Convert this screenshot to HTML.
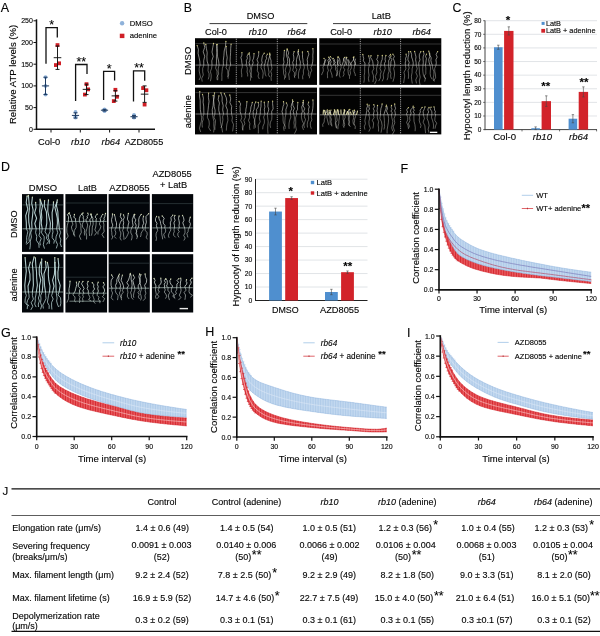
<!DOCTYPE html>
<html><head><meta charset="utf-8"><title>Figure</title>
<style>
html,body{margin:0;padding:0;background:#fff;}
body{width:600px;height:636px;overflow:hidden;}
svg{display:block;font-family:"Liberation Sans",Arial,sans-serif;}
text{stroke:#111;stroke-width:0.22px;stroke-opacity:0.55;}
</style></head><body>
<svg width="600" height="636" viewBox="0 0 600 636">
<rect width="600" height="636" fill="#fff"/>
<text x="0.80" y="11.50" font-size="12.5">A</text>
<line x1="36.50" y1="19.30" x2="36.50" y2="130.00" stroke="#111" stroke-width="1.5" />
<line x1="35.80" y1="129.30" x2="155.00" y2="129.30" stroke="#111" stroke-width="1.5" />
<line x1="33.50" y1="129.30" x2="36.50" y2="129.30" stroke="#111" stroke-width="1" />
<text x="32.90" y="131.80" font-size="7" text-anchor="end">0</text>
<line x1="33.50" y1="107.60" x2="36.50" y2="107.60" stroke="#111" stroke-width="1" />
<text x="32.90" y="110.10" font-size="7" text-anchor="end">50</text>
<line x1="33.50" y1="85.90" x2="36.50" y2="85.90" stroke="#111" stroke-width="1" />
<text x="32.90" y="88.40" font-size="7" text-anchor="end">100</text>
<line x1="33.50" y1="64.20" x2="36.50" y2="64.20" stroke="#111" stroke-width="1" />
<text x="32.90" y="66.70" font-size="7" text-anchor="end">150</text>
<line x1="33.50" y1="42.50" x2="36.50" y2="42.50" stroke="#111" stroke-width="1" />
<text x="32.90" y="45.00" font-size="7" text-anchor="end">200</text>
<line x1="33.50" y1="20.80" x2="36.50" y2="20.80" stroke="#111" stroke-width="1" />
<text x="32.90" y="23.30" font-size="7" text-anchor="end">250</text>
<line x1="51.00" y1="129.30" x2="51.00" y2="132.50" stroke="#111" stroke-width="1" />
<line x1="80.30" y1="129.30" x2="80.30" y2="132.50" stroke="#111" stroke-width="1" />
<line x1="109.60" y1="129.30" x2="109.60" y2="132.50" stroke="#111" stroke-width="1" />
<line x1="139.00" y1="129.30" x2="139.00" y2="132.50" stroke="#111" stroke-width="1" />
<text x="49.20" y="144.50" font-size="9.3" text-anchor="middle">Col-0</text>
<text x="80.40" y="144.50" font-size="9.3" text-anchor="middle" font-style="italic">rb10</text>
<text x="110.90" y="144.50" font-size="9.3" text-anchor="middle" font-style="italic">rb64</text>
<text x="144.00" y="144.50" font-size="9.15" text-anchor="middle">AZD8055</text>
<text x="16.20" y="74.40" font-size="9.6" text-anchor="middle" transform="rotate(-90 16.20 74.40)">Relative ATP levels (%)</text>
<circle cx="45.50" cy="77.22" r="1.9" fill="#8fb2da"/>
<circle cx="45.50" cy="85.90" r="1.9" fill="#8fb2da"/>
<circle cx="45.50" cy="94.58" r="1.9" fill="#8fb2da"/>
<line x1="45.50" y1="77.22" x2="45.50" y2="94.58" stroke="#1f3a5f" stroke-width="1.0" />
<line x1="43.50" y1="77.22" x2="47.50" y2="77.22" stroke="#1f3a5f" stroke-width="1.0" />
<line x1="43.50" y1="94.58" x2="47.50" y2="94.58" stroke="#1f3a5f" stroke-width="1.0" />
<line x1="41.90" y1="85.90" x2="49.10" y2="85.90" stroke="#1f3a5f" stroke-width="1.0" />
<rect x="55.60" y="43.20" width="3.80" height="3.80" fill="#d01f26" />
<rect x="57.20" y="61.43" width="3.80" height="3.80" fill="#d01f26" />
<rect x="54.00" y="63.17" width="3.80" height="3.80" fill="#d01f26" />
<line x1="57.50" y1="45.97" x2="57.50" y2="69.41" stroke="#111" stroke-width="0.95" />
<line x1="55.50" y1="45.97" x2="59.50" y2="45.97" stroke="#111" stroke-width="0.95" />
<line x1="55.50" y1="69.41" x2="59.50" y2="69.41" stroke="#111" stroke-width="0.95" />
<line x1="53.70" y1="57.69" x2="61.30" y2="57.69" stroke="#111" stroke-width="0.95" />
<circle cx="75.50" cy="111.94" r="1.9" fill="#8fb2da"/>
<circle cx="75.50" cy="116.28" r="1.9" fill="#8fb2da"/>
<circle cx="75.50" cy="117.58" r="1.9" fill="#8fb2da"/>
<line x1="75.50" y1="112.81" x2="75.50" y2="118.02" stroke="#1f3a5f" stroke-width="1.0" />
<line x1="73.50" y1="112.81" x2="77.50" y2="112.81" stroke="#1f3a5f" stroke-width="1.0" />
<line x1="73.50" y1="118.02" x2="77.50" y2="118.02" stroke="#1f3a5f" stroke-width="1.0" />
<line x1="71.90" y1="115.41" x2="79.10" y2="115.41" stroke="#1f3a5f" stroke-width="1.0" />
<rect x="84.60" y="82.26" width="3.80" height="3.80" fill="#d01f26" />
<rect x="86.20" y="87.47" width="3.80" height="3.80" fill="#d01f26" />
<rect x="83.00" y="92.68" width="3.80" height="3.80" fill="#d01f26" />
<line x1="86.50" y1="84.16" x2="86.50" y2="94.58" stroke="#111" stroke-width="0.95" />
<line x1="84.50" y1="84.16" x2="88.50" y2="84.16" stroke="#111" stroke-width="0.95" />
<line x1="84.50" y1="94.58" x2="88.50" y2="94.58" stroke="#111" stroke-width="0.95" />
<line x1="82.70" y1="89.37" x2="90.30" y2="89.37" stroke="#111" stroke-width="0.95" />
<circle cx="104.50" cy="109.34" r="1.9" fill="#8fb2da"/>
<circle cx="104.50" cy="110.64" r="1.9" fill="#8fb2da"/>
<circle cx="104.50" cy="111.07" r="1.9" fill="#8fb2da"/>
<line x1="104.50" y1="109.34" x2="104.50" y2="111.07" stroke="#1f3a5f" stroke-width="1.0" />
<line x1="102.50" y1="109.34" x2="106.50" y2="109.34" stroke="#1f3a5f" stroke-width="1.0" />
<line x1="102.50" y1="111.07" x2="106.50" y2="111.07" stroke="#1f3a5f" stroke-width="1.0" />
<line x1="100.90" y1="110.20" x2="108.10" y2="110.20" stroke="#1f3a5f" stroke-width="1.0" />
<rect x="113.50" y="87.91" width="3.80" height="3.80" fill="#d01f26" />
<rect x="115.10" y="94.85" width="3.80" height="3.80" fill="#d01f26" />
<rect x="111.90" y="99.19" width="3.80" height="3.80" fill="#d01f26" />
<line x1="115.40" y1="90.67" x2="115.40" y2="101.09" stroke="#111" stroke-width="0.95" />
<line x1="113.40" y1="90.67" x2="117.40" y2="90.67" stroke="#111" stroke-width="0.95" />
<line x1="113.40" y1="101.09" x2="117.40" y2="101.09" stroke="#111" stroke-width="0.95" />
<line x1="111.60" y1="95.88" x2="119.20" y2="95.88" stroke="#111" stroke-width="0.95" />
<circle cx="134.00" cy="114.98" r="1.9" fill="#8fb2da"/>
<circle cx="134.00" cy="117.15" r="1.9" fill="#8fb2da"/>
<circle cx="134.00" cy="117.58" r="1.9" fill="#8fb2da"/>
<line x1="134.00" y1="115.41" x2="134.00" y2="118.02" stroke="#1f3a5f" stroke-width="1.0" />
<line x1="132.00" y1="115.41" x2="136.00" y2="115.41" stroke="#1f3a5f" stroke-width="1.0" />
<line x1="132.00" y1="118.02" x2="136.00" y2="118.02" stroke="#1f3a5f" stroke-width="1.0" />
<line x1="130.40" y1="116.71" x2="137.60" y2="116.71" stroke="#1f3a5f" stroke-width="1.0" />
<rect x="141.20" y="86.17" width="3.80" height="3.80" fill="#d01f26" />
<rect x="144.50" y="88.34" width="3.80" height="3.80" fill="#d01f26" />
<rect x="142.70" y="102.66" width="3.80" height="3.80" fill="#d01f26" />
<line x1="144.60" y1="85.90" x2="144.60" y2="102.39" stroke="#111" stroke-width="0.95" />
<line x1="142.60" y1="85.90" x2="146.60" y2="85.90" stroke="#111" stroke-width="0.95" />
<line x1="142.60" y1="102.39" x2="146.60" y2="102.39" stroke="#111" stroke-width="0.95" />
<line x1="140.80" y1="94.15" x2="148.40" y2="94.15" stroke="#111" stroke-width="0.95" />
<path d="M46 63.8 V27.6 H57.3 V37.5" stroke="#111" stroke-width="1.3" fill="none" />
<text x="51.65" y="28.80" font-size="12.5" text-anchor="middle">*</text>
<path d="M75.6 101 V64.5 H87 V74" stroke="#111" stroke-width="1.3" fill="none" />
<text x="81.30" y="65.70" font-size="12.5" text-anchor="middle">**</text>
<path d="M103.6 100 V71.4 H114.6 V80.5" stroke="#111" stroke-width="1.3" fill="none" />
<text x="109.10" y="72.60" font-size="12.5" text-anchor="middle">*</text>
<path d="M133.5 101.5 V70.9 H144.7 V80.8" stroke="#111" stroke-width="1.3" fill="none" />
<text x="139.10" y="72.10" font-size="12.5" text-anchor="middle">**</text>
<circle cx="122.1" cy="23.3" r="2.2" fill="#8fb2da"/>
<text x="129.70" y="26.30" font-size="7.7">DMSO</text>
<rect x="119.80" y="33.70" width="4.60" height="4.40" fill="#d01f26" />
<text x="129.70" y="38.30" font-size="7.7">adenine</text>
<text x="452.60" y="11.60" font-size="12.3">C</text>
<line x1="483.20" y1="129.60" x2="485.00" y2="129.60" stroke="#444" stroke-width="0.8" />
<text x="481.40" y="131.90" font-size="6.5" text-anchor="end">0</text>
<line x1="485.00" y1="115.99" x2="597.00" y2="115.99" stroke="#d4d8dc" stroke-width="0.7" />
<line x1="483.20" y1="115.99" x2="485.00" y2="115.99" stroke="#444" stroke-width="0.8" />
<text x="481.40" y="118.29" font-size="6.5" text-anchor="end">10</text>
<line x1="485.00" y1="102.38" x2="597.00" y2="102.38" stroke="#d4d8dc" stroke-width="0.7" />
<line x1="483.20" y1="102.38" x2="485.00" y2="102.38" stroke="#444" stroke-width="0.8" />
<text x="481.40" y="104.67" font-size="6.5" text-anchor="end">20</text>
<line x1="485.00" y1="88.76" x2="597.00" y2="88.76" stroke="#d4d8dc" stroke-width="0.7" />
<line x1="483.20" y1="88.76" x2="485.00" y2="88.76" stroke="#444" stroke-width="0.8" />
<text x="481.40" y="91.06" font-size="6.5" text-anchor="end">30</text>
<line x1="485.00" y1="75.15" x2="597.00" y2="75.15" stroke="#d4d8dc" stroke-width="0.7" />
<line x1="483.20" y1="75.15" x2="485.00" y2="75.15" stroke="#444" stroke-width="0.8" />
<text x="481.40" y="77.45" font-size="6.5" text-anchor="end">40</text>
<line x1="485.00" y1="61.54" x2="597.00" y2="61.54" stroke="#d4d8dc" stroke-width="0.7" />
<line x1="483.20" y1="61.54" x2="485.00" y2="61.54" stroke="#444" stroke-width="0.8" />
<text x="481.40" y="63.84" font-size="6.5" text-anchor="end">50</text>
<line x1="485.00" y1="47.92" x2="597.00" y2="47.92" stroke="#d4d8dc" stroke-width="0.7" />
<line x1="483.20" y1="47.92" x2="485.00" y2="47.92" stroke="#444" stroke-width="0.8" />
<text x="481.40" y="50.22" font-size="6.5" text-anchor="end">60</text>
<line x1="485.00" y1="34.31" x2="597.00" y2="34.31" stroke="#d4d8dc" stroke-width="0.7" />
<line x1="483.20" y1="34.31" x2="485.00" y2="34.31" stroke="#444" stroke-width="0.8" />
<text x="481.40" y="36.61" font-size="6.5" text-anchor="end">70</text>
<line x1="485.00" y1="20.70" x2="597.00" y2="20.70" stroke="#d4d8dc" stroke-width="0.7" />
<line x1="483.20" y1="20.70" x2="485.00" y2="20.70" stroke="#444" stroke-width="0.8" />
<text x="481.40" y="23.00" font-size="6.5" text-anchor="end">80</text>
<line x1="485.00" y1="20.50" x2="485.00" y2="130.10" stroke="#444" stroke-width="1.0" />
<line x1="484.50" y1="129.60" x2="597.00" y2="129.60" stroke="#444" stroke-width="1.0" />
<line x1="522.00" y1="129.60" x2="522.00" y2="131.40" stroke="#444" stroke-width="0.8" />
<line x1="559.60" y1="129.60" x2="559.60" y2="131.40" stroke="#444" stroke-width="0.8" />
<line x1="596.60" y1="129.60" x2="596.60" y2="131.40" stroke="#444" stroke-width="0.8" />
<rect x="494.00" y="47.24" width="8.60" height="82.36" fill="#4f8fcf" />
<line x1="498.30" y1="45.20" x2="498.30" y2="49.29" stroke="#444" stroke-width="0.6" />
<line x1="497.10" y1="45.20" x2="499.50" y2="45.20" stroke="#444" stroke-width="0.6" />
<line x1="497.10" y1="49.29" x2="499.50" y2="49.29" stroke="#444" stroke-width="0.6" />
<rect x="504.10" y="30.91" width="9.40" height="98.69" fill="#d2232a" />
<line x1="508.80" y1="26.83" x2="508.80" y2="34.99" stroke="#444" stroke-width="0.6" />
<line x1="507.60" y1="26.83" x2="510.00" y2="26.83" stroke="#444" stroke-width="0.6" />
<line x1="507.60" y1="34.99" x2="510.00" y2="34.99" stroke="#444" stroke-width="0.6" />
<rect x="531.30" y="128.24" width="8.60" height="1.36" fill="#4f8fcf" />
<line x1="535.60" y1="126.88" x2="535.60" y2="129.60" stroke="#444" stroke-width="0.6" />
<line x1="534.40" y1="126.88" x2="536.80" y2="126.88" stroke="#444" stroke-width="0.6" />
<line x1="534.40" y1="129.60" x2="536.80" y2="129.60" stroke="#444" stroke-width="0.6" />
<rect x="541.60" y="101.15" width="9.40" height="28.45" fill="#d2232a" />
<line x1="546.30" y1="95.84" x2="546.30" y2="106.46" stroke="#444" stroke-width="0.6" />
<line x1="545.10" y1="95.84" x2="547.50" y2="95.84" stroke="#444" stroke-width="0.6" />
<line x1="545.10" y1="106.46" x2="547.50" y2="106.46" stroke="#444" stroke-width="0.6" />
<rect x="568.60" y="118.71" width="8.60" height="10.89" fill="#4f8fcf" />
<line x1="572.90" y1="114.63" x2="572.90" y2="122.79" stroke="#444" stroke-width="0.6" />
<line x1="571.70" y1="114.63" x2="574.10" y2="114.63" stroke="#444" stroke-width="0.6" />
<line x1="571.70" y1="122.79" x2="574.10" y2="122.79" stroke="#444" stroke-width="0.6" />
<rect x="578.70" y="91.89" width="9.40" height="37.71" fill="#d2232a" />
<line x1="583.40" y1="86.86" x2="583.40" y2="96.93" stroke="#444" stroke-width="0.6" />
<line x1="582.20" y1="86.86" x2="584.60" y2="86.86" stroke="#444" stroke-width="0.6" />
<line x1="582.20" y1="96.93" x2="584.60" y2="96.93" stroke="#444" stroke-width="0.6" />
<text x="508.00" y="24.20" font-size="11.5" text-anchor="middle" font-weight="bold">*</text>
<text x="545.80" y="89.50" font-size="11.5" text-anchor="middle" font-weight="bold">**</text>
<text x="584.00" y="85.70" font-size="11.5" text-anchor="middle" font-weight="bold">**</text>
<text x="504.60" y="140.30" font-size="9.6" text-anchor="middle">Col-0</text>
<text x="542.40" y="140.00" font-size="9.6" text-anchor="middle" font-style="italic">rb10</text>
<text x="578.60" y="140.00" font-size="9.6" text-anchor="middle" font-style="italic">rb64</text>
<text x="470.20" y="75.80" font-size="9.47" text-anchor="middle" transform="rotate(-90 470.20 75.80)">Hypocotyl length reduction (%)</text>
<rect x="541.60" y="21.90" width="3.00" height="3.00" fill="#4f8fcf" />
<text x="545.90" y="25.80" font-size="7.35">LatB</text>
<rect x="541.30" y="28.90" width="3.80" height="3.80" fill="#d2232a" />
<text x="545.90" y="32.90" font-size="7.35">LatB + adenine</text>
<text x="215.80" y="173.50" font-size="12.4">E</text>
<text x="252.20" y="302.90" font-size="6.8" text-anchor="end">0</text>
<line x1="255.50" y1="287.02" x2="367.50" y2="287.02" stroke="#d4d8dc" stroke-width="0.7" />
<text x="252.20" y="289.42" font-size="6.8" text-anchor="end">10</text>
<line x1="255.50" y1="273.54" x2="367.50" y2="273.54" stroke="#d4d8dc" stroke-width="0.7" />
<text x="252.20" y="275.94" font-size="6.8" text-anchor="end">20</text>
<line x1="255.50" y1="260.07" x2="367.50" y2="260.07" stroke="#d4d8dc" stroke-width="0.7" />
<text x="252.20" y="262.47" font-size="6.8" text-anchor="end">30</text>
<line x1="255.50" y1="246.59" x2="367.50" y2="246.59" stroke="#d4d8dc" stroke-width="0.7" />
<text x="252.20" y="248.99" font-size="6.8" text-anchor="end">40</text>
<line x1="255.50" y1="233.11" x2="367.50" y2="233.11" stroke="#d4d8dc" stroke-width="0.7" />
<text x="252.20" y="235.51" font-size="6.8" text-anchor="end">50</text>
<line x1="255.50" y1="219.63" x2="367.50" y2="219.63" stroke="#d4d8dc" stroke-width="0.7" />
<text x="252.20" y="222.03" font-size="6.8" text-anchor="end">60</text>
<line x1="255.50" y1="206.16" x2="367.50" y2="206.16" stroke="#d4d8dc" stroke-width="0.7" />
<text x="252.20" y="208.56" font-size="6.8" text-anchor="end">70</text>
<line x1="255.50" y1="192.68" x2="367.50" y2="192.68" stroke="#d4d8dc" stroke-width="0.7" />
<text x="252.20" y="195.08" font-size="6.8" text-anchor="end">80</text>
<line x1="255.50" y1="179.20" x2="367.50" y2="179.20" stroke="#d4d8dc" stroke-width="0.7" />
<text x="252.20" y="181.60" font-size="6.8" text-anchor="end">90</text>
<line x1="255.50" y1="179.00" x2="255.50" y2="301.00" stroke="#222" stroke-width="1.0" />
<line x1="255.00" y1="300.50" x2="367.50" y2="300.50" stroke="#222" stroke-width="1.0" />
<rect x="269.10" y="211.55" width="12.80" height="88.95" fill="#4f8fcf" />
<line x1="275.50" y1="208.18" x2="275.50" y2="214.92" stroke="#444" stroke-width="0.6" />
<line x1="274.30" y1="208.18" x2="276.70" y2="208.18" stroke="#444" stroke-width="0.6" />
<line x1="274.30" y1="214.92" x2="276.70" y2="214.92" stroke="#444" stroke-width="0.6" />
<rect x="285.20" y="198.07" width="12.80" height="102.43" fill="#d2232a" />
<line x1="291.60" y1="196.72" x2="291.60" y2="199.42" stroke="#444" stroke-width="0.6" />
<line x1="290.40" y1="196.72" x2="292.80" y2="196.72" stroke="#444" stroke-width="0.6" />
<line x1="290.40" y1="199.42" x2="292.80" y2="199.42" stroke="#444" stroke-width="0.6" />
<rect x="325.00" y="292.01" width="12.80" height="8.49" fill="#4f8fcf" />
<line x1="331.40" y1="289.31" x2="331.40" y2="294.70" stroke="#444" stroke-width="0.6" />
<line x1="330.20" y1="289.31" x2="332.60" y2="289.31" stroke="#444" stroke-width="0.6" />
<line x1="330.20" y1="294.70" x2="332.60" y2="294.70" stroke="#444" stroke-width="0.6" />
<rect x="341.10" y="272.20" width="12.80" height="28.30" fill="#d2232a" />
<line x1="347.50" y1="270.98" x2="347.50" y2="273.41" stroke="#444" stroke-width="0.6" />
<line x1="346.30" y1="270.98" x2="348.70" y2="270.98" stroke="#444" stroke-width="0.6" />
<line x1="346.30" y1="273.41" x2="348.70" y2="273.41" stroke="#444" stroke-width="0.6" />
<text x="290.80" y="195.00" font-size="11.5" text-anchor="middle" font-weight="bold">*</text>
<text x="347.70" y="270.40" font-size="11.5" text-anchor="middle" font-weight="bold">**</text>
<text x="285.30" y="312.80" font-size="8.9" text-anchor="middle">DMSO</text>
<text x="339.60" y="312.60" font-size="9.25" text-anchor="middle">AZD8055</text>
<text x="239.20" y="236.40" font-size="9.52" text-anchor="middle" transform="rotate(-90 239.20 236.40)">Hypocotyl of length reduction (%)</text>
<rect x="310.80" y="180.80" width="3.40" height="3.40" fill="#4f8fcf" />
<text x="316.60" y="185.00" font-size="7.55">LatB</text>
<rect x="310.80" y="191.30" width="3.40" height="3.40" fill="#d2232a" />
<text x="316.60" y="195.60" font-size="7.55">LatB + adenine</text>
<text x="183.80" y="11.70" font-size="12.3">B</text>
<text x="260.50" y="18.90" font-size="9.2" text-anchor="middle">DMSO</text>
<text x="381.30" y="18.90" font-size="9.35" text-anchor="middle">LatB</text>
<line x1="209.50" y1="23.60" x2="307.30" y2="23.60" stroke="#222" stroke-width="0.9" />
<line x1="333.00" y1="23.60" x2="430.70" y2="23.60" stroke="#222" stroke-width="0.9" />
<text x="216.00" y="34.50" font-size="9.2" text-anchor="middle">Col-0</text>
<text x="258.00" y="34.50" font-size="9.2" text-anchor="middle" font-style="italic">rb10</text>
<text x="296.70" y="34.50" font-size="9.2" text-anchor="middle" font-style="italic">rb64</text>
<text x="341.20" y="34.50" font-size="9.2" text-anchor="middle">Col-0</text>
<text x="382.80" y="34.50" font-size="9.2" text-anchor="middle" font-style="italic">rb10</text>
<text x="421.70" y="34.50" font-size="9.2" text-anchor="middle" font-style="italic">rb64</text>
<text x="191.50" y="60.90" font-size="9.45" text-anchor="middle" transform="rotate(-90 191.50 60.90)">DMSO</text>
<text x="191.50" y="111.70" font-size="9.3" text-anchor="middle" transform="rotate(-90 191.50 111.70)">adenine</text>
<rect x="195.00" y="38.20" width="122.00" height="46.70" fill="#030303" />
<line x1="195.50" y1="43.60" x2="235.80" y2="43.60" stroke="#909090" stroke-width="0.7" stroke-opacity="0.5"/>
<line x1="195.50" y1="65.10" x2="235.80" y2="65.10" stroke="#c0c0c0" stroke-width="0.8" stroke-opacity="0.75"/>
<path d="M200.1 65.1 L199.8 61.2 L199.0 57.3 L198.1 53.4 L198.4 49.5 L197.2 45.6" stroke="#ecece6" stroke-width="0.6" fill="none" stroke-opacity="0.9" stroke-linejoin="round"/>
<circle cx="197.2" cy="45.6" r="0.65" fill="#cfc97a"/>
<path d="M200.1 65.1 L199.2 68.1 L199.2 71.0 L199.8 74.0 L200.5 77.0 L199.1 80.0" stroke="#ecece6" stroke-width="0.54" fill="none" stroke-opacity="0.7200000000000001" stroke-linejoin="round"/>
<path d="M203.8 65.1 L203.7 60.7 L204.7 56.2 L203.2 51.8 L204.7 47.4 L203.8 42.9" stroke="#ecece6" stroke-width="0.6" fill="none" stroke-opacity="0.9" stroke-linejoin="round"/>
<circle cx="203.8" cy="42.9" r="0.65" fill="#cfc97a"/>
<path d="M203.8 65.1 L202.7 68.4 L202.7 71.7 L203.3 75.0 L201.7 78.3 L202.2 81.6" stroke="#ecece6" stroke-width="0.54" fill="none" stroke-opacity="0.7200000000000001" stroke-linejoin="round"/>
<path d="M208.3 65.1 L207.1 61.0 L206.9 56.8 L207.2 52.7 L206.4 48.5 L205.8 44.4" stroke="#ecece6" stroke-width="0.6" fill="none" stroke-opacity="0.9" stroke-linejoin="round"/>
<circle cx="205.8" cy="44.4" r="0.65" fill="#cfc97a"/>
<path d="M208.3 65.1 L208.2 68.0 L208.0 70.8 L209.1 73.7 L209.0 76.5 L208.2 79.4" stroke="#ecece6" stroke-width="0.54" fill="none" stroke-opacity="0.7200000000000001" stroke-linejoin="round"/>
<path d="M212.0 65.1 L211.8 60.8 L213.2 56.5 L212.0 52.1 L212.7 47.8 L213.5 43.5" stroke="#ecece6" stroke-width="0.6" fill="none" stroke-opacity="0.9" stroke-linejoin="round"/>
<circle cx="213.5" cy="43.5" r="0.65" fill="#cfc97a"/>
<path d="M212.0 65.1 L211.6 68.3 L210.4 71.5 L211.2 74.8 L211.1 78.0 L210.4 81.2" stroke="#ecece6" stroke-width="0.54" fill="none" stroke-opacity="0.7200000000000001" stroke-linejoin="round"/>
<path d="M216.3 65.1 L216.5 61.0 L216.4 56.9 L217.1 52.8 L217.4 48.8 L216.7 44.7" stroke="#ecece6" stroke-width="0.6" fill="none" stroke-opacity="0.9" stroke-linejoin="round"/>
<circle cx="216.7" cy="44.7" r="0.65" fill="#cfc97a"/>
<path d="M216.3 65.1 L215.6 68.1 L217.0 71.1 L217.0 74.2 L217.9 77.2 L217.7 80.2" stroke="#ecece6" stroke-width="0.54" fill="none" stroke-opacity="0.7200000000000001" stroke-linejoin="round"/>
<path d="M219.1 65.1 L218.6 60.9 L217.6 56.8 L217.0 52.6 L216.5 48.4 L217.2 44.3" stroke="#ecece6" stroke-width="0.6" fill="none" stroke-opacity="0.9" stroke-linejoin="round"/>
<circle cx="217.2" cy="44.3" r="0.65" fill="#cfc97a"/>
<path d="M219.1 65.1 L218.3 68.1 L218.2 71.1 L218.7 74.1 L216.8 77.1 L217.2 80.1" stroke="#ecece6" stroke-width="0.54" fill="none" stroke-opacity="0.7200000000000001" stroke-linejoin="round"/>
<path d="M223.4 65.1 L223.3 60.4 L223.9 55.7 L224.2 51.0 L225.5 46.3 L225.9 41.5" stroke="#ecece6" stroke-width="0.6" fill="none" stroke-opacity="0.9" stroke-linejoin="round"/>
<circle cx="225.9" cy="41.5" r="0.65" fill="#cfc97a"/>
<path d="M223.4 65.1 L222.4 68.3 L222.1 71.4 L221.8 74.6 L221.9 77.7 L221.8 80.9" stroke="#ecece6" stroke-width="0.54" fill="none" stroke-opacity="0.7200000000000001" stroke-linejoin="round"/>
<path d="M226.7 65.1 L226.7 61.4 L227.2 57.6 L226.6 53.9 L226.2 50.1 L226.2 46.4" stroke="#ecece6" stroke-width="0.6" fill="none" stroke-opacity="0.9" stroke-linejoin="round"/>
<circle cx="226.2" cy="46.4" r="0.65" fill="#cfc97a"/>
<path d="M226.7 65.1 L226.0 67.8 L227.8 70.5 L227.8 73.2 L228.1 76.0 L228.2 78.7" stroke="#ecece6" stroke-width="0.54" fill="none" stroke-opacity="0.7200000000000001" stroke-linejoin="round"/>
<path d="M230.7 65.1 L230.1 60.9 L230.3 56.7 L230.6 52.6 L230.7 48.4 L231.1 44.2" stroke="#ecece6" stroke-width="0.6" fill="none" stroke-opacity="0.9" stroke-linejoin="round"/>
<circle cx="231.1" cy="44.2" r="0.65" fill="#cfc97a"/>
<path d="M230.7 65.1 L229.3 67.5 L229.2 69.8 L228.6 72.2 L228.7 74.6 L227.6 76.9" stroke="#ecece6" stroke-width="0.54" fill="none" stroke-opacity="0.7200000000000001" stroke-linejoin="round"/>
<line x1="236.80" y1="43.60" x2="276.80" y2="43.60" stroke="#909090" stroke-width="0.7" stroke-opacity="0.5"/>
<line x1="236.80" y1="65.10" x2="276.80" y2="65.10" stroke="#c0c0c0" stroke-width="0.8" stroke-opacity="0.75"/>
<path d="M242.3 65.1 L241.8 62.6 L241.6 60.1 L240.9 57.6 L241.9 55.1 L241.9 52.6" stroke="#ecece6" stroke-width="0.6" fill="none" stroke-opacity="0.9" stroke-linejoin="round"/>
<circle cx="241.9" cy="52.6" r="0.65" fill="#cfc97a"/>
<path d="M242.3 65.1 L242.2 67.5 L241.4 69.9 L241.4 72.3 L241.8 74.8 L241.7 77.2" stroke="#ecece6" stroke-width="0.54" fill="none" stroke-opacity="0.7200000000000001" stroke-linejoin="round"/>
<path d="M246.0 65.1 L246.5 62.9 L246.3 60.6 L247.4 58.4 L247.0 56.2 L248.3 54.0" stroke="#ecece6" stroke-width="0.6" fill="none" stroke-opacity="0.9" stroke-linejoin="round"/>
<circle cx="248.3" cy="54.0" r="0.65" fill="#cfc97a"/>
<path d="M246.0 65.1 L247.2 67.4 L247.3 69.7 L247.0 71.9 L247.7 74.2 L247.7 76.5" stroke="#ecece6" stroke-width="0.54" fill="none" stroke-opacity="0.7200000000000001" stroke-linejoin="round"/>
<path d="M249.7 65.1 L249.0 62.6 L249.9 60.2 L250.0 57.7 L249.6 55.3 L249.3 52.8" stroke="#ecece6" stroke-width="0.6" fill="none" stroke-opacity="0.9" stroke-linejoin="round"/>
<circle cx="249.3" cy="52.8" r="0.65" fill="#cfc97a"/>
<path d="M249.7 65.1 L250.5 68.2 L249.8 71.3 L250.7 74.4 L250.7 77.6 L250.4 80.7" stroke="#ecece6" stroke-width="0.54" fill="none" stroke-opacity="0.7200000000000001" stroke-linejoin="round"/>
<path d="M252.3 65.1 L253.2 62.8 L252.6 60.5 L253.6 58.2 L253.9 55.9 L254.0 53.6" stroke="#ecece6" stroke-width="0.6" fill="none" stroke-opacity="0.9" stroke-linejoin="round"/>
<circle cx="254.0" cy="53.6" r="0.65" fill="#cfc97a"/>
<path d="M252.3 65.1 L251.6 67.6 L251.5 70.2 L251.3 72.7 L251.2 75.3 L251.8 77.8" stroke="#ecece6" stroke-width="0.54" fill="none" stroke-opacity="0.7200000000000001" stroke-linejoin="round"/>
<path d="M257.4 65.1 L258.1 62.4 L257.0 59.8 L258.2 57.1 L258.7 54.5 L258.7 51.8" stroke="#ecece6" stroke-width="0.6" fill="none" stroke-opacity="0.9" stroke-linejoin="round"/>
<circle cx="258.7" cy="51.8" r="0.65" fill="#cfc97a"/>
<path d="M257.4 65.1 L257.6 67.9 L257.3 70.7 L258.7 73.4 L258.1 76.2 L259.3 79.0" stroke="#ecece6" stroke-width="0.54" fill="none" stroke-opacity="0.7200000000000001" stroke-linejoin="round"/>
<path d="M261.3 65.1 L262.2 62.7 L261.7 60.4 L262.0 58.0 L262.5 55.6 L264.2 53.2" stroke="#ecece6" stroke-width="0.6" fill="none" stroke-opacity="0.9" stroke-linejoin="round"/>
<circle cx="264.2" cy="53.2" r="0.65" fill="#cfc97a"/>
<path d="M261.3 65.1 L261.0 67.8 L262.6 70.5 L263.2 73.2 L262.9 75.9 L262.6 78.6" stroke="#ecece6" stroke-width="0.54" fill="none" stroke-opacity="0.7200000000000001" stroke-linejoin="round"/>
<path d="M264.4 65.1 L265.2 62.9 L265.4 60.7 L266.6 58.5 L266.2 56.3 L267.4 54.1" stroke="#ecece6" stroke-width="0.6" fill="none" stroke-opacity="0.9" stroke-linejoin="round"/>
<circle cx="267.4" cy="54.1" r="0.65" fill="#cfc97a"/>
<path d="M264.4 65.1 L264.2 67.4 L264.6 69.6 L265.0 71.9 L265.2 74.2 L266.2 76.4" stroke="#ecece6" stroke-width="0.54" fill="none" stroke-opacity="0.7200000000000001" stroke-linejoin="round"/>
<path d="M267.7 65.1 L267.9 62.7 L268.5 60.3 L269.1 57.9 L270.1 55.6 L269.7 53.2" stroke="#ecece6" stroke-width="0.6" fill="none" stroke-opacity="0.9" stroke-linejoin="round"/>
<circle cx="269.7" cy="53.2" r="0.65" fill="#cfc97a"/>
<path d="M267.7 65.1 L268.2 67.5 L268.6 69.9 L269.0 72.3 L268.5 74.7 L269.7 77.1" stroke="#ecece6" stroke-width="0.54" fill="none" stroke-opacity="0.7200000000000001" stroke-linejoin="round"/>
<path d="M271.4 65.1 L271.0 63.0 L271.1 60.8 L270.5 58.7 L269.8 56.6 L269.8 54.5" stroke="#ecece6" stroke-width="0.6" fill="none" stroke-opacity="0.9" stroke-linejoin="round"/>
<circle cx="269.8" cy="54.5" r="0.65" fill="#cfc97a"/>
<path d="M271.4 65.1 L272.0 68.2 L270.8 71.4 L271.7 74.5 L271.1 77.6 L271.3 80.8" stroke="#ecece6" stroke-width="0.54" fill="none" stroke-opacity="0.7200000000000001" stroke-linejoin="round"/>
<line x1="277.80" y1="43.60" x2="316.50" y2="43.60" stroke="#909090" stroke-width="0.7" stroke-opacity="0.5"/>
<line x1="277.80" y1="65.10" x2="316.50" y2="65.10" stroke="#c0c0c0" stroke-width="0.8" stroke-opacity="0.75"/>
<path d="M283.1 65.1 L284.0 62.2 L283.5 59.2 L284.0 56.3 L284.1 53.4 L284.4 50.4" stroke="#ecece6" stroke-width="0.6" fill="none" stroke-opacity="0.9" stroke-linejoin="round"/>
<circle cx="284.4" cy="50.4" r="0.65" fill="#cfc97a"/>
<path d="M283.1 65.1 L283.2 68.0 L283.5 70.8 L283.6 73.7 L284.7 76.6 L284.4 79.5" stroke="#ecece6" stroke-width="0.54" fill="none" stroke-opacity="0.7200000000000001" stroke-linejoin="round"/>
<path d="M286.9 65.1 L287.7 61.8 L287.5 58.6 L286.4 55.3 L286.5 52.1 L287.1 48.8" stroke="#ecece6" stroke-width="0.6" fill="none" stroke-opacity="0.9" stroke-linejoin="round"/>
<circle cx="287.1" cy="48.8" r="0.65" fill="#cfc97a"/>
<path d="M286.9 65.1 L285.9 67.6 L285.2 70.2 L285.9 72.7 L285.7 75.3 L285.5 77.8" stroke="#ecece6" stroke-width="0.54" fill="none" stroke-opacity="0.7200000000000001" stroke-linejoin="round"/>
<path d="M289.3 65.1 L289.6 62.0 L289.4 58.9 L287.8 55.8 L288.7 52.8 L287.4 49.7" stroke="#ecece6" stroke-width="0.6" fill="none" stroke-opacity="0.9" stroke-linejoin="round"/>
<circle cx="287.4" cy="49.7" r="0.65" fill="#cfc97a"/>
<path d="M289.3 65.1 L290.3 68.1 L289.9 71.1 L288.6 74.0 L289.1 77.0 L289.3 80.0" stroke="#ecece6" stroke-width="0.54" fill="none" stroke-opacity="0.7200000000000001" stroke-linejoin="round"/>
<path d="M293.3 65.1 L292.7 62.4 L293.8 59.7 L293.8 57.0 L293.3 54.3 L294.1 51.6" stroke="#ecece6" stroke-width="0.6" fill="none" stroke-opacity="0.9" stroke-linejoin="round"/>
<circle cx="294.1" cy="51.6" r="0.65" fill="#cfc97a"/>
<path d="M293.3 65.1 L293.4 67.7 L292.7 70.3 L294.6 72.9 L294.3 75.5 L294.8 78.1" stroke="#ecece6" stroke-width="0.54" fill="none" stroke-opacity="0.7200000000000001" stroke-linejoin="round"/>
<path d="M296.5 65.1 L296.4 62.4 L296.5 59.6 L297.2 56.9 L298.3 54.1 L298.4 51.4" stroke="#ecece6" stroke-width="0.6" fill="none" stroke-opacity="0.9" stroke-linejoin="round"/>
<circle cx="298.4" cy="51.4" r="0.65" fill="#cfc97a"/>
<path d="M296.5 65.1 L295.6 67.4 L296.8 69.7 L295.9 72.0 L295.9 74.3 L294.5 76.6" stroke="#ecece6" stroke-width="0.54" fill="none" stroke-opacity="0.7200000000000001" stroke-linejoin="round"/>
<path d="M300.1 65.1 L300.4 62.0 L299.4 59.0 L299.3 55.9 L297.7 52.8 L298.5 49.8" stroke="#ecece6" stroke-width="0.6" fill="none" stroke-opacity="0.9" stroke-linejoin="round"/>
<circle cx="298.5" cy="49.8" r="0.65" fill="#cfc97a"/>
<path d="M300.1 65.1 L300.3 67.8 L299.1 70.5 L298.5 73.3 L298.4 76.0 L298.7 78.7" stroke="#ecece6" stroke-width="0.54" fill="none" stroke-opacity="0.7200000000000001" stroke-linejoin="round"/>
<path d="M304.0 65.1 L303.1 62.5 L303.0 59.8 L302.5 57.2 L302.5 54.5 L302.4 51.9" stroke="#ecece6" stroke-width="0.6" fill="none" stroke-opacity="0.9" stroke-linejoin="round"/>
<circle cx="302.4" cy="51.9" r="0.65" fill="#cfc97a"/>
<path d="M304.0 65.1 L304.3 67.9 L303.3 70.8 L303.5 73.6 L302.6 76.4 L302.8 79.3" stroke="#ecece6" stroke-width="0.54" fill="none" stroke-opacity="0.7200000000000001" stroke-linejoin="round"/>
<path d="M307.3 65.1 L307.6 62.4 L307.2 59.6 L307.9 56.9 L308.9 54.1 L307.8 51.4" stroke="#ecece6" stroke-width="0.6" fill="none" stroke-opacity="0.9" stroke-linejoin="round"/>
<circle cx="307.8" cy="51.4" r="0.65" fill="#cfc97a"/>
<path d="M307.3 65.1 L307.5 67.4 L307.9 69.6 L308.9 71.9 L308.3 74.2 L308.9 76.4" stroke="#ecece6" stroke-width="0.54" fill="none" stroke-opacity="0.7200000000000001" stroke-linejoin="round"/>
<path d="M312.0 65.1 L312.7 61.8 L312.9 58.5 L312.8 55.2 L313.1 52.0 L312.9 48.7" stroke="#ecece6" stroke-width="0.6" fill="none" stroke-opacity="0.9" stroke-linejoin="round"/>
<circle cx="312.9" cy="48.7" r="0.65" fill="#cfc97a"/>
<path d="M312.0 65.1 L310.8 67.7 L311.7 70.4 L310.4 73.0 L309.9 75.6 L309.3 78.3" stroke="#ecece6" stroke-width="0.54" fill="none" stroke-opacity="0.7200000000000001" stroke-linejoin="round"/>
<line x1="236.30" y1="38.70" x2="236.30" y2="84.40" stroke="#e8e8e8" stroke-width="0.8" stroke-dasharray="1.2 1" stroke-opacity="0.85"/>
<line x1="277.30" y1="38.70" x2="277.30" y2="84.40" stroke="#e8e8e8" stroke-width="0.8" stroke-dasharray="1.2 1" stroke-opacity="0.85"/>
<rect x="195.00" y="87.60" width="122.00" height="46.80" fill="#030303" />
<line x1="195.50" y1="92.60" x2="235.80" y2="92.60" stroke="#909090" stroke-width="0.7" stroke-opacity="0.5"/>
<line x1="195.50" y1="114.00" x2="235.80" y2="114.00" stroke="#c0c0c0" stroke-width="0.8" stroke-opacity="0.75"/>
<path d="M201.0 114.0 L200.3 109.5 L200.2 105.0 L200.2 100.5 L199.5 96.1 L199.8 91.6" stroke="#ecece6" stroke-width="0.6" fill="none" stroke-opacity="0.9" stroke-linejoin="round"/>
<circle cx="199.8" cy="91.6" r="0.65" fill="#cfc97a"/>
<path d="M201.0 114.0 L201.6 117.6 L201.4 121.2 L200.3 124.8 L199.5 128.4 L200.7 132.0" stroke="#ecece6" stroke-width="0.54" fill="none" stroke-opacity="0.7200000000000001" stroke-linejoin="round"/>
<path d="M203.9 114.0 L203.8 110.1 L203.7 106.1 L203.1 102.2 L203.4 98.2 L202.5 94.3" stroke="#ecece6" stroke-width="0.6" fill="none" stroke-opacity="0.9" stroke-linejoin="round"/>
<circle cx="202.5" cy="94.3" r="0.65" fill="#cfc97a"/>
<path d="M203.9 114.0 L202.9 116.7 L203.2 119.4 L202.3 122.1 L202.1 124.8 L202.4 127.5" stroke="#ecece6" stroke-width="0.54" fill="none" stroke-opacity="0.7200000000000001" stroke-linejoin="round"/>
<path d="M207.6 114.0 L208.1 109.8 L208.5 105.6 L209.0 101.4 L208.4 97.3 L208.6 93.1" stroke="#ecece6" stroke-width="0.6" fill="none" stroke-opacity="0.9" stroke-linejoin="round"/>
<circle cx="208.6" cy="93.1" r="0.65" fill="#cfc97a"/>
<path d="M207.6 114.0 L207.4 117.4 L209.0 120.8 L209.3 124.2 L208.7 127.6 L210.7 131.0" stroke="#ecece6" stroke-width="0.54" fill="none" stroke-opacity="0.7200000000000001" stroke-linejoin="round"/>
<path d="M212.5 114.0 L212.2 109.8 L213.1 105.5 L213.4 101.3 L214.3 97.1 L214.5 92.9" stroke="#ecece6" stroke-width="0.6" fill="none" stroke-opacity="0.9" stroke-linejoin="round"/>
<circle cx="214.5" cy="92.9" r="0.65" fill="#cfc97a"/>
<path d="M212.5 114.0 L213.0 117.7 L213.9 121.4 L213.8 125.0 L214.1 128.7 L213.6 132.4" stroke="#ecece6" stroke-width="0.54" fill="none" stroke-opacity="0.7200000000000001" stroke-linejoin="round"/>
<path d="M214.9 114.0 L215.1 110.3 L214.2 106.6 L213.9 102.9 L213.5 99.2 L213.2 95.5" stroke="#ecece6" stroke-width="0.6" fill="none" stroke-opacity="0.9" stroke-linejoin="round"/>
<circle cx="213.2" cy="95.5" r="0.65" fill="#cfc97a"/>
<path d="M214.9 114.0 L213.9 117.2 L215.5 120.4 L215.3 123.5 L214.9 126.7 L214.9 129.9" stroke="#ecece6" stroke-width="0.54" fill="none" stroke-opacity="0.7200000000000001" stroke-linejoin="round"/>
<path d="M219.7 114.0 L218.8 110.4 L218.8 106.7 L219.4 103.1 L218.2 99.4 L218.9 95.8" stroke="#ecece6" stroke-width="0.6" fill="none" stroke-opacity="0.9" stroke-linejoin="round"/>
<circle cx="218.9" cy="95.8" r="0.65" fill="#cfc97a"/>
<path d="M219.7 114.0 L220.2 117.7 L220.4 121.4 L221.1 125.0 L222.0 128.7 L222.6 132.4" stroke="#ecece6" stroke-width="0.54" fill="none" stroke-opacity="0.7200000000000001" stroke-linejoin="round"/>
<path d="M223.5 114.0 L222.7 109.8 L223.2 105.5 L222.1 101.3 L222.2 97.0 L220.9 92.8" stroke="#ecece6" stroke-width="0.6" fill="none" stroke-opacity="0.9" stroke-linejoin="round"/>
<circle cx="220.9" cy="92.8" r="0.65" fill="#cfc97a"/>
<path d="M223.5 114.0 L222.6 116.8 L222.9 119.6 L222.5 122.4 L222.0 125.2 L220.9 128.0" stroke="#ecece6" stroke-width="0.54" fill="none" stroke-opacity="0.7200000000000001" stroke-linejoin="round"/>
<path d="M227.1 114.0 L227.4 109.9 L225.8 105.9 L226.8 101.8 L226.3 97.8 L224.4 93.7" stroke="#ecece6" stroke-width="0.6" fill="none" stroke-opacity="0.9" stroke-linejoin="round"/>
<circle cx="224.4" cy="93.7" r="0.65" fill="#cfc97a"/>
<path d="M227.1 114.0 L227.7 117.3 L227.9 120.6 L226.9 124.0 L226.5 127.3 L226.3 130.6" stroke="#ecece6" stroke-width="0.54" fill="none" stroke-opacity="0.7200000000000001" stroke-linejoin="round"/>
<path d="M231.6 114.0 L231.3 110.2 L231.7 106.4 L229.9 102.6 L230.7 98.8 L229.8 95.0" stroke="#ecece6" stroke-width="0.6" fill="none" stroke-opacity="0.9" stroke-linejoin="round"/>
<circle cx="229.8" cy="95.0" r="0.65" fill="#cfc97a"/>
<path d="M231.6 114.0 L232.4 117.5 L231.9 120.9 L233.5 124.4 L233.1 127.9 L232.6 131.4" stroke="#ecece6" stroke-width="0.54" fill="none" stroke-opacity="0.7200000000000001" stroke-linejoin="round"/>
<line x1="236.80" y1="92.60" x2="276.80" y2="92.60" stroke="#909090" stroke-width="0.7" stroke-opacity="0.5"/>
<line x1="236.80" y1="114.00" x2="276.80" y2="114.00" stroke="#c0c0c0" stroke-width="0.8" stroke-opacity="0.75"/>
<path d="M240.9 114.0 L240.1 111.5 L240.2 108.9 L240.0 106.4 L240.7 103.9 L239.1 101.4" stroke="#ecece6" stroke-width="0.6" fill="none" stroke-opacity="0.9" stroke-linejoin="round"/>
<circle cx="239.1" cy="101.4" r="0.65" fill="#cfc97a"/>
<path d="M240.9 114.0 L241.8 117.3 L240.7 120.6 L242.5 123.9 L242.3 127.2 L242.9 130.5" stroke="#ecece6" stroke-width="0.54" fill="none" stroke-opacity="0.7200000000000001" stroke-linejoin="round"/>
<path d="M245.1 114.0 L245.8 111.5 L245.9 109.1 L246.5 106.6 L246.7 104.2 L246.9 101.7" stroke="#ecece6" stroke-width="0.6" fill="none" stroke-opacity="0.9" stroke-linejoin="round"/>
<circle cx="246.9" cy="101.7" r="0.65" fill="#cfc97a"/>
<path d="M245.1 114.0 L245.4 117.2 L243.9 120.4 L244.8 123.7 L243.1 126.9 L242.7 130.1" stroke="#ecece6" stroke-width="0.54" fill="none" stroke-opacity="0.7200000000000001" stroke-linejoin="round"/>
<path d="M249.3 114.0 L250.4 111.7 L250.7 109.3 L250.9 107.0 L251.8 104.7 L252.3 102.3" stroke="#ecece6" stroke-width="0.6" fill="none" stroke-opacity="0.9" stroke-linejoin="round"/>
<circle cx="252.3" cy="102.3" r="0.65" fill="#cfc97a"/>
<path d="M249.3 114.0 L249.7 117.2 L248.5 120.4 L249.9 123.6 L249.4 126.8 L250.0 130.0" stroke="#ecece6" stroke-width="0.54" fill="none" stroke-opacity="0.7200000000000001" stroke-linejoin="round"/>
<path d="M253.3 114.0 L253.1 111.6 L254.1 109.2 L254.3 106.8 L254.6 104.4 L255.8 102.0" stroke="#ecece6" stroke-width="0.6" fill="none" stroke-opacity="0.9" stroke-linejoin="round"/>
<circle cx="255.8" cy="102.0" r="0.65" fill="#cfc97a"/>
<path d="M253.3 114.0 L253.3 116.8 L254.5 119.5 L254.3 122.3 L255.3 125.1 L255.4 127.8" stroke="#ecece6" stroke-width="0.54" fill="none" stroke-opacity="0.7200000000000001" stroke-linejoin="round"/>
<path d="M256.3 114.0 L256.7 111.7 L256.6 109.4 L258.2 107.1 L258.7 104.7 L258.2 102.4" stroke="#ecece6" stroke-width="0.6" fill="none" stroke-opacity="0.9" stroke-linejoin="round"/>
<circle cx="258.2" cy="102.4" r="0.65" fill="#cfc97a"/>
<path d="M256.3 114.0 L255.3 117.0 L254.8 120.0 L254.9 122.9 L254.0 125.9 L254.0 128.9" stroke="#ecece6" stroke-width="0.54" fill="none" stroke-opacity="0.7200000000000001" stroke-linejoin="round"/>
<path d="M260.2 114.0 L260.3 111.4 L260.5 108.8 L261.0 106.3 L261.0 103.7 L261.2 101.1" stroke="#ecece6" stroke-width="0.6" fill="none" stroke-opacity="0.9" stroke-linejoin="round"/>
<circle cx="261.2" cy="101.1" r="0.65" fill="#cfc97a"/>
<path d="M260.2 114.0 L259.3 117.9 L260.2 121.8 L258.2 125.6 L258.4 129.5 L258.3 133.4" stroke="#ecece6" stroke-width="0.54" fill="none" stroke-opacity="0.7200000000000001" stroke-linejoin="round"/>
<path d="M264.9 114.0 L264.5 111.6 L264.3 109.3 L264.9 106.9 L264.5 104.6 L264.3 102.2" stroke="#ecece6" stroke-width="0.6" fill="none" stroke-opacity="0.9" stroke-linejoin="round"/>
<circle cx="264.3" cy="102.2" r="0.65" fill="#cfc97a"/>
<path d="M264.9 114.0 L263.6 117.1 L264.4 120.1 L264.3 123.2 L263.0 126.2 L262.7 129.3" stroke="#ecece6" stroke-width="0.54" fill="none" stroke-opacity="0.7200000000000001" stroke-linejoin="round"/>
<path d="M267.3 114.0 L268.3 111.5 L268.8 109.1 L267.9 106.6 L268.0 104.1 L268.4 101.7" stroke="#ecece6" stroke-width="0.6" fill="none" stroke-opacity="0.9" stroke-linejoin="round"/>
<circle cx="268.4" cy="101.7" r="0.65" fill="#cfc97a"/>
<path d="M267.3 114.0 L267.7 117.9 L268.2 121.9 L267.8 125.8 L267.7 129.7 L268.0 133.7" stroke="#ecece6" stroke-width="0.54" fill="none" stroke-opacity="0.7200000000000001" stroke-linejoin="round"/>
<path d="M271.8 114.0 L271.7 111.4 L273.1 108.9 L272.9 106.3 L272.6 103.7 L272.6 101.2" stroke="#ecece6" stroke-width="0.6" fill="none" stroke-opacity="0.9" stroke-linejoin="round"/>
<circle cx="272.6" cy="101.2" r="0.65" fill="#cfc97a"/>
<path d="M271.8 114.0 L271.9 116.8 L271.7 119.5 L270.4 122.3 L270.0 125.0 L270.6 127.8" stroke="#ecece6" stroke-width="0.54" fill="none" stroke-opacity="0.7200000000000001" stroke-linejoin="round"/>
<line x1="277.80" y1="92.60" x2="316.50" y2="92.60" stroke="#909090" stroke-width="0.7" stroke-opacity="0.5"/>
<line x1="277.80" y1="114.00" x2="316.50" y2="114.00" stroke="#c0c0c0" stroke-width="0.8" stroke-opacity="0.75"/>
<path d="M282.7 114.0 L282.0 111.5 L282.6 109.1 L283.0 106.6 L283.9 104.2 L283.5 101.7" stroke="#ecece6" stroke-width="0.6" fill="none" stroke-opacity="0.9" stroke-linejoin="round"/>
<circle cx="283.5" cy="101.7" r="0.65" fill="#cfc97a"/>
<path d="M282.7 114.0 L283.1 117.0 L283.0 120.0 L283.4 123.0 L285.2 126.0 L285.1 129.0" stroke="#ecece6" stroke-width="0.54" fill="none" stroke-opacity="0.7200000000000001" stroke-linejoin="round"/>
<path d="M285.9 114.0 L286.0 111.8 L285.9 109.6 L286.7 107.3 L287.4 105.1 L286.4 102.9" stroke="#ecece6" stroke-width="0.6" fill="none" stroke-opacity="0.9" stroke-linejoin="round"/>
<circle cx="286.4" cy="102.9" r="0.65" fill="#cfc97a"/>
<path d="M285.9 114.0 L285.2 117.4 L284.9 120.7 L284.9 124.1 L283.5 127.5 L284.2 130.8" stroke="#ecece6" stroke-width="0.54" fill="none" stroke-opacity="0.7200000000000001" stroke-linejoin="round"/>
<path d="M290.3 114.0 L290.4 111.5 L291.7 108.9 L291.2 106.4 L291.7 103.8 L293.1 101.3" stroke="#ecece6" stroke-width="0.6" fill="none" stroke-opacity="0.9" stroke-linejoin="round"/>
<circle cx="293.1" cy="101.3" r="0.65" fill="#cfc97a"/>
<path d="M290.3 114.0 L290.9 117.0 L289.8 119.9 L289.1 122.9 L288.9 125.9 L289.1 128.9" stroke="#ecece6" stroke-width="0.54" fill="none" stroke-opacity="0.7200000000000001" stroke-linejoin="round"/>
<path d="M293.8 114.0 L293.2 111.2 L294.4 108.3 L292.9 105.5 L292.6 102.7 L292.5 99.9" stroke="#ecece6" stroke-width="0.6" fill="none" stroke-opacity="0.9" stroke-linejoin="round"/>
<circle cx="292.5" cy="99.9" r="0.65" fill="#cfc97a"/>
<path d="M293.8 114.0 L294.4 116.9 L294.3 119.8 L293.9 122.7 L294.3 125.6 L294.1 128.5" stroke="#ecece6" stroke-width="0.54" fill="none" stroke-opacity="0.7200000000000001" stroke-linejoin="round"/>
<path d="M296.9 114.0 L296.3 111.7 L297.6 109.3 L297.4 107.0 L297.7 104.7 L297.8 102.3" stroke="#ecece6" stroke-width="0.6" fill="none" stroke-opacity="0.9" stroke-linejoin="round"/>
<circle cx="297.8" cy="102.3" r="0.65" fill="#cfc97a"/>
<path d="M296.9 114.0 L295.6 117.9 L295.8 121.9 L295.6 125.8 L296.4 129.8 L294.5 133.7" stroke="#ecece6" stroke-width="0.54" fill="none" stroke-opacity="0.7200000000000001" stroke-linejoin="round"/>
<path d="M301.5 114.0 L302.4 111.7 L302.1 109.3 L301.7 107.0 L302.8 104.6 L302.9 102.3" stroke="#ecece6" stroke-width="0.6" fill="none" stroke-opacity="0.9" stroke-linejoin="round"/>
<circle cx="302.9" cy="102.3" r="0.65" fill="#cfc97a"/>
<path d="M301.5 114.0 L301.4 117.2 L302.1 120.4 L303.5 123.5 L302.3 126.7 L303.5 129.9" stroke="#ecece6" stroke-width="0.54" fill="none" stroke-opacity="0.7200000000000001" stroke-linejoin="round"/>
<path d="M304.9 114.0 L303.7 111.3 L304.7 108.6 L303.1 105.9 L303.5 103.2 L303.3 100.5" stroke="#ecece6" stroke-width="0.6" fill="none" stroke-opacity="0.9" stroke-linejoin="round"/>
<circle cx="303.3" cy="100.5" r="0.65" fill="#cfc97a"/>
<path d="M304.9 114.0 L304.3 116.8 L305.5 119.5 L304.7 122.3 L303.8 125.0 L304.5 127.8" stroke="#ecece6" stroke-width="0.54" fill="none" stroke-opacity="0.7200000000000001" stroke-linejoin="round"/>
<path d="M307.8 114.0 L308.7 111.6 L308.5 109.2 L309.3 106.8 L308.0 104.4 L308.6 102.1" stroke="#ecece6" stroke-width="0.6" fill="none" stroke-opacity="0.9" stroke-linejoin="round"/>
<circle cx="308.6" cy="102.1" r="0.65" fill="#cfc97a"/>
<path d="M307.8 114.0 L308.6 116.7 L308.6 119.4 L307.5 122.1 L307.2 124.8 L307.5 127.5" stroke="#ecece6" stroke-width="0.54" fill="none" stroke-opacity="0.7200000000000001" stroke-linejoin="round"/>
<path d="M311.7 114.0 L312.4 111.2 L312.8 108.4 L313.0 105.6 L313.1 102.7 L312.9 99.9" stroke="#ecece6" stroke-width="0.6" fill="none" stroke-opacity="0.9" stroke-linejoin="round"/>
<circle cx="312.9" cy="99.9" r="0.65" fill="#cfc97a"/>
<path d="M311.7 114.0 L311.2 116.9 L311.9 119.9 L310.3 122.8 L310.4 125.8 L311.3 128.7" stroke="#ecece6" stroke-width="0.54" fill="none" stroke-opacity="0.7200000000000001" stroke-linejoin="round"/>
<line x1="236.30" y1="88.10" x2="236.30" y2="133.90" stroke="#e8e8e8" stroke-width="0.8" stroke-dasharray="1.2 1" stroke-opacity="0.85"/>
<line x1="277.30" y1="88.10" x2="277.30" y2="133.90" stroke="#e8e8e8" stroke-width="0.8" stroke-dasharray="1.2 1" stroke-opacity="0.85"/>
<rect x="319.30" y="38.20" width="122.00" height="46.70" fill="#030303" />
<line x1="319.80" y1="44.00" x2="359.80" y2="44.00" stroke="#909090" stroke-width="0.7" stroke-opacity="0.5"/>
<line x1="319.80" y1="65.20" x2="359.80" y2="65.20" stroke="#c0c0c0" stroke-width="0.8" stroke-opacity="0.75"/>
<path d="M324.1 65.2 L323.9 63.8 L325.0 62.4 L324.9 61.0 L325.1 59.7 L324.0 58.3" stroke="#ecece6" stroke-width="0.6" fill="none" stroke-opacity="0.9" stroke-linejoin="round"/>
<circle cx="324.0" cy="58.3" r="0.65" fill="#cfc97a"/>
<path d="M324.1 65.2 L322.9 67.2 L323.3 69.2 L323.3 71.1 L322.3 73.1 L321.5 75.1" stroke="#ecece6" stroke-width="0.54" fill="none" stroke-opacity="0.7200000000000001" stroke-linejoin="round"/>
<path d="M327.8 65.2 L328.6 63.6 L328.5 62.0 L327.9 60.4 L329.3 58.8 L328.7 57.2" stroke="#ecece6" stroke-width="0.6" fill="none" stroke-opacity="0.9" stroke-linejoin="round"/>
<circle cx="328.7" cy="57.2" r="0.65" fill="#cfc97a"/>
<path d="M327.8 65.2 L327.6 67.8 L328.4 70.4 L327.4 73.0 L327.5 75.6 L327.6 78.2" stroke="#ecece6" stroke-width="0.54" fill="none" stroke-opacity="0.7200000000000001" stroke-linejoin="round"/>
<path d="M330.7 65.2 L330.4 63.5 L331.2 61.8 L330.2 60.1 L329.6 58.3 L330.4 56.6" stroke="#ecece6" stroke-width="0.6" fill="none" stroke-opacity="0.9" stroke-linejoin="round"/>
<circle cx="330.4" cy="56.6" r="0.65" fill="#cfc97a"/>
<path d="M330.7 65.2 L331.8 67.7 L330.3 70.2 L331.2 72.7 L332.0 75.2 L332.2 77.7" stroke="#ecece6" stroke-width="0.54" fill="none" stroke-opacity="0.7200000000000001" stroke-linejoin="round"/>
<path d="M335.4 65.2 L334.5 63.8 L335.4 62.4 L334.4 61.1 L334.6 59.7 L333.2 58.3" stroke="#ecece6" stroke-width="0.6" fill="none" stroke-opacity="0.9" stroke-linejoin="round"/>
<circle cx="333.2" cy="58.3" r="0.65" fill="#cfc97a"/>
<path d="M335.4 65.2 L335.6 67.4 L335.6 69.7 L337.0 71.9 L337.7 74.1 L336.4 76.4" stroke="#ecece6" stroke-width="0.54" fill="none" stroke-opacity="0.7200000000000001" stroke-linejoin="round"/>
<path d="M338.3 65.2 L337.5 63.6 L337.5 62.0 L337.4 60.4 L337.9 58.8 L337.9 57.2" stroke="#ecece6" stroke-width="0.6" fill="none" stroke-opacity="0.9" stroke-linejoin="round"/>
<circle cx="337.9" cy="57.2" r="0.65" fill="#cfc97a"/>
<path d="M338.3 65.2 L337.0 67.4 L337.3 69.5 L337.7 71.7 L336.5 73.8 L336.4 76.0" stroke="#ecece6" stroke-width="0.54" fill="none" stroke-opacity="0.7200000000000001" stroke-linejoin="round"/>
<path d="M341.0 65.2 L339.9 63.5 L340.0 61.8 L339.8 60.2 L339.5 58.5 L338.2 56.8" stroke="#ecece6" stroke-width="0.6" fill="none" stroke-opacity="0.9" stroke-linejoin="round"/>
<circle cx="338.2" cy="56.8" r="0.65" fill="#cfc97a"/>
<path d="M341.0 65.2 L341.1 67.7 L340.2 70.2 L339.6 72.6 L339.3 75.1 L340.2 77.6" stroke="#ecece6" stroke-width="0.54" fill="none" stroke-opacity="0.7200000000000001" stroke-linejoin="round"/>
<path d="M344.6 65.2 L345.1 63.6 L345.3 62.0 L344.1 60.4 L343.8 58.9 L344.6 57.3" stroke="#ecece6" stroke-width="0.6" fill="none" stroke-opacity="0.9" stroke-linejoin="round"/>
<circle cx="344.6" cy="57.3" r="0.65" fill="#cfc97a"/>
<path d="M344.6 65.2 L343.4 67.5 L344.8 69.8 L343.6 72.1 L344.0 74.4 L342.9 76.7" stroke="#ecece6" stroke-width="0.54" fill="none" stroke-opacity="0.7200000000000001" stroke-linejoin="round"/>
<path d="M348.9 65.2 L348.5 63.7 L348.2 62.1 L348.1 60.6 L346.3 59.0 L346.7 57.5" stroke="#ecece6" stroke-width="0.6" fill="none" stroke-opacity="0.9" stroke-linejoin="round"/>
<circle cx="346.7" cy="57.5" r="0.65" fill="#cfc97a"/>
<path d="M348.9 65.2 L348.8 67.3 L348.0 69.4 L348.1 71.5 L348.4 73.6 L349.1 75.7" stroke="#ecece6" stroke-width="0.54" fill="none" stroke-opacity="0.7200000000000001" stroke-linejoin="round"/>
<path d="M351.1 65.2 L351.0 63.6 L351.4 62.1 L353.2 60.5 L353.7 59.0 L353.4 57.4" stroke="#ecece6" stroke-width="0.6" fill="none" stroke-opacity="0.9" stroke-linejoin="round"/>
<circle cx="353.4" cy="57.4" r="0.65" fill="#cfc97a"/>
<path d="M351.1 65.2 L351.4 67.9 L350.0 70.6 L350.5 73.4 L349.5 76.1 L349.5 78.8" stroke="#ecece6" stroke-width="0.54" fill="none" stroke-opacity="0.7200000000000001" stroke-linejoin="round"/>
<path d="M354.6 65.2 L355.0 63.5 L354.9 61.9 L353.7 60.2 L353.7 58.5 L353.9 56.8" stroke="#ecece6" stroke-width="0.6" fill="none" stroke-opacity="0.9" stroke-linejoin="round"/>
<circle cx="353.9" cy="56.8" r="0.65" fill="#cfc97a"/>
<path d="M354.6 65.2 L354.4 67.4 L353.9 69.5 L354.1 71.7 L355.1 73.9 L355.4 76.0" stroke="#ecece6" stroke-width="0.54" fill="none" stroke-opacity="0.7200000000000001" stroke-linejoin="round"/>
<line x1="360.80" y1="44.00" x2="400.10" y2="44.00" stroke="#909090" stroke-width="0.7" stroke-opacity="0.5"/>
<line x1="360.80" y1="65.20" x2="400.10" y2="65.20" stroke="#c0c0c0" stroke-width="0.8" stroke-opacity="0.75"/>
<path d="M364.9 65.2 L365.0 63.0 L363.3 60.8 L363.7 58.7 L363.2 56.5 L362.8 54.3" stroke="#ecece6" stroke-width="0.6" fill="none" stroke-opacity="0.9" stroke-linejoin="round"/>
<circle cx="362.8" cy="54.3" r="0.65" fill="#cfc97a"/>
<path d="M364.9 65.2 L364.6 68.7 L364.7 72.2 L364.2 75.7 L364.4 79.2 L363.8 82.7" stroke="#ecece6" stroke-width="0.54" fill="none" stroke-opacity="0.7200000000000001" stroke-linejoin="round"/>
<path d="M369.3 65.2 L368.8 63.3 L369.7 61.4 L369.7 59.6 L369.1 57.7 L368.7 55.8" stroke="#ecece6" stroke-width="0.6" fill="none" stroke-opacity="0.9" stroke-linejoin="round"/>
<circle cx="368.7" cy="55.8" r="0.65" fill="#cfc97a"/>
<path d="M369.3 65.2 L368.5 68.5 L368.5 71.9 L369.0 75.2 L368.4 78.5 L369.0 81.8" stroke="#ecece6" stroke-width="0.54" fill="none" stroke-opacity="0.7200000000000001" stroke-linejoin="round"/>
<path d="M373.1 65.2 L373.0 63.3 L372.7 61.4 L371.8 59.5 L370.6 57.6 L371.0 55.7" stroke="#ecece6" stroke-width="0.6" fill="none" stroke-opacity="0.9" stroke-linejoin="round"/>
<circle cx="371.0" cy="55.7" r="0.65" fill="#cfc97a"/>
<path d="M373.1 65.2 L373.8 68.6 L372.1 71.9 L373.4 75.3 L373.5 78.6 L372.9 82.0" stroke="#ecece6" stroke-width="0.54" fill="none" stroke-opacity="0.7200000000000001" stroke-linejoin="round"/>
<path d="M377.3 65.2 L378.0 63.2 L377.9 61.2 L376.7 59.3 L377.7 57.3 L377.9 55.3" stroke="#ecece6" stroke-width="0.6" fill="none" stroke-opacity="0.9" stroke-linejoin="round"/>
<circle cx="377.9" cy="55.3" r="0.65" fill="#cfc97a"/>
<path d="M377.3 65.2 L376.5 69.0 L376.9 72.8 L375.3 76.6 L376.3 80.3 L374.6 84.1" stroke="#ecece6" stroke-width="0.54" fill="none" stroke-opacity="0.7200000000000001" stroke-linejoin="round"/>
<path d="M381.0 65.2 L380.9 63.3 L381.4 61.3 L382.2 59.4 L382.3 57.4 L382.3 55.5" stroke="#ecece6" stroke-width="0.6" fill="none" stroke-opacity="0.9" stroke-linejoin="round"/>
<circle cx="382.3" cy="55.5" r="0.65" fill="#cfc97a"/>
<path d="M381.0 65.2 L380.0 68.4 L381.2 71.6 L380.3 74.7 L380.4 77.9 L378.7 81.1" stroke="#ecece6" stroke-width="0.54" fill="none" stroke-opacity="0.7200000000000001" stroke-linejoin="round"/>
<path d="M384.6 65.2 L384.5 63.3 L385.5 61.3 L385.1 59.4 L385.3 57.5 L385.9 55.5" stroke="#ecece6" stroke-width="0.6" fill="none" stroke-opacity="0.9" stroke-linejoin="round"/>
<circle cx="385.9" cy="55.5" r="0.65" fill="#cfc97a"/>
<path d="M384.6 65.2 L385.2 68.4 L384.1 71.6 L383.2 74.9 L383.6 78.1 L382.2 81.3" stroke="#ecece6" stroke-width="0.54" fill="none" stroke-opacity="0.7200000000000001" stroke-linejoin="round"/>
<path d="M388.6 65.2 L388.8 63.0 L388.6 60.8 L389.8 58.6 L388.9 56.4 L390.5 54.3" stroke="#ecece6" stroke-width="0.6" fill="none" stroke-opacity="0.9" stroke-linejoin="round"/>
<circle cx="390.5" cy="54.3" r="0.65" fill="#cfc97a"/>
<path d="M388.6 65.2 L388.7 68.2 L389.1 71.2 L388.1 74.2 L388.0 77.2 L387.0 80.2" stroke="#ecece6" stroke-width="0.54" fill="none" stroke-opacity="0.7200000000000001" stroke-linejoin="round"/>
<path d="M390.8 65.2 L390.8 63.3 L391.0 61.4 L391.8 59.5 L390.6 57.6 L390.9 55.8" stroke="#ecece6" stroke-width="0.6" fill="none" stroke-opacity="0.9" stroke-linejoin="round"/>
<circle cx="390.9" cy="55.8" r="0.65" fill="#cfc97a"/>
<path d="M390.8 65.2 L390.0 67.9 L390.1 70.7 L390.9 73.4 L390.6 76.2 L391.2 78.9" stroke="#ecece6" stroke-width="0.54" fill="none" stroke-opacity="0.7200000000000001" stroke-linejoin="round"/>
<path d="M394.8 65.2 L394.7 63.0 L394.2 60.8 L393.3 58.6 L394.4 56.4 L392.9 54.2" stroke="#ecece6" stroke-width="0.6" fill="none" stroke-opacity="0.9" stroke-linejoin="round"/>
<circle cx="392.9" cy="54.2" r="0.65" fill="#cfc97a"/>
<path d="M394.8 65.2 L393.7 68.5 L394.4 71.8 L394.5 75.1 L393.9 78.4 L392.9 81.7" stroke="#ecece6" stroke-width="0.54" fill="none" stroke-opacity="0.7200000000000001" stroke-linejoin="round"/>
<line x1="401.10" y1="44.00" x2="440.80" y2="44.00" stroke="#909090" stroke-width="0.7" stroke-opacity="0.5"/>
<line x1="401.10" y1="65.20" x2="440.80" y2="65.20" stroke="#c0c0c0" stroke-width="0.8" stroke-opacity="0.75"/>
<path d="M405.4 65.2 L405.2 63.0 L405.8 60.8 L405.5 58.5 L406.4 56.3 L406.1 54.1" stroke="#ecece6" stroke-width="0.6" fill="none" stroke-opacity="0.9" stroke-linejoin="round"/>
<circle cx="406.1" cy="54.1" r="0.65" fill="#cfc97a"/>
<path d="M405.4 65.2 L405.9 68.8 L404.0 72.3 L404.7 75.9 L404.2 79.4 L403.6 83.0" stroke="#ecece6" stroke-width="0.54" fill="none" stroke-opacity="0.7200000000000001" stroke-linejoin="round"/>
<path d="M408.4 65.2 L409.2 62.5 L407.9 59.8 L408.1 57.1 L408.8 54.3 L408.7 51.6" stroke="#ecece6" stroke-width="0.6" fill="none" stroke-opacity="0.9" stroke-linejoin="round"/>
<circle cx="408.7" cy="51.6" r="0.65" fill="#cfc97a"/>
<path d="M408.4 65.2 L409.2 67.9 L408.1 70.6 L408.5 73.3 L408.6 76.1 L408.3 78.8" stroke="#ecece6" stroke-width="0.54" fill="none" stroke-opacity="0.7200000000000001" stroke-linejoin="round"/>
<path d="M413.1 65.2 L413.2 62.5 L412.6 59.8 L411.6 57.0 L411.6 54.3 L410.6 51.6" stroke="#ecece6" stroke-width="0.6" fill="none" stroke-opacity="0.9" stroke-linejoin="round"/>
<circle cx="410.6" cy="51.6" r="0.65" fill="#cfc97a"/>
<path d="M413.1 65.2 L412.1 68.9 L412.1 72.5 L411.4 76.2 L411.7 79.8 L412.3 83.5" stroke="#ecece6" stroke-width="0.54" fill="none" stroke-opacity="0.7200000000000001" stroke-linejoin="round"/>
<path d="M416.2 65.2 L416.1 62.4 L415.6 59.7 L416.0 56.9 L415.3 54.2 L414.6 51.4" stroke="#ecece6" stroke-width="0.6" fill="none" stroke-opacity="0.9" stroke-linejoin="round"/>
<circle cx="414.6" cy="51.4" r="0.65" fill="#cfc97a"/>
<path d="M416.2 65.2 L417.2 68.8 L415.9 72.5 L417.4 76.1 L415.8 79.8 L416.5 83.4" stroke="#ecece6" stroke-width="0.54" fill="none" stroke-opacity="0.7200000000000001" stroke-linejoin="round"/>
<path d="M418.8 65.2 L418.8 62.5 L420.0 59.8 L419.3 57.1 L419.4 54.4 L420.8 51.7" stroke="#ecece6" stroke-width="0.6" fill="none" stroke-opacity="0.9" stroke-linejoin="round"/>
<circle cx="420.8" cy="51.7" r="0.65" fill="#cfc97a"/>
<path d="M418.8 65.2 L419.3 69.2 L419.4 73.1 L420.2 77.1 L419.3 81.0 L420.1 85.0" stroke="#ecece6" stroke-width="0.54" fill="none" stroke-opacity="0.7200000000000001" stroke-linejoin="round"/>
<path d="M423.0 65.2 L423.3 62.4 L423.1 59.7 L423.1 56.9 L424.1 54.1 L423.4 51.4" stroke="#ecece6" stroke-width="0.6" fill="none" stroke-opacity="0.9" stroke-linejoin="round"/>
<circle cx="423.4" cy="51.4" r="0.65" fill="#cfc97a"/>
<path d="M423.0 65.2 L422.7 68.5 L422.9 71.8 L423.4 75.0 L425.4 78.3 L424.7 81.6" stroke="#ecece6" stroke-width="0.54" fill="none" stroke-opacity="0.7200000000000001" stroke-linejoin="round"/>
<path d="M425.4 65.2 L425.8 63.0 L426.1 60.7 L426.4 58.5 L425.5 56.3 L426.5 54.1" stroke="#ecece6" stroke-width="0.6" fill="none" stroke-opacity="0.9" stroke-linejoin="round"/>
<circle cx="426.5" cy="54.1" r="0.65" fill="#cfc97a"/>
<path d="M425.4 65.2 L425.9 68.0 L425.8 70.7 L425.8 73.5 L424.1 76.2 L425.5 79.0" stroke="#ecece6" stroke-width="0.54" fill="none" stroke-opacity="0.7200000000000001" stroke-linejoin="round"/>
<path d="M430.0 65.2 L429.1 62.4 L428.7 59.6 L429.7 56.7 L429.4 53.9 L428.8 51.1" stroke="#ecece6" stroke-width="0.6" fill="none" stroke-opacity="0.9" stroke-linejoin="round"/>
<circle cx="428.8" cy="51.1" r="0.65" fill="#cfc97a"/>
<path d="M430.0 65.2 L430.6 68.0 L430.3 70.9 L430.2 73.7 L430.6 76.6 L432.2 79.4" stroke="#ecece6" stroke-width="0.54" fill="none" stroke-opacity="0.7200000000000001" stroke-linejoin="round"/>
<path d="M432.3 65.2 L431.4 62.8 L430.9 60.4 L431.2 57.9 L430.1 55.5 L429.6 53.1" stroke="#ecece6" stroke-width="0.6" fill="none" stroke-opacity="0.9" stroke-linejoin="round"/>
<circle cx="429.6" cy="53.1" r="0.65" fill="#cfc97a"/>
<path d="M432.3 65.2 L432.7 68.5 L433.9 71.7 L433.9 75.0 L433.2 78.3 L434.4 81.5" stroke="#ecece6" stroke-width="0.54" fill="none" stroke-opacity="0.7200000000000001" stroke-linejoin="round"/>
<path d="M436.0 65.2 L436.3 62.5 L435.9 59.8 L437.2 57.1 L436.1 54.4 L437.6 51.6" stroke="#ecece6" stroke-width="0.6" fill="none" stroke-opacity="0.9" stroke-linejoin="round"/>
<circle cx="437.6" cy="51.6" r="0.65" fill="#cfc97a"/>
<path d="M436.0 65.2 L434.7 68.4 L434.8 71.5 L435.5 74.7 L435.6 77.8 L433.4 81.0" stroke="#ecece6" stroke-width="0.54" fill="none" stroke-opacity="0.7200000000000001" stroke-linejoin="round"/>
<path d="M324.1 65.2 q-0.1 -3.5 1.8 -5.7" stroke="#e0e0d8" stroke-width="0.7" fill="none" stroke-opacity="0.8"/>
<path d="M328.6 65.2 q-0.0 -3.0 2.0 -6.0" stroke="#e0e0d8" stroke-width="0.7" fill="none" stroke-opacity="0.8"/>
<path d="M333.1 65.2 q2.7 -2.9 -1.7 -7.8" stroke="#e0e0d8" stroke-width="0.7" fill="none" stroke-opacity="0.8"/>
<path d="M337.6 65.2 q-0.0 -2.3 0.8 -5.3" stroke="#e0e0d8" stroke-width="0.7" fill="none" stroke-opacity="0.8"/>
<path d="M342.1 65.2 q1.7 -4.1 1.7 -7.5" stroke="#e0e0d8" stroke-width="0.7" fill="none" stroke-opacity="0.8"/>
<path d="M346.6 65.2 q-0.9 -3.2 -0.6 -8.6" stroke="#e0e0d8" stroke-width="0.7" fill="none" stroke-opacity="0.8"/>
<path d="M351.1 65.2 q-2.5 -4.7 -2.8 -5.8" stroke="#e0e0d8" stroke-width="0.7" fill="none" stroke-opacity="0.8"/>
<path d="M355.6 65.2 q-1.4 -4.7 0.0 -6.5" stroke="#e0e0d8" stroke-width="0.7" fill="none" stroke-opacity="0.8"/>
<line x1="360.30" y1="38.70" x2="360.30" y2="84.40" stroke="#e8e8e8" stroke-width="0.8" stroke-dasharray="1.2 1" stroke-opacity="0.85"/>
<line x1="400.60" y1="38.70" x2="400.60" y2="84.40" stroke="#e8e8e8" stroke-width="0.8" stroke-dasharray="1.2 1" stroke-opacity="0.85"/>
<rect x="319.30" y="87.60" width="122.00" height="46.80" fill="#030303" />
<line x1="319.80" y1="95.30" x2="359.80" y2="95.30" stroke="#909090" stroke-width="0.7" stroke-opacity="0.5"/>
<line x1="319.80" y1="114.80" x2="359.80" y2="114.80" stroke="#c0c0c0" stroke-width="0.8" stroke-opacity="0.75"/>
<path d="M324.7 114.8 L325.2 113.9 L325.2 113.0 L325.1 112.1 L324.6 111.2 L324.6 110.3" stroke="#ecece6" stroke-width="0.6" fill="none" stroke-opacity="0.9" stroke-linejoin="round"/>
<circle cx="324.6" cy="110.3" r="0.65" fill="#cfc97a"/>
<path d="M324.7 114.8 L325.0 117.2 L324.3 119.6 L324.2 122.0 L322.7 124.4 L322.9 126.8" stroke="#ecece6" stroke-width="0.54" fill="none" stroke-opacity="0.7200000000000001" stroke-linejoin="round"/>
<path d="M327.2 114.8 L327.8 113.8 L326.6 112.8 L326.5 111.8 L326.7 110.8 L327.3 109.8" stroke="#ecece6" stroke-width="0.6" fill="none" stroke-opacity="0.9" stroke-linejoin="round"/>
<circle cx="327.3" cy="109.8" r="0.65" fill="#cfc97a"/>
<path d="M327.2 114.8 L326.8 116.9 L327.2 118.9 L327.7 121.0 L328.2 123.1 L328.9 125.2" stroke="#ecece6" stroke-width="0.54" fill="none" stroke-opacity="0.7200000000000001" stroke-linejoin="round"/>
<path d="M328.8 114.8 L329.7 113.9 L329.1 112.9 L331.0 112.0 L330.0 111.1 L331.0 110.1" stroke="#ecece6" stroke-width="0.6" fill="none" stroke-opacity="0.9" stroke-linejoin="round"/>
<circle cx="331.0" cy="110.1" r="0.65" fill="#cfc97a"/>
<path d="M328.8 114.8 L329.8 116.9 L330.2 119.1 L330.1 121.2 L330.1 123.3 L331.5 125.5" stroke="#ecece6" stroke-width="0.54" fill="none" stroke-opacity="0.7200000000000001" stroke-linejoin="round"/>
<path d="M331.3 114.8 L330.7 113.9 L330.9 113.0 L330.3 112.1 L329.5 111.2 L329.2 110.3" stroke="#ecece6" stroke-width="0.6" fill="none" stroke-opacity="0.9" stroke-linejoin="round"/>
<circle cx="329.2" cy="110.3" r="0.65" fill="#cfc97a"/>
<path d="M331.3 114.8 L330.6 117.1 L331.5 119.4 L331.0 121.8 L331.6 124.1 L331.9 126.4" stroke="#ecece6" stroke-width="0.54" fill="none" stroke-opacity="0.7200000000000001" stroke-linejoin="round"/>
<path d="M334.5 114.8 L333.9 113.8 L334.7 112.8 L334.9 111.8 L334.6 110.8 L334.4 109.8" stroke="#ecece6" stroke-width="0.6" fill="none" stroke-opacity="0.9" stroke-linejoin="round"/>
<circle cx="334.4" cy="109.8" r="0.65" fill="#cfc97a"/>
<path d="M334.5 114.8 L335.2 117.5 L335.4 120.1 L335.4 122.8 L335.5 125.5 L336.5 128.2" stroke="#ecece6" stroke-width="0.54" fill="none" stroke-opacity="0.7200000000000001" stroke-linejoin="round"/>
<path d="M336.5 114.8 L337.0 113.8 L336.5 112.9 L337.1 111.9 L337.3 111.0 L337.8 110.0" stroke="#ecece6" stroke-width="0.6" fill="none" stroke-opacity="0.9" stroke-linejoin="round"/>
<circle cx="337.8" cy="110.0" r="0.65" fill="#cfc97a"/>
<path d="M336.5 114.8 L336.8 117.5 L337.2 120.2 L335.7 122.9 L336.5 125.6 L336.6 128.3" stroke="#ecece6" stroke-width="0.54" fill="none" stroke-opacity="0.7200000000000001" stroke-linejoin="round"/>
<path d="M339.6 114.8 L339.2 113.8 L338.1 112.9 L338.7 111.9 L338.5 110.9 L337.3 109.9" stroke="#ecece6" stroke-width="0.6" fill="none" stroke-opacity="0.9" stroke-linejoin="round"/>
<circle cx="337.3" cy="109.9" r="0.65" fill="#cfc97a"/>
<path d="M339.6 114.8 L339.4 117.7 L338.9 120.6 L338.8 123.5 L338.0 126.4 L337.9 129.2" stroke="#ecece6" stroke-width="0.54" fill="none" stroke-opacity="0.7200000000000001" stroke-linejoin="round"/>
<path d="M342.9 114.8 L342.9 113.8 L344.1 112.8 L344.1 111.9 L345.2 110.9 L344.5 109.9" stroke="#ecece6" stroke-width="0.6" fill="none" stroke-opacity="0.9" stroke-linejoin="round"/>
<circle cx="344.5" cy="109.9" r="0.65" fill="#cfc97a"/>
<path d="M342.9 114.8 L343.1 117.1 L343.1 119.5 L344.0 121.8 L344.7 124.2 L344.4 126.5" stroke="#ecece6" stroke-width="0.54" fill="none" stroke-opacity="0.7200000000000001" stroke-linejoin="round"/>
<path d="M344.9 114.8 L344.4 113.8 L344.1 112.9 L344.9 111.9 L345.0 111.0 L344.2 110.0" stroke="#ecece6" stroke-width="0.6" fill="none" stroke-opacity="0.9" stroke-linejoin="round"/>
<circle cx="344.2" cy="110.0" r="0.65" fill="#cfc97a"/>
<path d="M344.9 114.8 L345.2 117.4 L344.1 120.0 L343.5 122.7 L343.1 125.3 L344.0 127.9" stroke="#ecece6" stroke-width="0.54" fill="none" stroke-opacity="0.7200000000000001" stroke-linejoin="round"/>
<path d="M348.1 114.8 L347.7 113.8 L349.0 112.8 L348.1 111.8 L348.6 110.8 L349.0 109.8" stroke="#ecece6" stroke-width="0.6" fill="none" stroke-opacity="0.9" stroke-linejoin="round"/>
<circle cx="349.0" cy="109.8" r="0.65" fill="#cfc97a"/>
<path d="M348.1 114.8 L348.4 117.2 L348.4 119.6 L349.2 122.0 L348.7 124.4 L350.4 126.8" stroke="#ecece6" stroke-width="0.54" fill="none" stroke-opacity="0.7200000000000001" stroke-linejoin="round"/>
<path d="M350.0 114.8 L349.5 113.7 L349.7 112.7 L349.1 111.6 L348.7 110.5 L349.8 109.5" stroke="#ecece6" stroke-width="0.6" fill="none" stroke-opacity="0.9" stroke-linejoin="round"/>
<circle cx="349.8" cy="109.5" r="0.65" fill="#cfc97a"/>
<path d="M350.0 114.8 L349.3 117.0 L349.2 119.2 L349.3 121.4 L349.0 123.6 L349.2 125.8" stroke="#ecece6" stroke-width="0.54" fill="none" stroke-opacity="0.7200000000000001" stroke-linejoin="round"/>
<path d="M353.1 114.8 L352.7 113.9 L354.4 112.9 L354.9 112.0 L355.0 111.0 L354.3 110.1" stroke="#ecece6" stroke-width="0.6" fill="none" stroke-opacity="0.9" stroke-linejoin="round"/>
<circle cx="354.3" cy="110.1" r="0.65" fill="#cfc97a"/>
<path d="M353.1 114.8 L353.7 117.6 L352.9 120.5 L353.2 123.3 L355.3 126.2 L355.1 129.0" stroke="#ecece6" stroke-width="0.54" fill="none" stroke-opacity="0.7200000000000001" stroke-linejoin="round"/>
<path d="M355.1 114.8 L355.3 113.9 L354.3 113.0 L353.7 112.2 L354.7 111.3 L354.3 110.4" stroke="#ecece6" stroke-width="0.6" fill="none" stroke-opacity="0.9" stroke-linejoin="round"/>
<circle cx="354.3" cy="110.4" r="0.65" fill="#cfc97a"/>
<path d="M355.1 114.8 L355.5 116.9 L354.6 119.0 L354.6 121.1 L354.1 123.1 L354.2 125.2" stroke="#ecece6" stroke-width="0.54" fill="none" stroke-opacity="0.7200000000000001" stroke-linejoin="round"/>
<line x1="360.80" y1="95.30" x2="400.10" y2="95.30" stroke="#909090" stroke-width="0.7" stroke-opacity="0.5"/>
<line x1="360.80" y1="114.80" x2="400.10" y2="114.80" stroke="#c0c0c0" stroke-width="0.8" stroke-opacity="0.75"/>
<path d="M366.1 114.8 L366.4 112.7 L366.9 110.6 L366.6 108.4 L367.5 106.3 L367.2 104.2" stroke="#ecece6" stroke-width="0.6" fill="none" stroke-opacity="0.9" stroke-linejoin="round"/>
<circle cx="367.2" cy="104.2" r="0.65" fill="#cfc97a"/>
<path d="M366.1 114.8 L365.4 117.8 L364.9 120.7 L365.4 123.7 L364.3 126.7 L364.9 129.6" stroke="#ecece6" stroke-width="0.54" fill="none" stroke-opacity="0.7200000000000001" stroke-linejoin="round"/>
<path d="M368.8 114.8 L369.4 112.9 L368.0 110.9 L369.5 109.0 L368.9 107.0 L369.1 105.1" stroke="#ecece6" stroke-width="0.6" fill="none" stroke-opacity="0.9" stroke-linejoin="round"/>
<circle cx="369.1" cy="105.1" r="0.65" fill="#cfc97a"/>
<path d="M368.8 114.8 L369.6 118.2 L368.9 121.5 L369.1 124.9 L370.3 128.3 L368.8 131.6" stroke="#ecece6" stroke-width="0.54" fill="none" stroke-opacity="0.7200000000000001" stroke-linejoin="round"/>
<path d="M373.3 114.8 L373.7 112.8 L374.2 110.8 L373.3 108.7 L374.5 106.7 L373.8 104.7" stroke="#ecece6" stroke-width="0.6" fill="none" stroke-opacity="0.9" stroke-linejoin="round"/>
<circle cx="373.8" cy="104.7" r="0.65" fill="#cfc97a"/>
<path d="M373.3 114.8 L374.0 117.5 L372.3 120.3 L373.6 123.0 L373.4 125.8 L372.9 128.5" stroke="#ecece6" stroke-width="0.54" fill="none" stroke-opacity="0.7200000000000001" stroke-linejoin="round"/>
<path d="M377.3 114.8 L377.8 112.9 L376.9 111.0 L377.3 109.2 L377.3 107.3 L377.5 105.4" stroke="#ecece6" stroke-width="0.6" fill="none" stroke-opacity="0.9" stroke-linejoin="round"/>
<circle cx="377.5" cy="105.4" r="0.65" fill="#cfc97a"/>
<path d="M377.3 114.8 L377.3 118.1 L378.6 121.5 L378.1 124.8 L378.6 128.1 L378.5 131.5" stroke="#ecece6" stroke-width="0.54" fill="none" stroke-opacity="0.7200000000000001" stroke-linejoin="round"/>
<path d="M380.5 114.8 L380.5 112.6 L380.7 110.4 L381.0 108.2 L381.8 106.1 L382.1 103.9" stroke="#ecece6" stroke-width="0.6" fill="none" stroke-opacity="0.9" stroke-linejoin="round"/>
<circle cx="382.1" cy="103.9" r="0.65" fill="#cfc97a"/>
<path d="M380.5 114.8 L379.9 118.4 L381.5 121.9 L382.1 125.5 L381.7 129.1 L381.0 132.7" stroke="#ecece6" stroke-width="0.54" fill="none" stroke-opacity="0.7200000000000001" stroke-linejoin="round"/>
<path d="M383.8 114.8 L384.4 113.1 L384.9 111.4 L385.6 109.7 L386.2 108.0 L386.1 106.3" stroke="#ecece6" stroke-width="0.6" fill="none" stroke-opacity="0.9" stroke-linejoin="round"/>
<circle cx="386.1" cy="106.3" r="0.65" fill="#cfc97a"/>
<path d="M383.8 114.8 L384.2 117.8 L384.4 120.7 L384.4 123.7 L384.6 126.6 L383.9 129.6" stroke="#ecece6" stroke-width="0.54" fill="none" stroke-opacity="0.7200000000000001" stroke-linejoin="round"/>
<path d="M388.1 114.8 L387.2 112.9 L386.5 110.9 L387.4 109.0 L387.2 107.1 L386.4 105.2" stroke="#ecece6" stroke-width="0.6" fill="none" stroke-opacity="0.9" stroke-linejoin="round"/>
<circle cx="386.4" cy="105.2" r="0.65" fill="#cfc97a"/>
<path d="M388.1 114.8 L388.6 118.5 L388.4 122.2 L387.8 125.9 L387.1 129.7 L387.1 133.4" stroke="#ecece6" stroke-width="0.54" fill="none" stroke-opacity="0.7200000000000001" stroke-linejoin="round"/>
<path d="M391.4 114.8 L392.3 112.9 L391.0 111.1 L392.0 109.2 L391.2 107.4 L391.5 105.5" stroke="#ecece6" stroke-width="0.6" fill="none" stroke-opacity="0.9" stroke-linejoin="round"/>
<circle cx="391.5" cy="105.5" r="0.65" fill="#cfc97a"/>
<path d="M391.4 114.8 L391.9 118.1 L392.8 121.3 L392.3 124.6 L391.7 127.9 L392.8 131.2" stroke="#ecece6" stroke-width="0.54" fill="none" stroke-opacity="0.7200000000000001" stroke-linejoin="round"/>
<path d="M395.4 114.8 L395.2 112.6 L394.7 110.5 L395.6 108.3 L394.8 106.1 L394.7 104.0" stroke="#ecece6" stroke-width="0.6" fill="none" stroke-opacity="0.9" stroke-linejoin="round"/>
<circle cx="394.7" cy="104.0" r="0.65" fill="#cfc97a"/>
<path d="M395.4 114.8 L394.0 118.8 L394.8 122.8 L393.2 126.8 L394.4 130.8 L392.2 134.8" stroke="#ecece6" stroke-width="0.54" fill="none" stroke-opacity="0.7200000000000001" stroke-linejoin="round"/>
<line x1="401.10" y1="95.30" x2="440.80" y2="95.30" stroke="#909090" stroke-width="0.7" stroke-opacity="0.5"/>
<line x1="401.10" y1="114.80" x2="440.80" y2="114.80" stroke="#c0c0c0" stroke-width="0.8" stroke-opacity="0.75"/>
<path d="M406.8 114.8 L406.6 113.4 L407.6 112.0 L406.9 110.6 L406.9 109.2 L408.4 107.7" stroke="#ecece6" stroke-width="0.6" fill="none" stroke-opacity="0.9" stroke-linejoin="round"/>
<circle cx="408.4" cy="107.7" r="0.65" fill="#cfc97a"/>
<path d="M406.8 114.8 L407.7 117.4 L407.7 119.9 L406.6 122.5 L407.9 125.1 L408.3 127.7" stroke="#ecece6" stroke-width="0.54" fill="none" stroke-opacity="0.7200000000000001" stroke-linejoin="round"/>
<path d="M410.4 114.8 L411.2 113.1 L410.5 111.3 L410.9 109.6 L412.5 107.9 L413.2 106.1" stroke="#ecece6" stroke-width="0.6" fill="none" stroke-opacity="0.9" stroke-linejoin="round"/>
<circle cx="413.2" cy="106.1" r="0.65" fill="#cfc97a"/>
<path d="M410.4 114.8 L409.6 117.7 L410.0 120.5 L408.5 123.4 L409.4 126.3 L408.2 129.1" stroke="#ecece6" stroke-width="0.54" fill="none" stroke-opacity="0.7200000000000001" stroke-linejoin="round"/>
<path d="M413.9 114.8 L414.2 113.3 L413.2 111.8 L414.2 110.3 L413.5 108.8 L413.9 107.3" stroke="#ecece6" stroke-width="0.6" fill="none" stroke-opacity="0.9" stroke-linejoin="round"/>
<circle cx="413.9" cy="107.3" r="0.65" fill="#cfc97a"/>
<path d="M413.9 114.8 L413.9 118.1 L414.0 121.3 L414.9 124.6 L415.3 127.9 L415.1 131.2" stroke="#ecece6" stroke-width="0.54" fill="none" stroke-opacity="0.7200000000000001" stroke-linejoin="round"/>
<path d="M419.0 114.8 L419.8 113.3 L420.4 111.8 L420.1 110.4 L421.0 108.9 L422.1 107.4" stroke="#ecece6" stroke-width="0.6" fill="none" stroke-opacity="0.9" stroke-linejoin="round"/>
<circle cx="422.1" cy="107.4" r="0.65" fill="#cfc97a"/>
<path d="M419.0 114.8 L419.5 117.4 L419.2 120.1 L419.8 122.7 L421.0 125.3 L420.4 127.9" stroke="#ecece6" stroke-width="0.54" fill="none" stroke-opacity="0.7200000000000001" stroke-linejoin="round"/>
<path d="M423.4 114.8 L423.3 113.2 L423.1 111.6 L423.9 110.0 L424.5 108.4 L425.0 106.8" stroke="#ecece6" stroke-width="0.6" fill="none" stroke-opacity="0.9" stroke-linejoin="round"/>
<circle cx="425.0" cy="106.8" r="0.65" fill="#cfc97a"/>
<path d="M423.4 114.8 L424.4 118.5 L423.1 122.2 L424.9 125.8 L425.2 129.5 L425.6 133.2" stroke="#ecece6" stroke-width="0.54" fill="none" stroke-opacity="0.7200000000000001" stroke-linejoin="round"/>
<path d="M427.4 114.8 L428.0 113.3 L428.7 111.9 L428.0 110.4 L427.9 108.9 L429.0 107.5" stroke="#ecece6" stroke-width="0.6" fill="none" stroke-opacity="0.9" stroke-linejoin="round"/>
<circle cx="429.0" cy="107.5" r="0.65" fill="#cfc97a"/>
<path d="M427.4 114.8 L427.1 118.4 L428.5 122.0 L429.1 125.7 L428.1 129.3 L429.1 132.9" stroke="#ecece6" stroke-width="0.54" fill="none" stroke-opacity="0.7200000000000001" stroke-linejoin="round"/>
<path d="M431.8 114.8 L431.9 113.3 L431.8 111.7 L431.0 110.2 L430.1 108.6 L431.1 107.1" stroke="#ecece6" stroke-width="0.6" fill="none" stroke-opacity="0.9" stroke-linejoin="round"/>
<circle cx="431.1" cy="107.1" r="0.65" fill="#cfc97a"/>
<path d="M431.8 114.8 L431.5 117.6 L432.5 120.4 L433.3 123.2 L433.6 126.0 L433.2 128.8" stroke="#ecece6" stroke-width="0.54" fill="none" stroke-opacity="0.7200000000000001" stroke-linejoin="round"/>
<path d="M435.7 114.8 L434.8 113.2 L435.4 111.6 L434.5 110.0 L434.5 108.4 L434.0 106.8" stroke="#ecece6" stroke-width="0.6" fill="none" stroke-opacity="0.9" stroke-linejoin="round"/>
<circle cx="434.0" cy="106.8" r="0.65" fill="#cfc97a"/>
<path d="M435.7 114.8 L435.0 117.6 L434.8 120.4 L436.7 123.2 L435.5 126.0 L435.0 128.7" stroke="#ecece6" stroke-width="0.54" fill="none" stroke-opacity="0.7200000000000001" stroke-linejoin="round"/>
<path d="M323.1 114.8 l0.4 -5.0" stroke="#e8e4b0" stroke-width="1.1" fill="none" stroke-opacity="0.9"/>
<path d="M325.7 114.8 l-1.0 -4.5" stroke="#e8e4b0" stroke-width="1.1" fill="none" stroke-opacity="0.9"/>
<path d="M328.2 114.8 l-0.5 -4.3" stroke="#e8e4b0" stroke-width="1.1" fill="none" stroke-opacity="0.9"/>
<path d="M330.8 114.8 l-1.4 -3.1" stroke="#e8e4b0" stroke-width="1.1" fill="none" stroke-opacity="0.9"/>
<path d="M333.4 114.8 l1.5 -5.2" stroke="#e8e4b0" stroke-width="1.1" fill="none" stroke-opacity="0.9"/>
<path d="M335.9 114.8 l-0.0 -4.4" stroke="#e8e4b0" stroke-width="1.1" fill="none" stroke-opacity="0.9"/>
<path d="M338.5 114.8 l-0.7 -4.9" stroke="#e8e4b0" stroke-width="1.1" fill="none" stroke-opacity="0.9"/>
<path d="M341.1 114.8 l-0.2 -5.4" stroke="#e8e4b0" stroke-width="1.1" fill="none" stroke-opacity="0.9"/>
<path d="M343.7 114.8 l0.8 -5.0" stroke="#e8e4b0" stroke-width="1.1" fill="none" stroke-opacity="0.9"/>
<path d="M346.2 114.8 l1.4 -3.6" stroke="#e8e4b0" stroke-width="1.1" fill="none" stroke-opacity="0.9"/>
<path d="M348.8 114.8 l-1.4 -3.5" stroke="#e8e4b0" stroke-width="1.1" fill="none" stroke-opacity="0.9"/>
<path d="M351.4 114.8 l-1.0 -3.2" stroke="#e8e4b0" stroke-width="1.1" fill="none" stroke-opacity="0.9"/>
<path d="M353.9 114.8 l-1.3 -4.4" stroke="#e8e4b0" stroke-width="1.1" fill="none" stroke-opacity="0.9"/>
<path d="M356.5 114.8 l1.1 -4.1" stroke="#e8e4b0" stroke-width="1.1" fill="none" stroke-opacity="0.9"/>
<line x1="360.30" y1="88.10" x2="360.30" y2="133.90" stroke="#e8e8e8" stroke-width="0.8" stroke-dasharray="1.2 1" stroke-opacity="0.85"/>
<line x1="400.60" y1="88.10" x2="400.60" y2="133.90" stroke="#e8e8e8" stroke-width="0.8" stroke-dasharray="1.2 1" stroke-opacity="0.85"/>
<rect x="430.00" y="131.70" width="7.30" height="1.30" fill="#fff" />
<text x="1.10" y="170.70" font-size="12.4">D</text>
<text x="43.00" y="190.60" font-size="9.45" text-anchor="middle">DMSO</text>
<text x="87.50" y="190.60" font-size="9.15" text-anchor="middle">LatB</text>
<text x="129.50" y="190.60" font-size="9.55" text-anchor="middle">AZD8055</text>
<text x="172.10" y="177.40" font-size="9.3" text-anchor="middle">AZD8055</text>
<text x="173.60" y="188.30" font-size="9.3" text-anchor="middle">+ LatB</text>
<text x="16.80" y="224.20" font-size="9.2" text-anchor="middle" transform="rotate(-90 16.80 224.20)">DMSO</text>
<text x="16.80" y="284.90" font-size="9.3" text-anchor="middle" transform="rotate(-90 16.80 284.90)">adenine</text>
<rect x="22.00" y="194.10" width="41.50" height="57.80" fill="#03060a" />
<g clip-path="url(#cd00)"><clipPath id="cd00"><rect x="22" y="194.1" width="41.5" height="57.8"/></clipPath>
<line x1="22.50" y1="204.90" x2="63.00" y2="204.90" stroke="#7f9a98" stroke-width="0.7" stroke-opacity="0.6"/>
<line x1="22.50" y1="228.80" x2="63.00" y2="228.80" stroke="#b8d0c8" stroke-width="0.8" stroke-opacity="0.8"/>
<path d="M26.4 228.8 L26.3 222.2 L25.7 215.7 L27.8 209.1 L26.2 202.5 L27.1 196.0" stroke="#c4e0e0" stroke-width="1.1" fill="none" stroke-opacity="0.9" stroke-linejoin="round"/>
<circle cx="27.1" cy="196.0" r="0.65" fill="#d4dab0"/>
<path d="M26.4 228.8 L27.8 231.7 L27.2 234.7 L26.6 237.6 L26.8 240.5 L26.2 243.5" stroke="#c4e0e0" stroke-width="0.9900000000000001" fill="none" stroke-opacity="0.7200000000000001" stroke-linejoin="round"/>
<path d="M29.9 228.8 L28.8 222.1 L28.6 215.4 L29.4 208.7 L29.0 202.1 L28.4 195.4" stroke="#c4e0e0" stroke-width="1.1" fill="none" stroke-opacity="0.9" stroke-linejoin="round"/>
<circle cx="28.4" cy="195.4" r="0.65" fill="#d4dab0"/>
<path d="M29.9 228.8 L30.2 231.9 L29.5 235.1 L28.9 238.2 L29.4 241.4 L26.4 244.5" stroke="#c4e0e0" stroke-width="0.9900000000000001" fill="none" stroke-opacity="0.7200000000000001" stroke-linejoin="round"/>
<path d="M32.0 228.8 L31.7 222.5 L32.5 216.1 L33.1 209.8 L31.7 203.4 L32.4 197.1" stroke="#c4e0e0" stroke-width="1.1" fill="none" stroke-opacity="0.9" stroke-linejoin="round"/>
<circle cx="32.4" cy="197.1" r="0.65" fill="#d4dab0"/>
<path d="M32.0 228.8 L30.7 232.9 L31.4 237.0 L30.3 241.1 L30.3 245.2 L29.8 249.3" stroke="#c4e0e0" stroke-width="0.9900000000000001" fill="none" stroke-opacity="0.7200000000000001" stroke-linejoin="round"/>
<path d="M36.2 228.8 L34.8 223.5 L36.6 218.2 L34.6 212.9 L36.0 207.6 L35.6 202.4" stroke="#c4e0e0" stroke-width="1.1" fill="none" stroke-opacity="0.9" stroke-linejoin="round"/>
<circle cx="35.6" cy="202.4" r="0.65" fill="#d4dab0"/>
<path d="M36.2 228.8 L35.6 232.6 L36.8 236.4 L36.3 240.2 L38.9 244.0 L39.1 247.8" stroke="#c4e0e0" stroke-width="0.9900000000000001" fill="none" stroke-opacity="0.7200000000000001" stroke-linejoin="round"/>
<path d="M39.5 228.8 L39.8 222.9 L40.5 217.0 L39.7 211.1 L40.2 205.1 L40.1 199.2" stroke="#c4e0e0" stroke-width="1.1" fill="none" stroke-opacity="0.9" stroke-linejoin="round"/>
<circle cx="40.1" cy="199.2" r="0.65" fill="#d4dab0"/>
<path d="M39.5 228.8 L39.9 232.1 L39.0 235.4 L41.2 238.7 L39.8 242.0 L40.4 245.3" stroke="#c4e0e0" stroke-width="0.9900000000000001" fill="none" stroke-opacity="0.7200000000000001" stroke-linejoin="round"/>
<path d="M42.2 228.8 L41.2 223.1 L41.8 217.5 L41.3 211.8 L42.5 206.2 L40.5 200.5" stroke="#c4e0e0" stroke-width="1.1" fill="none" stroke-opacity="0.9" stroke-linejoin="round"/>
<circle cx="40.5" cy="200.5" r="0.65" fill="#d4dab0"/>
<path d="M42.2 228.8 L41.5 232.8 L44.2 236.7 L44.1 240.7 L43.3 244.7 L44.5 248.6" stroke="#c4e0e0" stroke-width="0.9900000000000001" fill="none" stroke-opacity="0.7200000000000001" stroke-linejoin="round"/>
<path d="M45.8 228.8 L46.8 223.2 L46.7 217.5 L46.4 211.9 L44.3 206.2 L44.6 200.6" stroke="#c4e0e0" stroke-width="1.1" fill="none" stroke-opacity="0.9" stroke-linejoin="round"/>
<circle cx="44.6" cy="200.6" r="0.65" fill="#d4dab0"/>
<path d="M45.8 228.8 L45.0 231.9 L47.2 235.0 L46.4 238.2 L48.7 241.3 L46.5 244.4" stroke="#c4e0e0" stroke-width="0.9900000000000001" fill="none" stroke-opacity="0.7200000000000001" stroke-linejoin="round"/>
<path d="M50.1 228.8 L50.4 223.0 L49.1 217.3 L47.8 211.5 L47.9 205.8 L48.5 200.0" stroke="#c4e0e0" stroke-width="1.1" fill="none" stroke-opacity="0.9" stroke-linejoin="round"/>
<circle cx="48.5" cy="200.0" r="0.65" fill="#d4dab0"/>
<path d="M50.1 228.8 L50.0 231.8 L48.5 234.9 L48.3 237.9 L49.7 240.9 L49.2 244.0" stroke="#c4e0e0" stroke-width="0.9900000000000001" fill="none" stroke-opacity="0.7200000000000001" stroke-linejoin="round"/>
<path d="M52.5 228.8 L52.6 223.4 L52.2 218.0 L52.1 212.7 L53.2 207.3 L53.5 201.9" stroke="#c4e0e0" stroke-width="1.1" fill="none" stroke-opacity="0.9" stroke-linejoin="round"/>
<circle cx="53.5" cy="201.9" r="0.65" fill="#d4dab0"/>
<path d="M52.5 228.8 L53.0 231.8 L52.3 234.7 L52.2 237.7 L54.4 240.7 L53.8 243.6" stroke="#c4e0e0" stroke-width="0.9900000000000001" fill="none" stroke-opacity="0.7200000000000001" stroke-linejoin="round"/>
<path d="M56.7 228.8 L57.4 223.5 L57.3 218.1 L56.2 212.8 L54.9 207.4 L56.9 202.1" stroke="#c4e0e0" stroke-width="1.1" fill="none" stroke-opacity="0.9" stroke-linejoin="round"/>
<circle cx="56.9" cy="202.1" r="0.65" fill="#d4dab0"/>
<path d="M56.7 228.8 L57.7 232.7 L56.1 236.7 L55.8 240.6 L57.5 244.5 L56.3 248.4" stroke="#c4e0e0" stroke-width="0.9900000000000001" fill="none" stroke-opacity="0.7200000000000001" stroke-linejoin="round"/>
<path d="M59.3 228.8 L58.8 223.0 L58.1 217.2 L57.8 211.4 L56.4 205.6 L57.3 199.8" stroke="#c4e0e0" stroke-width="1.1" fill="none" stroke-opacity="0.9" stroke-linejoin="round"/>
<circle cx="57.3" cy="199.8" r="0.65" fill="#d4dab0"/>
<path d="M59.3 228.8 L60.6 232.4 L59.4 236.1 L60.8 239.7 L60.2 243.4 L61.5 247.0" stroke="#c4e0e0" stroke-width="0.9900000000000001" fill="none" stroke-opacity="0.7200000000000001" stroke-linejoin="round"/>
</g>
<rect x="65.40" y="194.10" width="41.70" height="57.80" fill="#03060a" />
<g clip-path="url(#cd01)"><clipPath id="cd01"><rect x="65.4" y="194.1" width="41.7" height="57.8"/></clipPath>
<line x1="65.90" y1="203.00" x2="106.60" y2="203.00" stroke="#7f9a98" stroke-width="0.7" stroke-opacity="0.4"/>
<line x1="65.90" y1="221.40" x2="106.60" y2="221.40" stroke="#b8d0c8" stroke-width="0.8" stroke-opacity="0.8"/>
<path d="M68.4 221.4 L68.4 219.7 L68.5 218.0 L68.5 216.4 L67.3 214.7 L69.5 213.0" stroke="#d5e4dc" stroke-width="0.85" fill="none" stroke-opacity="0.9" stroke-linejoin="round"/>
<circle cx="69.5" cy="213.0" r="0.65" fill="#d4dab0"/>
<path d="M68.4 221.4 L67.3 225.1 L66.8 228.8 L66.9 232.5 L68.2 236.1 L65.8 239.8" stroke="#d5e4dc" stroke-width="0.765" fill="none" stroke-opacity="0.7200000000000001" stroke-linejoin="round"/>
<path d="M71.9 221.4 L71.6 219.8 L71.1 218.2 L70.5 216.5 L70.4 214.9 L68.5 213.3" stroke="#d5e4dc" stroke-width="0.85" fill="none" stroke-opacity="0.9" stroke-linejoin="round"/>
<circle cx="68.5" cy="213.3" r="0.65" fill="#d4dab0"/>
<path d="M71.9 221.4 L72.9 224.2 L71.4 227.0 L72.0 229.7 L73.4 232.5 L73.7 235.3" stroke="#d5e4dc" stroke-width="0.765" fill="none" stroke-opacity="0.7200000000000001" stroke-linejoin="round"/>
<path d="M75.6 221.4 L75.5 220.0 L75.7 218.6 L73.7 217.2 L74.3 215.8 L74.4 214.4" stroke="#d5e4dc" stroke-width="0.85" fill="none" stroke-opacity="0.9" stroke-linejoin="round"/>
<circle cx="74.4" cy="214.4" r="0.65" fill="#d4dab0"/>
<path d="M75.6 221.4 L76.2 224.4 L76.1 227.5 L74.3 230.5 L74.1 233.5 L74.9 236.6" stroke="#d5e4dc" stroke-width="0.765" fill="none" stroke-opacity="0.7200000000000001" stroke-linejoin="round"/>
<path d="M79.4 221.4 L79.3 219.9 L79.4 218.4 L79.9 216.9 L80.4 215.4 L82.0 213.9" stroke="#d5e4dc" stroke-width="0.85" fill="none" stroke-opacity="0.9" stroke-linejoin="round"/>
<circle cx="82.0" cy="213.9" r="0.65" fill="#d4dab0"/>
<path d="M79.4 221.4 L80.9 225.1 L80.9 228.7 L81.3 232.4 L79.4 236.1 L81.0 239.8" stroke="#d5e4dc" stroke-width="0.765" fill="none" stroke-opacity="0.7200000000000001" stroke-linejoin="round"/>
<path d="M83.6 221.4 L83.8 219.7 L83.1 218.0 L83.4 216.3 L82.2 214.6 L83.0 212.9" stroke="#d5e4dc" stroke-width="0.85" fill="none" stroke-opacity="0.9" stroke-linejoin="round"/>
<circle cx="83.0" cy="212.9" r="0.65" fill="#d4dab0"/>
<path d="M83.6 221.4 L82.3 224.2 L82.6 227.1 L84.8 229.9 L84.3 232.8 L84.8 235.6" stroke="#d5e4dc" stroke-width="0.765" fill="none" stroke-opacity="0.7200000000000001" stroke-linejoin="round"/>
<path d="M86.5 221.4 L85.7 219.7 L87.6 218.1 L87.1 216.4 L88.4 214.8 L87.8 213.1" stroke="#d5e4dc" stroke-width="0.85" fill="none" stroke-opacity="0.9" stroke-linejoin="round"/>
<circle cx="87.8" cy="213.1" r="0.65" fill="#d4dab0"/>
<path d="M86.5 221.4 L87.7 225.0 L86.9 228.6 L85.9 232.2 L86.7 235.8 L86.5 239.4" stroke="#d5e4dc" stroke-width="0.765" fill="none" stroke-opacity="0.7200000000000001" stroke-linejoin="round"/>
<path d="M90.4 221.4 L89.6 219.9 L90.9 218.5 L91.9 217.0 L91.0 215.5 L90.6 214.1" stroke="#d5e4dc" stroke-width="0.85" fill="none" stroke-opacity="0.9" stroke-linejoin="round"/>
<circle cx="90.6" cy="214.1" r="0.65" fill="#d4dab0"/>
<path d="M90.4 221.4 L90.5 224.3 L89.4 227.2 L89.3 230.1 L89.3 233.1 L89.7 236.0" stroke="#d5e4dc" stroke-width="0.765" fill="none" stroke-opacity="0.7200000000000001" stroke-linejoin="round"/>
<path d="M93.0 221.4 L92.7 219.9 L92.9 218.5 L92.0 217.0 L91.5 215.5 L91.3 214.1" stroke="#d5e4dc" stroke-width="0.85" fill="none" stroke-opacity="0.9" stroke-linejoin="round"/>
<circle cx="91.3" cy="214.1" r="0.65" fill="#d4dab0"/>
<path d="M93.0 221.4 L93.2 224.2 L92.3 227.1 L92.2 229.9 L92.1 232.8 L91.4 235.6" stroke="#d5e4dc" stroke-width="0.765" fill="none" stroke-opacity="0.7200000000000001" stroke-linejoin="round"/>
<path d="M96.2 221.4 L96.0 220.0 L96.5 218.5 L95.1 217.1 L95.9 215.6 L97.2 214.2" stroke="#d5e4dc" stroke-width="0.85" fill="none" stroke-opacity="0.9" stroke-linejoin="round"/>
<circle cx="97.2" cy="214.2" r="0.65" fill="#d4dab0"/>
<path d="M96.2 221.4 L96.1 224.2 L95.7 227.0 L94.9 229.8 L96.5 232.7 L94.4 235.5" stroke="#d5e4dc" stroke-width="0.765" fill="none" stroke-opacity="0.7200000000000001" stroke-linejoin="round"/>
<path d="M100.4 221.4 L100.6 220.0 L100.1 218.6 L101.2 217.1 L101.7 215.7 L102.8 214.3" stroke="#d5e4dc" stroke-width="0.85" fill="none" stroke-opacity="0.9" stroke-linejoin="round"/>
<circle cx="102.8" cy="214.3" r="0.65" fill="#d4dab0"/>
<path d="M100.4 221.4 L99.3 224.0 L100.9 226.7 L99.9 229.3 L97.9 231.9 L98.0 234.5" stroke="#d5e4dc" stroke-width="0.765" fill="none" stroke-opacity="0.7200000000000001" stroke-linejoin="round"/>
<path d="M103.2 221.4 L104.3 219.8 L103.9 218.2 L104.8 216.6 L105.1 215.0 L105.5 213.4" stroke="#d5e4dc" stroke-width="0.85" fill="none" stroke-opacity="0.9" stroke-linejoin="round"/>
<circle cx="105.5" cy="213.4" r="0.65" fill="#d4dab0"/>
<path d="M103.2 221.4 L103.9 224.7 L103.7 228.0 L104.2 231.3 L102.0 234.5 L104.0 237.8" stroke="#d5e4dc" stroke-width="0.765" fill="none" stroke-opacity="0.7200000000000001" stroke-linejoin="round"/>
</g>
<rect x="108.60" y="194.10" width="41.20" height="57.80" fill="#03060a" />
<g clip-path="url(#cd02)"><clipPath id="cd02"><rect x="108.6" y="194.1" width="41.2" height="57.8"/></clipPath>
<line x1="109.10" y1="203.00" x2="149.30" y2="203.00" stroke="#7f9a98" stroke-width="0.7" stroke-opacity="0.4"/>
<line x1="109.10" y1="227.90" x2="149.30" y2="227.90" stroke="#b8d0c8" stroke-width="0.8" stroke-opacity="0.8"/>
<path d="M111.7 227.9 L112.8 225.1 L111.8 222.4 L111.5 219.6 L112.3 216.8 L112.5 214.0" stroke="#dde6e2" stroke-width="0.8" fill="none" stroke-opacity="0.9" stroke-linejoin="round"/>
<circle cx="112.5" cy="214.0" r="0.65" fill="#d4dab0"/>
<path d="M111.7 227.9 L111.4 230.2 L111.8 232.5 L111.9 234.8 L112.7 237.1 L111.6 239.4" stroke="#dde6e2" stroke-width="0.7200000000000001" fill="none" stroke-opacity="0.7200000000000001" stroke-linejoin="round"/>
<path d="M116.0 227.9 L116.5 225.3 L116.5 222.6 L115.5 220.0 L115.2 217.3 L114.4 214.7" stroke="#dde6e2" stroke-width="0.8" fill="none" stroke-opacity="0.9" stroke-linejoin="round"/>
<circle cx="114.4" cy="214.7" r="0.65" fill="#d4dab0"/>
<path d="M116.0 227.9 L114.8 230.0 L115.8 232.1 L115.6 234.3 L114.1 236.4 L116.2 238.5" stroke="#dde6e2" stroke-width="0.7200000000000001" fill="none" stroke-opacity="0.7200000000000001" stroke-linejoin="round"/>
<path d="M119.6 227.9 L119.4 225.1 L120.4 222.3 L122.0 219.4 L120.3 216.6 L120.8 213.8" stroke="#dde6e2" stroke-width="0.8" fill="none" stroke-opacity="0.9" stroke-linejoin="round"/>
<circle cx="120.8" cy="213.8" r="0.65" fill="#d4dab0"/>
<path d="M119.6 227.9 L119.7 230.4 L120.9 232.9 L120.6 235.4 L120.0 237.9 L121.3 240.4" stroke="#dde6e2" stroke-width="0.7200000000000001" fill="none" stroke-opacity="0.7200000000000001" stroke-linejoin="round"/>
<path d="M123.6 227.9 L123.2 225.3 L123.7 222.7 L123.0 220.1 L124.3 217.4 L123.5 214.8" stroke="#dde6e2" stroke-width="0.8" fill="none" stroke-opacity="0.9" stroke-linejoin="round"/>
<circle cx="123.5" cy="214.8" r="0.65" fill="#d4dab0"/>
<path d="M123.6 227.9 L122.6 230.3 L123.4 232.7 L123.5 235.0 L123.9 237.4 L124.0 239.8" stroke="#dde6e2" stroke-width="0.7200000000000001" fill="none" stroke-opacity="0.7200000000000001" stroke-linejoin="round"/>
<path d="M127.9 227.9 L128.2 225.0 L129.0 222.1 L127.4 219.2 L127.8 216.3 L128.4 213.4" stroke="#dde6e2" stroke-width="0.8" fill="none" stroke-opacity="0.9" stroke-linejoin="round"/>
<circle cx="128.4" cy="213.4" r="0.65" fill="#d4dab0"/>
<path d="M127.9 227.9 L127.1 230.1 L128.6 232.3 L127.8 234.5 L126.7 236.7 L125.2 238.9" stroke="#dde6e2" stroke-width="0.7200000000000001" fill="none" stroke-opacity="0.7200000000000001" stroke-linejoin="round"/>
<path d="M131.7 227.9 L133.1 225.2 L132.5 222.5 L132.3 219.7 L133.2 217.0 L134.2 214.3" stroke="#dde6e2" stroke-width="0.8" fill="none" stroke-opacity="0.9" stroke-linejoin="round"/>
<circle cx="134.2" cy="214.3" r="0.65" fill="#d4dab0"/>
<path d="M131.7 227.9 L130.8 230.4 L130.8 232.9 L132.1 235.4 L132.0 237.9 L131.3 240.3" stroke="#dde6e2" stroke-width="0.7200000000000001" fill="none" stroke-opacity="0.7200000000000001" stroke-linejoin="round"/>
<path d="M135.6 227.9 L136.2 225.2 L134.9 222.5 L135.8 219.8 L134.0 217.1 L134.7 214.4" stroke="#dde6e2" stroke-width="0.8" fill="none" stroke-opacity="0.9" stroke-linejoin="round"/>
<circle cx="134.7" cy="214.4" r="0.65" fill="#d4dab0"/>
<path d="M135.6 227.9 L136.1 229.7 L136.7 231.6 L135.8 233.4 L136.9 235.2 L137.4 237.1" stroke="#dde6e2" stroke-width="0.7200000000000001" fill="none" stroke-opacity="0.7200000000000001" stroke-linejoin="round"/>
<path d="M138.1 227.9 L138.8 225.2 L138.9 222.5 L138.7 219.8 L139.3 217.1 L141.2 214.4" stroke="#dde6e2" stroke-width="0.8" fill="none" stroke-opacity="0.9" stroke-linejoin="round"/>
<circle cx="141.2" cy="214.4" r="0.65" fill="#d4dab0"/>
<path d="M138.1 227.9 L136.6 230.1 L136.4 232.4 L137.0 234.6 L137.4 236.9 L136.5 239.1" stroke="#dde6e2" stroke-width="0.7200000000000001" fill="none" stroke-opacity="0.7200000000000001" stroke-linejoin="round"/>
<path d="M142.7 227.9 L142.6 225.6 L143.8 223.2 L143.2 220.9 L143.0 218.6 L143.5 216.2" stroke="#dde6e2" stroke-width="0.8" fill="none" stroke-opacity="0.9" stroke-linejoin="round"/>
<circle cx="143.5" cy="216.2" r="0.65" fill="#d4dab0"/>
<path d="M142.7 227.9 L143.4 229.7 L142.1 231.5 L141.1 233.3 L141.0 235.1 L140.4 237.0" stroke="#dde6e2" stroke-width="0.7200000000000001" fill="none" stroke-opacity="0.7200000000000001" stroke-linejoin="round"/>
<path d="M145.2 227.9 L145.5 225.1 L146.4 222.2 L146.0 219.4 L146.0 216.5 L148.6 213.7" stroke="#dde6e2" stroke-width="0.8" fill="none" stroke-opacity="0.9" stroke-linejoin="round"/>
<circle cx="148.6" cy="213.7" r="0.65" fill="#d4dab0"/>
<path d="M145.2 227.9 L145.1 230.2 L147.0 232.5 L147.2 234.8 L146.1 237.1 L147.3 239.3" stroke="#dde6e2" stroke-width="0.7200000000000001" fill="none" stroke-opacity="0.7200000000000001" stroke-linejoin="round"/>
</g>
<rect x="151.90" y="194.10" width="41.30" height="57.80" fill="#03060a" />
<g clip-path="url(#cd03)"><clipPath id="cd03"><rect x="151.9" y="194.1" width="41.3" height="57.8"/></clipPath>
<line x1="152.40" y1="203.60" x2="192.70" y2="203.60" stroke="#7f9a98" stroke-width="0.7" stroke-opacity="0.4"/>
<line x1="152.40" y1="227.90" x2="192.70" y2="227.90" stroke="#b8d0c8" stroke-width="0.8" stroke-opacity="0.8"/>
<path d="M157.0 227.9 L156.4 225.6 L157.0 223.3 L155.5 221.0 L155.5 218.6 L156.6 216.3" stroke="#dde6e2" stroke-width="0.8" fill="none" stroke-opacity="0.9" stroke-linejoin="round"/>
<circle cx="156.6" cy="216.3" r="0.65" fill="#d4dab0"/>
<path d="M157.0 227.9 L157.7 230.5 L156.2 233.1 L156.0 235.7 L156.5 238.3 L156.0 240.9" stroke="#dde6e2" stroke-width="0.7200000000000001" fill="none" stroke-opacity="0.7200000000000001" stroke-linejoin="round"/>
<path d="M161.6 227.9 L161.3 225.7 L160.6 223.5 L160.3 221.3 L159.1 219.1 L158.8 216.9" stroke="#dde6e2" stroke-width="0.8" fill="none" stroke-opacity="0.9" stroke-linejoin="round"/>
<circle cx="158.8" cy="216.9" r="0.65" fill="#d4dab0"/>
<path d="M161.6 227.9 L161.6 230.2 L161.6 232.4 L161.8 234.7 L162.4 237.0 L162.6 239.3" stroke="#dde6e2" stroke-width="0.7200000000000001" fill="none" stroke-opacity="0.7200000000000001" stroke-linejoin="round"/>
<path d="M164.8 227.9 L165.0 225.5 L163.2 223.1 L163.2 220.7 L164.2 218.3 L162.2 215.9" stroke="#dde6e2" stroke-width="0.8" fill="none" stroke-opacity="0.9" stroke-linejoin="round"/>
<circle cx="162.2" cy="215.9" r="0.65" fill="#d4dab0"/>
<path d="M164.8 227.9 L165.7 230.0 L165.5 232.1 L163.7 234.2 L164.2 236.2 L165.1 238.3" stroke="#dde6e2" stroke-width="0.7200000000000001" fill="none" stroke-opacity="0.7200000000000001" stroke-linejoin="round"/>
<path d="M170.0 227.9 L170.5 225.3 L170.3 222.8 L171.3 220.2 L170.9 217.6 L172.8 215.1" stroke="#dde6e2" stroke-width="0.8" fill="none" stroke-opacity="0.9" stroke-linejoin="round"/>
<circle cx="172.8" cy="215.1" r="0.65" fill="#d4dab0"/>
<path d="M170.0 227.9 L170.9 229.9 L169.8 231.8 L168.9 233.8 L168.4 235.8 L169.1 237.8" stroke="#dde6e2" stroke-width="0.7200000000000001" fill="none" stroke-opacity="0.7200000000000001" stroke-linejoin="round"/>
<path d="M174.4 227.9 L174.5 225.4 L173.9 222.9 L175.1 220.3 L174.2 217.8 L174.9 215.3" stroke="#dde6e2" stroke-width="0.8" fill="none" stroke-opacity="0.9" stroke-linejoin="round"/>
<circle cx="174.9" cy="215.3" r="0.65" fill="#d4dab0"/>
<path d="M174.4 227.9 L174.0 229.8 L174.3 231.7 L173.5 233.6 L173.8 235.5 L175.7 237.4" stroke="#dde6e2" stroke-width="0.7200000000000001" fill="none" stroke-opacity="0.7200000000000001" stroke-linejoin="round"/>
<path d="M179.3 227.9 L179.0 225.5 L179.4 223.1 L179.0 220.7 L178.5 218.3 L179.1 215.9" stroke="#dde6e2" stroke-width="0.8" fill="none" stroke-opacity="0.9" stroke-linejoin="round"/>
<circle cx="179.1" cy="215.9" r="0.65" fill="#d4dab0"/>
<path d="M179.3 227.9 L178.0 229.8 L179.3 231.7 L177.8 233.6 L177.9 235.5 L179.0 237.4" stroke="#dde6e2" stroke-width="0.7200000000000001" fill="none" stroke-opacity="0.7200000000000001" stroke-linejoin="round"/>
<path d="M184.6 227.9 L183.7 225.4 L182.8 222.8 L184.0 220.3 L183.6 217.8 L182.5 215.3" stroke="#dde6e2" stroke-width="0.8" fill="none" stroke-opacity="0.9" stroke-linejoin="round"/>
<circle cx="182.5" cy="215.3" r="0.65" fill="#d4dab0"/>
<path d="M184.6 227.9 L185.0 230.4 L185.0 232.9 L183.7 235.5 L185.2 238.0 L183.8 240.5" stroke="#dde6e2" stroke-width="0.7200000000000001" fill="none" stroke-opacity="0.7200000000000001" stroke-linejoin="round"/>
<path d="M189.1 227.9 L190.0 225.8 L190.4 223.6 L189.2 221.5 L189.6 219.3 L190.3 217.2" stroke="#dde6e2" stroke-width="0.8" fill="none" stroke-opacity="0.9" stroke-linejoin="round"/>
<circle cx="190.3" cy="217.2" r="0.65" fill="#d4dab0"/>
<path d="M189.1 227.9 L188.2 229.8 L188.1 231.7 L186.9 233.6 L187.4 235.5 L187.9 237.4" stroke="#dde6e2" stroke-width="0.7200000000000001" fill="none" stroke-opacity="0.7200000000000001" stroke-linejoin="round"/>
</g>
<rect x="22.00" y="254.20" width="41.50" height="58.30" fill="#03060a" />
<g clip-path="url(#cd10)"><clipPath id="cd10"><rect x="22" y="254.2" width="41.5" height="58.3"/></clipPath>
<line x1="22.50" y1="267.40" x2="63.00" y2="267.40" stroke="#7f9a98" stroke-width="0.7" stroke-opacity="0.6"/>
<line x1="22.50" y1="292.00" x2="63.00" y2="292.00" stroke="#b8d0c8" stroke-width="0.8" stroke-opacity="0.8"/>
<path d="M25.2 292.0 L24.8 285.1 L25.5 278.2 L26.3 271.3 L25.7 264.5 L25.1 257.6" stroke="#c4e0e0" stroke-width="1.1" fill="none" stroke-opacity="0.9" stroke-linejoin="round"/>
<circle cx="25.1" cy="257.6" r="0.65" fill="#d4dab0"/>
<path d="M25.2 292.0 L26.3 295.4 L25.3 298.8 L25.0 302.3 L27.5 305.7 L27.2 309.1" stroke="#c4e0e0" stroke-width="0.9900000000000001" fill="none" stroke-opacity="0.7200000000000001" stroke-linejoin="round"/>
<path d="M28.4 292.0 L28.0 286.0 L30.0 280.0 L29.9 274.1 L28.6 268.1 L30.3 262.1" stroke="#c4e0e0" stroke-width="1.1" fill="none" stroke-opacity="0.9" stroke-linejoin="round"/>
<circle cx="30.3" cy="262.1" r="0.65" fill="#d4dab0"/>
<path d="M28.4 292.0 L29.0 294.8 L29.1 297.7 L27.5 300.5 L26.8 303.4 L29.1 306.2" stroke="#c4e0e0" stroke-width="0.9900000000000001" fill="none" stroke-opacity="0.7200000000000001" stroke-linejoin="round"/>
<path d="M32.4 292.0 L33.4 285.0 L33.2 278.0 L33.0 270.9 L32.3 263.9 L34.1 256.9" stroke="#c4e0e0" stroke-width="1.1" fill="none" stroke-opacity="0.9" stroke-linejoin="round"/>
<circle cx="34.1" cy="256.9" r="0.65" fill="#d4dab0"/>
<path d="M32.4 292.0 L32.4 295.6 L33.4 299.1 L31.2 302.7 L32.8 306.3 L30.8 309.9" stroke="#c4e0e0" stroke-width="0.9900000000000001" fill="none" stroke-opacity="0.7200000000000001" stroke-linejoin="round"/>
<path d="M36.3 292.0 L37.4 285.2 L36.7 278.3 L36.5 271.5 L35.8 264.7 L35.4 257.8" stroke="#c4e0e0" stroke-width="1.1" fill="none" stroke-opacity="0.9" stroke-linejoin="round"/>
<circle cx="35.4" cy="257.8" r="0.65" fill="#d4dab0"/>
<path d="M36.3 292.0 L35.9 295.0 L35.2 298.1 L35.3 301.1 L34.7 304.1 L36.1 307.1" stroke="#c4e0e0" stroke-width="0.9900000000000001" fill="none" stroke-opacity="0.7200000000000001" stroke-linejoin="round"/>
<path d="M39.6 292.0 L39.5 286.0 L40.7 280.1 L39.3 274.1 L39.2 268.1 L40.6 262.1" stroke="#c4e0e0" stroke-width="1.1" fill="none" stroke-opacity="0.9" stroke-linejoin="round"/>
<circle cx="40.6" cy="262.1" r="0.65" fill="#d4dab0"/>
<path d="M39.6 292.0 L39.4 295.0 L38.4 298.0 L39.4 301.0 L38.3 304.0 L38.5 307.0" stroke="#c4e0e0" stroke-width="0.9900000000000001" fill="none" stroke-opacity="0.7200000000000001" stroke-linejoin="round"/>
<path d="M42.2 292.0 L42.8 285.4 L42.9 278.8 L41.2 272.1 L41.6 265.5 L41.7 258.9" stroke="#c4e0e0" stroke-width="1.1" fill="none" stroke-opacity="0.9" stroke-linejoin="round"/>
<circle cx="41.7" cy="258.9" r="0.65" fill="#d4dab0"/>
<path d="M42.2 292.0 L40.7 295.5 L41.0 298.9 L40.5 302.4 L41.6 305.8 L40.6 309.3" stroke="#c4e0e0" stroke-width="0.9900000000000001" fill="none" stroke-opacity="0.7200000000000001" stroke-linejoin="round"/>
<path d="M45.5 292.0 L44.6 285.9 L44.2 279.8 L44.0 273.7 L46.2 267.6 L45.5 261.5" stroke="#c4e0e0" stroke-width="1.1" fill="none" stroke-opacity="0.9" stroke-linejoin="round"/>
<circle cx="45.5" cy="261.5" r="0.65" fill="#d4dab0"/>
<path d="M45.5 292.0 L45.7 295.3 L46.0 298.6 L44.5 301.9 L42.8 305.2 L43.4 308.5" stroke="#c4e0e0" stroke-width="0.9900000000000001" fill="none" stroke-opacity="0.7200000000000001" stroke-linejoin="round"/>
<path d="M49.5 292.0 L50.0 286.1 L48.8 280.2 L48.3 274.3 L48.5 268.4 L47.4 262.5" stroke="#c4e0e0" stroke-width="1.1" fill="none" stroke-opacity="0.9" stroke-linejoin="round"/>
<circle cx="47.4" cy="262.5" r="0.65" fill="#d4dab0"/>
<path d="M49.5 292.0 L48.5 295.4 L48.0 298.8 L47.4 302.2 L49.2 305.5 L49.1 308.9" stroke="#c4e0e0" stroke-width="0.9900000000000001" fill="none" stroke-opacity="0.7200000000000001" stroke-linejoin="round"/>
<path d="M52.7 292.0 L54.0 286.1 L52.6 280.2 L54.4 274.3 L54.8 268.4 L55.0 262.5" stroke="#c4e0e0" stroke-width="1.1" fill="none" stroke-opacity="0.9" stroke-linejoin="round"/>
<circle cx="55.0" cy="262.5" r="0.65" fill="#d4dab0"/>
<path d="M52.7 292.0 L51.6 295.5 L53.2 299.0 L51.6 302.5 L51.6 306.0 L51.9 309.5" stroke="#c4e0e0" stroke-width="0.9900000000000001" fill="none" stroke-opacity="0.7200000000000001" stroke-linejoin="round"/>
<path d="M56.2 292.0 L55.9 285.1 L55.6 278.3 L55.6 271.4 L54.8 264.5 L54.8 257.6" stroke="#c4e0e0" stroke-width="1.1" fill="none" stroke-opacity="0.9" stroke-linejoin="round"/>
<circle cx="54.8" cy="257.6" r="0.65" fill="#d4dab0"/>
<path d="M56.2 292.0 L56.6 295.0 L57.1 298.0 L56.6 301.0 L57.4 304.0 L58.6 307.0" stroke="#c4e0e0" stroke-width="0.9900000000000001" fill="none" stroke-opacity="0.7200000000000001" stroke-linejoin="round"/>
<path d="M59.1 292.0 L60.2 285.3 L58.0 278.7 L57.9 272.0 L58.8 265.4 L58.1 258.7" stroke="#c4e0e0" stroke-width="1.1" fill="none" stroke-opacity="0.9" stroke-linejoin="round"/>
<circle cx="58.1" cy="258.7" r="0.65" fill="#d4dab0"/>
<path d="M59.1 292.0 L58.0 294.9 L60.5 297.8 L60.8 300.7 L60.8 303.6 L60.0 306.5" stroke="#c4e0e0" stroke-width="0.9900000000000001" fill="none" stroke-opacity="0.7200000000000001" stroke-linejoin="round"/>
</g>
<rect x="65.40" y="254.20" width="41.70" height="58.30" fill="#03060a" />
<g clip-path="url(#cd11)"><clipPath id="cd11"><rect x="65.4" y="254.2" width="41.7" height="58.3"/></clipPath>
<line x1="65.90" y1="277.20" x2="106.60" y2="277.20" stroke="#7f9a98" stroke-width="0.7" stroke-opacity="0.4"/>
<line x1="65.90" y1="293.20" x2="106.60" y2="293.20" stroke="#b8d0c8" stroke-width="0.8" stroke-opacity="0.8"/>
<path d="M69.4 293.2 L68.9 290.8 L69.1 288.4 L69.6 286.0 L69.9 283.6 L70.0 281.2" stroke="#d5e4dc" stroke-width="0.85" fill="none" stroke-opacity="0.9" stroke-linejoin="round"/>
<circle cx="70.0" cy="281.2" r="0.65" fill="#d4dab0"/>
<path d="M69.4 293.2 L68.5 295.1 L68.6 296.9 L68.6 298.8 L67.7 300.6 L66.9 302.5" stroke="#d5e4dc" stroke-width="0.765" fill="none" stroke-opacity="0.7200000000000001" stroke-linejoin="round"/>
<path d="M73.8 293.2 L75.2 291.0 L75.6 288.8 L76.3 286.5 L76.8 284.3 L76.4 282.1" stroke="#d5e4dc" stroke-width="0.85" fill="none" stroke-opacity="0.9" stroke-linejoin="round"/>
<circle cx="76.4" cy="282.1" r="0.65" fill="#d4dab0"/>
<path d="M73.8 293.2 L72.9 295.0 L74.9 296.8 L75.0 298.7 L74.5 300.5 L75.6 302.3" stroke="#d5e4dc" stroke-width="0.765" fill="none" stroke-opacity="0.7200000000000001" stroke-linejoin="round"/>
<path d="M79.9 293.2 L79.3 290.9 L80.4 288.6 L78.2 286.3 L78.4 284.0 L79.3 281.7" stroke="#d5e4dc" stroke-width="0.85" fill="none" stroke-opacity="0.9" stroke-linejoin="round"/>
<circle cx="79.3" cy="281.7" r="0.65" fill="#d4dab0"/>
<path d="M79.9 293.2 L78.7 295.2 L80.2 297.1 L79.4 299.1 L79.9 301.0 L79.4 303.0" stroke="#d5e4dc" stroke-width="0.765" fill="none" stroke-opacity="0.7200000000000001" stroke-linejoin="round"/>
<path d="M83.9 293.2 L82.8 290.8 L84.1 288.5 L82.9 286.1 L81.5 283.8 L82.9 281.4" stroke="#d5e4dc" stroke-width="0.85" fill="none" stroke-opacity="0.9" stroke-linejoin="round"/>
<circle cx="82.9" cy="281.4" r="0.65" fill="#d4dab0"/>
<path d="M83.9 293.2 L82.6 295.0 L83.5 296.8 L82.5 298.5 L82.9 300.3 L82.9 302.1" stroke="#d5e4dc" stroke-width="0.765" fill="none" stroke-opacity="0.7200000000000001" stroke-linejoin="round"/>
<path d="M88.2 293.2 L88.4 290.8 L87.2 288.5 L88.0 286.1 L87.2 283.8 L88.1 281.4" stroke="#d5e4dc" stroke-width="0.85" fill="none" stroke-opacity="0.9" stroke-linejoin="round"/>
<circle cx="88.1" cy="281.4" r="0.65" fill="#d4dab0"/>
<path d="M88.2 293.2 L88.7 294.8 L89.5 296.4 L90.0 297.9 L88.6 299.5 L91.3 301.1" stroke="#d5e4dc" stroke-width="0.765" fill="none" stroke-opacity="0.7200000000000001" stroke-linejoin="round"/>
<path d="M93.7 293.2 L92.8 291.1 L94.6 289.0 L93.5 286.9 L93.9 284.8 L92.3 282.7" stroke="#d5e4dc" stroke-width="0.85" fill="none" stroke-opacity="0.9" stroke-linejoin="round"/>
<circle cx="92.3" cy="282.7" r="0.65" fill="#d4dab0"/>
<path d="M93.7 293.2 L92.7 295.3 L93.5 297.4 L94.2 299.4 L93.5 301.5 L95.3 303.6" stroke="#d5e4dc" stroke-width="0.765" fill="none" stroke-opacity="0.7200000000000001" stroke-linejoin="round"/>
<path d="M97.6 293.2 L98.4 291.0 L97.7 288.8 L98.2 286.6 L97.4 284.4 L98.2 282.2" stroke="#d5e4dc" stroke-width="0.85" fill="none" stroke-opacity="0.9" stroke-linejoin="round"/>
<circle cx="98.2" cy="282.2" r="0.65" fill="#d4dab0"/>
<path d="M97.6 293.2 L97.0 295.2 L99.0 297.2 L98.3 299.2 L99.8 301.2 L99.9 303.2" stroke="#d5e4dc" stroke-width="0.765" fill="none" stroke-opacity="0.7200000000000001" stroke-linejoin="round"/>
<path d="M103.3 293.2 L104.6 291.1 L104.3 289.0 L102.9 286.9 L104.5 284.8 L103.5 282.7" stroke="#d5e4dc" stroke-width="0.85" fill="none" stroke-opacity="0.9" stroke-linejoin="round"/>
<circle cx="103.5" cy="282.7" r="0.65" fill="#d4dab0"/>
<path d="M103.3 293.2 L104.1 295.0 L102.3 296.7 L104.6 298.5 L103.9 300.2 L102.8 302.0" stroke="#d5e4dc" stroke-width="0.765" fill="none" stroke-opacity="0.7200000000000001" stroke-linejoin="round"/>
<line x1="69.40" y1="301.20" x2="101.10" y2="301.20" stroke="#c8dcd4" stroke-width="0.8" stroke-opacity="0.7"/>
</g>
<rect x="108.60" y="254.20" width="41.20" height="58.30" fill="#03060a" />
<g clip-path="url(#cd12)"><clipPath id="cd12"><rect x="108.6" y="254.2" width="41.2" height="58.3"/></clipPath>
<line x1="109.10" y1="263.20" x2="149.30" y2="263.20" stroke="#7f9a98" stroke-width="0.7" stroke-opacity="0.4"/>
<line x1="109.10" y1="288.20" x2="149.30" y2="288.20" stroke="#b8d0c8" stroke-width="0.8" stroke-opacity="0.8"/>
<path d="M112.0 288.2 L111.1 285.5 L111.0 282.9 L111.3 280.2 L113.0 277.5 L111.6 274.9" stroke="#dde6e2" stroke-width="0.8" fill="none" stroke-opacity="0.9" stroke-linejoin="round"/>
<circle cx="111.6" cy="274.9" r="0.65" fill="#d4dab0"/>
<path d="M112.0 288.2 L111.5 290.6 L112.6 293.0 L111.8 295.4 L111.2 297.8 L113.3 300.2" stroke="#dde6e2" stroke-width="0.7200000000000001" fill="none" stroke-opacity="0.7200000000000001" stroke-linejoin="round"/>
<path d="M116.2 288.2 L115.5 285.4 L116.8 282.6 L116.8 279.7 L118.0 276.9 L119.4 274.1" stroke="#dde6e2" stroke-width="0.8" fill="none" stroke-opacity="0.9" stroke-linejoin="round"/>
<circle cx="119.4" cy="274.1" r="0.65" fill="#d4dab0"/>
<path d="M116.2 288.2 L115.3 290.6 L116.0 293.0 L118.0 295.3 L117.9 297.7 L117.5 300.1" stroke="#dde6e2" stroke-width="0.7200000000000001" fill="none" stroke-opacity="0.7200000000000001" stroke-linejoin="round"/>
<path d="M119.9 288.2 L120.6 285.7 L119.9 283.2 L118.5 280.8 L119.0 278.3 L118.7 275.8" stroke="#dde6e2" stroke-width="0.8" fill="none" stroke-opacity="0.9" stroke-linejoin="round"/>
<circle cx="118.7" cy="275.8" r="0.65" fill="#d4dab0"/>
<path d="M119.9 288.2 L120.5 290.6 L119.4 293.0 L120.1 295.4 L121.1 297.8 L121.7 300.2" stroke="#dde6e2" stroke-width="0.7200000000000001" fill="none" stroke-opacity="0.7200000000000001" stroke-linejoin="round"/>
<path d="M123.7 288.2 L123.4 285.6 L122.4 282.9 L121.1 280.3 L121.7 277.7 L122.4 275.1" stroke="#dde6e2" stroke-width="0.8" fill="none" stroke-opacity="0.9" stroke-linejoin="round"/>
<circle cx="122.4" cy="275.1" r="0.65" fill="#d4dab0"/>
<path d="M123.7 288.2 L122.3 290.2 L123.3 292.2 L121.8 294.2 L121.3 296.2 L121.5 298.2" stroke="#dde6e2" stroke-width="0.7200000000000001" fill="none" stroke-opacity="0.7200000000000001" stroke-linejoin="round"/>
<path d="M127.0 288.2 L128.6 285.5 L126.8 282.7 L128.5 280.0 L129.4 277.2 L130.1 274.5" stroke="#dde6e2" stroke-width="0.8" fill="none" stroke-opacity="0.9" stroke-linejoin="round"/>
<circle cx="130.1" cy="274.5" r="0.65" fill="#d4dab0"/>
<path d="M127.0 288.2 L127.6 290.4 L127.9 292.5 L127.4 294.7 L127.5 296.8 L129.1 299.0" stroke="#dde6e2" stroke-width="0.7200000000000001" fill="none" stroke-opacity="0.7200000000000001" stroke-linejoin="round"/>
<path d="M131.7 288.2 L132.1 285.2 L131.8 282.2 L131.1 279.2 L131.2 276.3 L130.3 273.3" stroke="#dde6e2" stroke-width="0.8" fill="none" stroke-opacity="0.9" stroke-linejoin="round"/>
<circle cx="130.3" cy="273.3" r="0.65" fill="#d4dab0"/>
<path d="M131.7 288.2 L131.5 290.5 L130.6 292.7 L131.4 295.0 L131.4 297.3 L133.2 299.6" stroke="#dde6e2" stroke-width="0.7200000000000001" fill="none" stroke-opacity="0.7200000000000001" stroke-linejoin="round"/>
<path d="M134.8 288.2 L134.1 285.6 L133.4 283.0 L132.8 280.4 L134.6 277.7 L133.3 275.1" stroke="#dde6e2" stroke-width="0.8" fill="none" stroke-opacity="0.9" stroke-linejoin="round"/>
<circle cx="133.3" cy="275.1" r="0.65" fill="#d4dab0"/>
<path d="M134.8 288.2 L134.9 290.1 L134.1 292.0 L133.7 294.0 L133.4 295.9 L133.9 297.8" stroke="#dde6e2" stroke-width="0.7200000000000001" fill="none" stroke-opacity="0.7200000000000001" stroke-linejoin="round"/>
<path d="M138.2 288.2 L138.3 285.4 L140.1 282.5 L139.7 279.7 L138.9 276.8 L139.6 274.0" stroke="#dde6e2" stroke-width="0.8" fill="none" stroke-opacity="0.9" stroke-linejoin="round"/>
<circle cx="139.6" cy="274.0" r="0.65" fill="#d4dab0"/>
<path d="M138.2 288.2 L139.6 290.4 L138.0 292.5 L139.2 294.7 L138.3 296.9 L139.6 299.0" stroke="#dde6e2" stroke-width="0.7200000000000001" fill="none" stroke-opacity="0.7200000000000001" stroke-linejoin="round"/>
<path d="M141.5 288.2 L140.7 285.5 L139.9 282.8 L140.1 280.1 L140.1 277.4 L140.9 274.7" stroke="#dde6e2" stroke-width="0.8" fill="none" stroke-opacity="0.9" stroke-linejoin="round"/>
<circle cx="140.9" cy="274.7" r="0.65" fill="#d4dab0"/>
<path d="M141.5 288.2 L141.0 290.6 L140.1 293.1 L141.0 295.5 L141.4 298.0 L140.5 300.4" stroke="#dde6e2" stroke-width="0.7200000000000001" fill="none" stroke-opacity="0.7200000000000001" stroke-linejoin="round"/>
<path d="M145.5 288.2 L144.6 285.3 L146.4 282.5 L146.7 279.6 L145.5 276.8 L145.1 273.9" stroke="#dde6e2" stroke-width="0.8" fill="none" stroke-opacity="0.9" stroke-linejoin="round"/>
<circle cx="145.1" cy="273.9" r="0.65" fill="#d4dab0"/>
<path d="M145.5 288.2 L145.2 290.7 L145.9 293.2 L144.9 295.7 L145.4 298.2 L143.1 300.7" stroke="#dde6e2" stroke-width="0.7200000000000001" fill="none" stroke-opacity="0.7200000000000001" stroke-linejoin="round"/>
</g>
<rect x="151.90" y="254.20" width="41.30" height="58.30" fill="#03060a" />
<g clip-path="url(#cd13)"><clipPath id="cd13"><rect x="151.9" y="254.2" width="41.3" height="58.3"/></clipPath>
<line x1="152.40" y1="263.20" x2="192.70" y2="263.20" stroke="#7f9a98" stroke-width="0.7" stroke-opacity="0.4"/>
<line x1="152.40" y1="287.70" x2="192.70" y2="287.70" stroke="#b8d0c8" stroke-width="0.8" stroke-opacity="0.8"/>
<path d="M155.7 287.7 L156.0 285.9 L155.1 284.0 L154.4 282.2 L155.1 280.3 L154.1 278.5" stroke="#dde6e2" stroke-width="0.85" fill="none" stroke-opacity="0.9" stroke-linejoin="round"/>
<circle cx="154.1" cy="278.5" r="0.65" fill="#d4dab0"/>
<path d="M155.7 287.7 L155.4 289.9 L155.9 292.2 L156.3 294.4 L155.5 296.7 L156.2 298.9" stroke="#dde6e2" stroke-width="0.765" fill="none" stroke-opacity="0.7200000000000001" stroke-linejoin="round"/>
<path d="M159.3 287.7 L158.8 285.8 L160.6 283.9 L161.3 282.0 L160.9 280.0 L160.8 278.1" stroke="#dde6e2" stroke-width="0.85" fill="none" stroke-opacity="0.9" stroke-linejoin="round"/>
<circle cx="160.8" cy="278.1" r="0.65" fill="#d4dab0"/>
<path d="M159.3 287.7 L158.0 289.9 L159.4 292.1 L157.2 294.2 L158.8 296.4 L157.4 298.6" stroke="#dde6e2" stroke-width="0.765" fill="none" stroke-opacity="0.7200000000000001" stroke-linejoin="round"/>
<path d="M164.3 287.7 L164.7 285.9 L164.2 284.2 L165.4 282.4 L164.4 280.6 L165.6 278.8" stroke="#dde6e2" stroke-width="0.85" fill="none" stroke-opacity="0.9" stroke-linejoin="round"/>
<circle cx="165.6" cy="278.8" r="0.65" fill="#d4dab0"/>
<path d="M164.3 287.7 L165.3 289.9 L164.3 292.0 L165.9 294.2 L166.7 296.4 L165.5 298.6" stroke="#dde6e2" stroke-width="0.765" fill="none" stroke-opacity="0.7200000000000001" stroke-linejoin="round"/>
<path d="M168.1 287.7 L166.5 286.0 L167.3 284.2 L167.3 282.5 L167.2 280.7 L165.9 279.0" stroke="#dde6e2" stroke-width="0.85" fill="none" stroke-opacity="0.9" stroke-linejoin="round"/>
<circle cx="165.9" cy="279.0" r="0.65" fill="#d4dab0"/>
<path d="M168.1 287.7 L167.8 290.2 L169.7 292.7 L168.4 295.1 L168.7 297.6 L169.5 300.1" stroke="#dde6e2" stroke-width="0.765" fill="none" stroke-opacity="0.7200000000000001" stroke-linejoin="round"/>
<path d="M171.8 287.7 L172.6 286.0 L170.9 284.2 L170.1 282.5 L169.8 280.7 L170.8 279.0" stroke="#dde6e2" stroke-width="0.85" fill="none" stroke-opacity="0.9" stroke-linejoin="round"/>
<circle cx="170.8" cy="279.0" r="0.65" fill="#d4dab0"/>
<path d="M171.8 287.7 L171.3 289.9 L171.4 292.0 L173.9 294.2 L172.8 296.4 L175.3 298.6" stroke="#dde6e2" stroke-width="0.765" fill="none" stroke-opacity="0.7200000000000001" stroke-linejoin="round"/>
<path d="M176.7 287.7 L176.9 285.9 L176.9 284.1 L178.6 282.3 L177.0 280.5 L178.8 278.7" stroke="#dde6e2" stroke-width="0.85" fill="none" stroke-opacity="0.9" stroke-linejoin="round"/>
<circle cx="178.8" cy="278.7" r="0.65" fill="#d4dab0"/>
<path d="M176.7 287.7 L176.7 289.7 L175.6 291.7 L176.4 293.7 L173.8 295.7 L174.7 297.7" stroke="#dde6e2" stroke-width="0.765" fill="none" stroke-opacity="0.7200000000000001" stroke-linejoin="round"/>
<path d="M180.7 287.7 L180.2 285.8 L180.4 283.9 L180.5 282.0 L181.0 280.1 L180.7 278.1" stroke="#dde6e2" stroke-width="0.85" fill="none" stroke-opacity="0.9" stroke-linejoin="round"/>
<circle cx="180.7" cy="278.1" r="0.65" fill="#d4dab0"/>
<path d="M180.7 287.7 L181.1 290.2 L180.5 292.7 L179.3 295.2 L180.9 297.6 L178.4 300.1" stroke="#dde6e2" stroke-width="0.765" fill="none" stroke-opacity="0.7200000000000001" stroke-linejoin="round"/>
<path d="M185.1 287.7 L184.9 286.1 L186.4 284.5 L187.0 282.9 L186.1 281.3 L186.5 279.7" stroke="#dde6e2" stroke-width="0.85" fill="none" stroke-opacity="0.9" stroke-linejoin="round"/>
<circle cx="186.5" cy="279.7" r="0.65" fill="#d4dab0"/>
<path d="M185.1 287.7 L186.1 290.1 L184.1 292.5 L185.5 295.0 L185.3 297.4 L184.9 299.8" stroke="#dde6e2" stroke-width="0.765" fill="none" stroke-opacity="0.7200000000000001" stroke-linejoin="round"/>
<path d="M189.3 287.7 L189.3 285.8 L190.7 283.9 L191.3 282.0 L190.0 280.1 L192.0 278.2" stroke="#dde6e2" stroke-width="0.85" fill="none" stroke-opacity="0.9" stroke-linejoin="round"/>
<circle cx="192.0" cy="278.2" r="0.65" fill="#d4dab0"/>
<path d="M189.3 287.7 L189.2 289.6 L189.0 291.5 L189.7 293.4 L192.5 295.3 L190.4 297.2" stroke="#dde6e2" stroke-width="0.765" fill="none" stroke-opacity="0.7200000000000001" stroke-linejoin="round"/>
</g>
<rect x="179.60" y="307.90" width="8.40" height="1.40" fill="#e8e8e8" />
<text x="400.50" y="173.30" font-size="12.5">F</text>
<path d="M439.0 189.2 L440.3 203.9 L441.5 213.3 L442.8 221.0 L444.1 227.1 L445.3 231.5 L446.6 234.5 L447.9 236.9 L449.1 239.0 L450.4 240.8 L451.7 242.5 L453.0 244.2 L454.2 245.7 L455.5 247.1 L456.8 248.4 L458.0 249.6 L459.3 250.6 L460.6 251.6 L461.8 252.5 L463.1 253.3 L464.4 254.1 L465.6 254.8 L466.9 255.4 L468.2 256.0 L469.4 256.6 L470.7 257.2 L472.0 257.7 L473.2 258.2 L474.5 258.7 L475.8 259.1 L477.1 259.6 L478.3 260.1 L479.6 260.5 L480.9 261.0 L482.1 261.4 L483.4 261.9 L484.7 262.3 L485.9 262.7 L487.2 263.1 L488.5 263.5 L489.7 263.9 L491.0 264.3 L492.3 264.7 L493.5 265.0 L494.8 265.4 L496.1 265.7 L497.3 266.0 L498.6 266.4 L499.9 266.7 L501.1 267.0 L502.4 267.3 L503.7 267.6 L505.0 267.8 L506.2 268.1 L507.5 268.4 L508.8 268.6 L510.0 268.9 L511.3 269.1 L512.6 269.3 L513.8 269.6 L515.1 269.8 L516.4 270.0 L517.6 270.2 L518.9 270.4 L520.2 270.6 L521.4 270.7 L522.7 270.9 L524.0 271.1 L525.2 271.2 L526.5 271.4 L527.8 271.6 L529.1 271.7 L530.3 271.9 L531.6 272.0 L532.9 272.2 L534.1 272.3 L535.4 272.5 L536.7 272.6 L537.9 272.8 L539.2 272.9 L540.5 273.1 L541.7 273.3 L543.0 273.4 L544.3 273.6 L545.5 273.7 L546.8 273.9 L548.1 274.1 L549.3 274.2 L550.6 274.4 L551.9 274.5 L553.2 274.7 L554.4 274.9 L555.7 275.0 L557.0 275.2 L558.2 275.4 L559.5 275.5 L560.8 275.7 L562.0 275.9 L563.3 276.0 L564.6 276.2 L565.8 276.4 L567.1 276.6 L568.4 276.7 L569.6 276.9 L570.9 277.1 L572.2 277.2 L573.4 277.4 L574.7 277.6 L576.0 277.7 L577.2 277.9 L578.5 278.1 L579.8 278.2 L581.1 278.4 L582.3 278.6 L583.6 278.7 L584.9 278.9 L586.1 279.1 L587.4 279.2 L588.7 279.4 L589.9 279.6 L591.2 279.7 L591.2 283.6 L589.9 283.4 L588.7 283.3 L587.4 283.2 L586.1 283.1 L584.9 283.0 L583.6 282.8 L582.3 282.7 L581.1 282.6 L579.8 282.5 L578.5 282.3 L577.2 282.2 L576.0 282.1 L574.7 282.0 L573.4 281.8 L572.2 281.7 L570.9 281.6 L569.6 281.4 L568.4 281.3 L567.1 281.2 L565.8 281.0 L564.6 280.9 L563.3 280.8 L562.0 280.6 L560.8 280.5 L559.5 280.4 L558.2 280.2 L557.0 280.1 L555.7 279.9 L554.4 279.8 L553.2 279.6 L551.9 279.5 L550.6 279.3 L549.3 279.2 L548.1 279.0 L546.8 278.8 L545.5 278.7 L544.3 278.5 L543.0 278.4 L541.7 278.2 L540.5 278.1 L539.2 278.0 L537.9 277.9 L536.7 277.9 L535.4 277.8 L534.1 277.7 L532.9 277.6 L531.6 277.6 L530.3 277.5 L529.1 277.4 L527.8 277.4 L526.5 277.3 L525.2 277.3 L524.0 277.2 L522.7 277.1 L521.4 277.1 L520.2 277.0 L518.9 276.9 L517.6 276.8 L516.4 276.7 L515.1 276.6 L513.8 276.5 L512.6 276.4 L511.3 276.3 L510.0 276.1 L508.8 276.0 L507.5 275.8 L506.2 275.7 L505.0 275.5 L503.7 275.4 L502.4 275.2 L501.1 275.0 L499.9 274.8 L498.6 274.6 L497.3 274.4 L496.1 274.2 L494.8 273.9 L493.5 273.7 L492.3 273.4 L491.0 273.2 L489.7 272.9 L488.5 272.6 L487.2 272.3 L485.9 272.0 L484.7 271.7 L483.4 271.4 L482.1 271.1 L480.9 270.8 L479.6 270.4 L478.3 270.0 L477.1 269.7 L475.8 269.3 L474.5 268.9 L473.2 268.5 L472.0 268.0 L470.7 267.5 L469.4 267.0 L468.2 266.4 L466.9 265.9 L465.6 265.3 L464.4 264.6 L463.1 264.0 L461.8 263.3 L460.6 262.6 L459.3 261.8 L458.0 260.8 L456.8 259.7 L455.5 258.4 L454.2 256.9 L453.0 255.2 L451.7 253.3 L450.4 251.0 L449.1 248.2 L447.9 245.0 L446.6 241.2 L445.3 237.0 L444.1 232.3 L442.8 226.7 L441.5 219.4 L440.3 208.5 L439.0 189.2Z" stroke="none" stroke-width="0" fill="#e8585c" />
<path d="M440.3 203.9V208.5M442.8 221.0V226.7M445.3 231.5V237.0M447.9 236.9V245.0M450.4 240.8V251.0M453.0 244.2V255.2M455.5 247.1V258.4M458.0 249.6V260.8M460.6 251.6V262.6M463.1 253.3V264.0M465.6 254.8V265.3M468.2 256.0V266.4M470.7 257.2V267.5M473.2 258.2V268.5M475.8 259.1V269.3M478.3 260.1V270.0M480.9 261.0V270.8M483.4 261.9V271.4M485.9 262.7V272.0M488.5 263.5V272.6M491.0 264.3V273.2M493.5 265.0V273.7M496.1 265.7V274.2M498.6 266.4V274.6M501.1 267.0V275.0M503.7 267.6V275.4M506.2 268.1V275.7M508.8 268.6V276.0M511.3 269.1V276.3M513.8 269.6V276.5M516.4 270.0V276.7M518.9 270.4V276.9M521.4 270.7V277.1M524.0 271.1V277.2M526.5 271.4V277.3M529.1 271.7V277.4M531.6 272.0V277.6M534.1 272.3V277.7M536.7 272.6V277.9M539.2 272.9V278.0M541.7 273.3V278.2M544.3 273.6V278.5M546.8 273.9V278.8M549.3 274.2V279.2M551.9 274.5V279.5M554.4 274.9V279.8M557.0 275.2V280.1M559.5 275.5V280.4M562.0 275.9V280.6M564.6 276.2V280.9M567.1 276.6V281.2M569.6 276.9V281.4M572.2 277.2V281.7M574.7 277.6V282.0M577.2 277.9V282.2M579.8 278.2V282.5M582.3 278.6V282.7M584.9 278.9V283.0M587.4 279.2V283.2M589.9 279.6V283.4" stroke="#cf1f27" stroke-width="0.8" fill="none" />
<path d="M439.0 189.2 L440.3 203.9 L441.5 213.3 L442.8 221.0 L444.1 227.1 L445.3 231.5 L446.6 234.5 L447.9 236.9 L449.1 239.0 L450.4 240.8 L451.7 242.5 L453.0 244.2 L454.2 245.7 L455.5 247.1 L456.8 248.4 L458.0 249.6 L459.3 250.6 L460.6 251.6 L461.8 252.5 L463.1 253.3 L464.4 254.1 L465.6 254.8 L466.9 255.4 L468.2 256.0 L469.4 256.6 L470.7 257.2 L472.0 257.7 L473.2 258.2 L474.5 258.7 L475.8 259.1 L477.1 259.6 L478.3 260.1 L479.6 260.5 L480.9 261.0 L482.1 261.4 L483.4 261.9 L484.7 262.3 L485.9 262.7 L487.2 263.1 L488.5 263.5 L489.7 263.9 L491.0 264.3 L492.3 264.7 L493.5 265.0 L494.8 265.4 L496.1 265.7 L497.3 266.0 L498.6 266.4 L499.9 266.7 L501.1 267.0 L502.4 267.3 L503.7 267.6 L505.0 267.8 L506.2 268.1 L507.5 268.4 L508.8 268.6 L510.0 268.9 L511.3 269.1 L512.6 269.3 L513.8 269.6 L515.1 269.8 L516.4 270.0 L517.6 270.2 L518.9 270.4 L520.2 270.6 L521.4 270.7 L522.7 270.9 L524.0 271.1 L525.2 271.2 L526.5 271.4 L527.8 271.6 L529.1 271.7 L530.3 271.9 L531.6 272.0 L532.9 272.2 L534.1 272.3 L535.4 272.5 L536.7 272.6 L537.9 272.8 L539.2 272.9 L540.5 273.1 L541.7 273.3 L543.0 273.4 L544.3 273.6 L545.5 273.7 L546.8 273.9 L548.1 274.1 L549.3 274.2 L550.6 274.4 L551.9 274.5 L553.2 274.7 L554.4 274.9 L555.7 275.0 L557.0 275.2 L558.2 275.4 L559.5 275.5 L560.8 275.7 L562.0 275.9 L563.3 276.0 L564.6 276.2 L565.8 276.4 L567.1 276.6 L568.4 276.7 L569.6 276.9 L570.9 277.1 L572.2 277.2 L573.4 277.4 L574.7 277.6 L576.0 277.7 L577.2 277.9 L578.5 278.1 L579.8 278.2 L581.1 278.4 L582.3 278.6 L583.6 278.7 L584.9 278.9 L586.1 279.1 L587.4 279.2 L588.7 279.4 L589.9 279.6 L591.2 279.7" stroke="#cf1f27" stroke-width="0.5" fill="none" />
<path d="M439.0 189.2 L440.3 208.5 L441.5 219.4 L442.8 226.7 L444.1 232.3 L445.3 237.0 L446.6 241.2 L447.9 245.0 L449.1 248.2 L450.4 251.0 L451.7 253.3 L453.0 255.2 L454.2 256.9 L455.5 258.4 L456.8 259.7 L458.0 260.8 L459.3 261.8 L460.6 262.6 L461.8 263.3 L463.1 264.0 L464.4 264.6 L465.6 265.3 L466.9 265.9 L468.2 266.4 L469.4 267.0 L470.7 267.5 L472.0 268.0 L473.2 268.5 L474.5 268.9 L475.8 269.3 L477.1 269.7 L478.3 270.0 L479.6 270.4 L480.9 270.8 L482.1 271.1 L483.4 271.4 L484.7 271.7 L485.9 272.0 L487.2 272.3 L488.5 272.6 L489.7 272.9 L491.0 273.2 L492.3 273.4 L493.5 273.7 L494.8 273.9 L496.1 274.2 L497.3 274.4 L498.6 274.6 L499.9 274.8 L501.1 275.0 L502.4 275.2 L503.7 275.4 L505.0 275.5 L506.2 275.7 L507.5 275.8 L508.8 276.0 L510.0 276.1 L511.3 276.3 L512.6 276.4 L513.8 276.5 L515.1 276.6 L516.4 276.7 L517.6 276.8 L518.9 276.9 L520.2 277.0 L521.4 277.1 L522.7 277.1 L524.0 277.2 L525.2 277.3 L526.5 277.3 L527.8 277.4 L529.1 277.4 L530.3 277.5 L531.6 277.6 L532.9 277.6 L534.1 277.7 L535.4 277.8 L536.7 277.9 L537.9 277.9 L539.2 278.0 L540.5 278.1 L541.7 278.2 L543.0 278.4 L544.3 278.5 L545.5 278.7 L546.8 278.8 L548.1 279.0 L549.3 279.2 L550.6 279.3 L551.9 279.5 L553.2 279.6 L554.4 279.8 L555.7 279.9 L557.0 280.1 L558.2 280.2 L559.5 280.4 L560.8 280.5 L562.0 280.6 L563.3 280.8 L564.6 280.9 L565.8 281.0 L567.1 281.2 L568.4 281.3 L569.6 281.4 L570.9 281.6 L572.2 281.7 L573.4 281.8 L574.7 282.0 L576.0 282.1 L577.2 282.2 L578.5 282.3 L579.8 282.5 L581.1 282.6 L582.3 282.7 L583.6 282.8 L584.9 283.0 L586.1 283.1 L587.4 283.2 L588.7 283.3 L589.9 283.4 L591.2 283.6" stroke="#cf1f27" stroke-width="0.5" fill="none" />
<path d="M439.0 208.5h2.6M440.2 219.4h2.6M441.5 226.7h2.6M442.8 232.3h2.6M444.0 237.0h2.6M445.3 241.2h2.6M446.6 245.0h2.6M447.8 248.2h2.6M449.1 251.0h2.6M450.4 253.3h2.6M451.7 255.2h2.6M452.9 256.9h2.6M454.2 258.4h2.6M455.5 259.7h2.6M456.7 260.8h2.6" stroke="#cf1f27" stroke-width="0.6" fill="none" />
<path d="M439.0 189.2 L440.3 197.1 L441.5 203.3 L442.8 208.9 L444.1 214.0 L445.3 217.9 L446.6 220.9 L447.9 223.4 L449.1 225.6 L450.4 227.6 L451.7 229.4 L453.0 231.2 L454.2 232.9 L455.5 234.4 L456.8 235.8 L458.0 237.0 L459.3 238.0 L460.6 239.0 L461.8 239.9 L463.1 240.7 L464.4 241.5 L465.6 242.3 L466.9 243.1 L468.2 243.8 L469.4 244.5 L470.7 245.2 L472.0 245.9 L473.2 246.5 L474.5 247.1 L475.8 247.7 L477.1 248.3 L478.3 248.8 L479.6 249.3 L480.9 249.7 L482.1 250.2 L483.4 250.6 L484.7 251.0 L485.9 251.5 L487.2 251.8 L488.5 252.2 L489.7 252.6 L491.0 253.0 L492.3 253.3 L493.5 253.7 L494.8 254.0 L496.1 254.3 L497.3 254.7 L498.6 255.0 L499.9 255.3 L501.1 255.6 L502.4 255.9 L503.7 256.2 L505.0 256.5 L506.2 256.8 L507.5 257.1 L508.8 257.4 L510.0 257.7 L511.3 258.0 L512.6 258.3 L513.8 258.5 L515.1 258.8 L516.4 259.1 L517.6 259.4 L518.9 259.6 L520.2 259.9 L521.4 260.2 L522.7 260.5 L524.0 260.7 L525.2 261.0 L526.5 261.3 L527.8 261.5 L529.1 261.8 L530.3 262.0 L531.6 262.3 L532.9 262.6 L534.1 262.8 L535.4 263.1 L536.7 263.3 L537.9 263.6 L539.2 263.8 L540.5 264.0 L541.7 264.3 L543.0 264.5 L544.3 264.8 L545.5 265.0 L546.8 265.3 L548.1 265.5 L549.3 265.8 L550.6 266.0 L551.9 266.2 L553.2 266.5 L554.4 266.7 L555.7 266.9 L557.0 267.1 L558.2 267.3 L559.5 267.6 L560.8 267.8 L562.0 268.0 L563.3 268.2 L564.6 268.4 L565.8 268.6 L567.1 268.8 L568.4 269.0 L569.6 269.2 L570.9 269.4 L572.2 269.6 L573.4 269.7 L574.7 269.9 L576.0 270.1 L577.2 270.3 L578.5 270.5 L579.8 270.7 L581.1 270.8 L582.3 271.0 L583.6 271.2 L584.9 271.4 L586.1 271.5 L587.4 271.7 L588.7 271.9 L589.9 272.0 L591.2 272.2 L591.2 281.6 L589.9 281.4 L588.7 281.2 L587.4 281.1 L586.1 280.9 L584.9 280.8 L583.6 280.6 L582.3 280.5 L581.1 280.3 L579.8 280.2 L578.5 280.0 L577.2 279.9 L576.0 279.7 L574.7 279.6 L573.4 279.4 L572.2 279.3 L570.9 279.1 L569.6 279.0 L568.4 278.8 L567.1 278.7 L565.8 278.5 L564.6 278.4 L563.3 278.2 L562.0 278.1 L560.8 277.9 L559.5 277.8 L558.2 277.6 L557.0 277.5 L555.7 277.3 L554.4 277.2 L553.2 277.0 L551.9 276.9 L550.6 276.7 L549.3 276.6 L548.1 276.5 L546.8 276.3 L545.5 276.2 L544.3 276.0 L543.0 275.9 L541.7 275.8 L540.5 275.6 L539.2 275.5 L537.9 275.3 L536.7 275.1 L535.4 275.0 L534.1 274.8 L532.9 274.6 L531.6 274.5 L530.3 274.3 L529.1 274.1 L527.8 273.9 L526.5 273.8 L525.2 273.6 L524.0 273.4 L522.7 273.2 L521.4 273.0 L520.2 272.8 L518.9 272.6 L517.6 272.4 L516.4 272.2 L515.1 272.0 L513.8 271.8 L512.6 271.6 L511.3 271.4 L510.0 271.1 L508.8 270.9 L507.5 270.7 L506.2 270.5 L505.0 270.2 L503.7 270.0 L502.4 269.7 L501.1 269.5 L499.9 269.2 L498.6 269.0 L497.3 268.7 L496.1 268.5 L494.8 268.2 L493.5 267.9 L492.3 267.6 L491.0 267.3 L489.7 267.0 L488.5 266.7 L487.2 266.4 L485.9 266.1 L484.7 265.7 L483.4 265.4 L482.1 265.0 L480.9 264.6 L479.6 264.3 L478.3 263.9 L477.1 263.4 L475.8 263.0 L474.5 262.6 L473.2 262.1 L472.0 261.6 L470.7 261.1 L469.4 260.6 L468.2 260.0 L466.9 259.4 L465.6 258.8 L464.4 258.1 L463.1 257.4 L461.8 256.7 L460.6 255.9 L459.3 255.0 L458.0 253.9 L456.8 252.5 L455.5 250.9 L454.2 249.0 L453.0 246.8 L451.7 244.5 L450.4 242.0 L449.1 239.1 L447.9 235.9 L446.6 232.3 L445.3 228.4 L444.1 224.5 L442.8 220.1 L441.5 214.3 L440.3 205.5 L439.0 189.2Z" stroke="none" stroke-width="0" fill="#c2d8ef" />
<path d="M440.3 197.1V205.5M442.8 208.9V220.1M445.3 217.9V228.4M447.9 223.4V235.9M450.4 227.6V242.0M453.0 231.2V246.8M455.5 234.4V250.9M458.0 237.0V253.9M460.6 239.0V255.9M463.1 240.7V257.4M465.6 242.3V258.8M468.2 243.8V260.0M470.7 245.2V261.1M473.2 246.5V262.1M475.8 247.7V263.0M478.3 248.8V263.9M480.9 249.7V264.6M483.4 250.6V265.4M485.9 251.5V266.1M488.5 252.2V266.7M491.0 253.0V267.3M493.5 253.7V267.9M496.1 254.3V268.5M498.6 255.0V269.0M501.1 255.6V269.5M503.7 256.2V270.0M506.2 256.8V270.5M508.8 257.4V270.9M511.3 258.0V271.4M513.8 258.5V271.8M516.4 259.1V272.2M518.9 259.6V272.6M521.4 260.2V273.0M524.0 260.7V273.4M526.5 261.3V273.8M529.1 261.8V274.1M531.6 262.3V274.5M534.1 262.8V274.8M536.7 263.3V275.1M539.2 263.8V275.5M541.7 264.3V275.8M544.3 264.8V276.0M546.8 265.3V276.3M549.3 265.8V276.6M551.9 266.2V276.9M554.4 266.7V277.2M557.0 267.1V277.5M559.5 267.6V277.8M562.0 268.0V278.1M564.6 268.4V278.4M567.1 268.8V278.7M569.6 269.2V279.0M572.2 269.6V279.3M574.7 269.9V279.6M577.2 270.3V279.9M579.8 270.7V280.2M582.3 271.0V280.5M584.9 271.4V280.8M587.4 271.7V281.1M589.9 272.0V281.4" stroke="#a9c6e6" stroke-width="0.8" fill="none" />
<path d="M439.0 189.2 L440.3 197.1 L441.5 203.3 L442.8 208.9 L444.1 214.0 L445.3 217.9 L446.6 220.9 L447.9 223.4 L449.1 225.6 L450.4 227.6 L451.7 229.4 L453.0 231.2 L454.2 232.9 L455.5 234.4 L456.8 235.8 L458.0 237.0 L459.3 238.0 L460.6 239.0 L461.8 239.9 L463.1 240.7 L464.4 241.5 L465.6 242.3 L466.9 243.1 L468.2 243.8 L469.4 244.5 L470.7 245.2 L472.0 245.9 L473.2 246.5 L474.5 247.1 L475.8 247.7 L477.1 248.3 L478.3 248.8 L479.6 249.3 L480.9 249.7 L482.1 250.2 L483.4 250.6 L484.7 251.0 L485.9 251.5 L487.2 251.8 L488.5 252.2 L489.7 252.6 L491.0 253.0 L492.3 253.3 L493.5 253.7 L494.8 254.0 L496.1 254.3 L497.3 254.7 L498.6 255.0 L499.9 255.3 L501.1 255.6 L502.4 255.9 L503.7 256.2 L505.0 256.5 L506.2 256.8 L507.5 257.1 L508.8 257.4 L510.0 257.7 L511.3 258.0 L512.6 258.3 L513.8 258.5 L515.1 258.8 L516.4 259.1 L517.6 259.4 L518.9 259.6 L520.2 259.9 L521.4 260.2 L522.7 260.5 L524.0 260.7 L525.2 261.0 L526.5 261.3 L527.8 261.5 L529.1 261.8 L530.3 262.0 L531.6 262.3 L532.9 262.6 L534.1 262.8 L535.4 263.1 L536.7 263.3 L537.9 263.6 L539.2 263.8 L540.5 264.0 L541.7 264.3 L543.0 264.5 L544.3 264.8 L545.5 265.0 L546.8 265.3 L548.1 265.5 L549.3 265.8 L550.6 266.0 L551.9 266.2 L553.2 266.5 L554.4 266.7 L555.7 266.9 L557.0 267.1 L558.2 267.3 L559.5 267.6 L560.8 267.8 L562.0 268.0 L563.3 268.2 L564.6 268.4 L565.8 268.6 L567.1 268.8 L568.4 269.0 L569.6 269.2 L570.9 269.4 L572.2 269.6 L573.4 269.7 L574.7 269.9 L576.0 270.1 L577.2 270.3 L578.5 270.5 L579.8 270.7 L581.1 270.8 L582.3 271.0 L583.6 271.2 L584.9 271.4 L586.1 271.5 L587.4 271.7 L588.7 271.9 L589.9 272.0 L591.2 272.2" stroke="#8fb2dc" stroke-width="0.5" fill="none" />
<path d="M439.0 189.2 L440.3 205.5 L441.5 214.3 L442.8 220.1 L444.1 224.5 L445.3 228.4 L446.6 232.3 L447.9 235.9 L449.1 239.1 L450.4 242.0 L451.7 244.5 L453.0 246.8 L454.2 249.0 L455.5 250.9 L456.8 252.5 L458.0 253.9 L459.3 255.0 L460.6 255.9 L461.8 256.7 L463.1 257.4 L464.4 258.1 L465.6 258.8 L466.9 259.4 L468.2 260.0 L469.4 260.6 L470.7 261.1 L472.0 261.6 L473.2 262.1 L474.5 262.6 L475.8 263.0 L477.1 263.4 L478.3 263.9 L479.6 264.3 L480.9 264.6 L482.1 265.0 L483.4 265.4 L484.7 265.7 L485.9 266.1 L487.2 266.4 L488.5 266.7 L489.7 267.0 L491.0 267.3 L492.3 267.6 L493.5 267.9 L494.8 268.2 L496.1 268.5 L497.3 268.7 L498.6 269.0 L499.9 269.2 L501.1 269.5 L502.4 269.7 L503.7 270.0 L505.0 270.2 L506.2 270.5 L507.5 270.7 L508.8 270.9 L510.0 271.1 L511.3 271.4 L512.6 271.6 L513.8 271.8 L515.1 272.0 L516.4 272.2 L517.6 272.4 L518.9 272.6 L520.2 272.8 L521.4 273.0 L522.7 273.2 L524.0 273.4 L525.2 273.6 L526.5 273.8 L527.8 273.9 L529.1 274.1 L530.3 274.3 L531.6 274.5 L532.9 274.6 L534.1 274.8 L535.4 275.0 L536.7 275.1 L537.9 275.3 L539.2 275.5 L540.5 275.6 L541.7 275.8 L543.0 275.9 L544.3 276.0 L545.5 276.2 L546.8 276.3 L548.1 276.5 L549.3 276.6 L550.6 276.7 L551.9 276.9 L553.2 277.0 L554.4 277.2 L555.7 277.3 L557.0 277.5 L558.2 277.6 L559.5 277.8 L560.8 277.9 L562.0 278.1 L563.3 278.2 L564.6 278.4 L565.8 278.5 L567.1 278.7 L568.4 278.8 L569.6 279.0 L570.9 279.1 L572.2 279.3 L573.4 279.4 L574.7 279.6 L576.0 279.7 L577.2 279.9 L578.5 280.0 L579.8 280.2 L581.1 280.3 L582.3 280.5 L583.6 280.6 L584.9 280.8 L586.1 280.9 L587.4 281.1 L588.7 281.2 L589.9 281.4 L591.2 281.6" stroke="#8fb2dc" stroke-width="0.5" fill="none" />
<path d="M439.0 197.1h2.6M440.2 203.3h2.6M441.5 208.9h2.6M442.8 214.0h2.6M444.0 217.9h2.6M445.3 220.9h2.6M446.6 223.4h2.6M447.8 225.6h2.6M449.1 227.6h2.6M450.4 229.4h2.6M451.7 231.2h2.6" stroke="#a9c6e6" stroke-width="0.6" fill="none" />
<path d="M439.0 189.2 L440.3 201.2 L441.5 209.3 L442.8 215.9 L444.1 221.4 L445.3 225.4 L446.6 228.4 L447.9 230.7 L449.1 232.8 L450.4 234.7 L451.7 236.5 L453.0 238.3 L454.2 240.0 L455.5 241.6 L456.8 243.0 L458.0 244.2 L459.3 245.3 L460.6 246.2 L461.8 247.0 L463.1 247.8 L464.4 248.6 L465.6 249.3 L466.9 250.0 L468.2 250.7 L469.4 251.3 L470.7 251.9 L472.0 252.5 L473.2 253.1 L474.5 253.6 L475.8 254.1 L477.1 254.6 L478.3 255.1 L479.6 255.5 L480.9 255.9 L482.1 256.4 L483.4 256.8 L484.7 257.1 L485.9 257.5 L487.2 257.9 L488.5 258.2 L489.7 258.6 L491.0 258.9 L492.3 259.2 L493.5 259.6 L494.8 259.9 L496.1 260.2 L497.3 260.5 L498.6 260.8 L499.9 261.0 L501.1 261.3 L502.4 261.6 L503.7 261.9 L505.0 262.1 L506.2 262.4 L507.5 262.7 L508.8 262.9 L510.0 263.2 L511.3 263.4 L512.6 263.7 L513.8 263.9 L515.1 264.1 L516.4 264.4 L517.6 264.6 L518.9 264.8 L520.2 265.1 L521.4 265.3 L522.7 265.5 L524.0 265.7 L525.2 265.9 L526.5 266.1 L527.8 266.3 L529.1 266.6 L530.3 266.8 L531.6 267.0 L532.9 267.2 L534.1 267.4 L535.4 267.6 L536.7 267.8 L537.9 268.0 L539.2 268.2 L540.5 268.4 L541.7 268.6 L543.0 268.8 L544.3 269.0 L545.5 269.2 L546.8 269.4 L548.1 269.6 L549.3 269.8 L550.6 270.0 L551.9 270.2 L553.2 270.4 L554.4 270.6 L555.7 270.8 L557.0 271.0 L558.2 271.2 L559.5 271.4 L560.8 271.6 L562.0 271.8 L563.3 272.0 L564.6 272.2 L565.8 272.4 L567.1 272.6 L568.4 272.8 L569.6 273.0 L570.9 273.2 L572.2 273.4 L573.4 273.6 L574.7 273.8 L576.0 274.0 L577.2 274.2 L578.5 274.4 L579.8 274.6 L581.1 274.8 L582.3 275.0 L583.6 275.2 L584.9 275.4 L586.1 275.6 L587.4 275.8 L588.7 276.0 L589.9 276.2 L591.2 276.4" stroke="#7a78b8" stroke-width="0.7" fill="none" />
<path d="M439.0 189.2 L440.3 203.9 L441.5 213.3 L442.8 221.0 L444.1 227.1 L445.3 231.5 L446.6 234.5 L447.9 236.9 L449.1 239.0 L450.4 240.8 L451.7 242.5 L453.0 244.2 L454.2 245.7 L455.5 247.1 L456.8 248.4 L458.0 249.6 L459.3 250.6 L460.6 251.6 L461.8 252.5 L463.1 253.3 L464.4 254.1 L465.6 254.8 L466.9 255.4 L468.2 256.0 L469.4 256.6 L470.7 257.2 L472.0 257.7 L473.2 258.2 L474.5 258.7 L475.8 259.1 L477.1 259.6 L478.3 260.1 L479.6 260.5 L480.9 261.0 L482.1 261.4 L483.4 261.9 L484.7 262.3 L485.9 262.7 L487.2 263.1 L488.5 263.5 L489.7 263.9 L491.0 264.3 L492.3 264.7 L493.5 265.0 L494.8 265.4 L496.1 265.7 L497.3 266.0 L498.6 266.4 L499.9 266.7 L501.1 267.0 L502.4 267.3 L503.7 267.6 L505.0 267.8 L506.2 268.1 L507.5 268.4 L508.8 268.6 L510.0 268.9 L511.3 269.1 L512.6 269.3 L513.8 269.6 L515.1 269.8 L516.4 270.0 L517.6 270.2 L518.9 270.4 L520.2 270.6 L521.4 270.7 L522.7 270.9 L524.0 271.1 L525.2 271.2 L526.5 271.4 L527.8 271.6 L529.1 271.7 L530.3 271.9 L531.6 272.0 L532.9 272.2 L534.1 272.3 L535.4 272.5 L536.7 272.6 L537.9 272.8 L539.2 272.9 L540.5 273.1 L541.7 273.3 L543.0 273.4 L544.3 273.6 L545.5 273.7 L546.8 273.9 L548.1 274.1 L549.3 274.2 L550.6 274.4 L551.9 274.5 L553.2 274.7 L554.4 274.9 L555.7 275.0 L557.0 275.2 L558.2 275.4 L559.5 275.5 L560.8 275.7 L562.0 275.9 L563.3 276.0 L564.6 276.2 L565.8 276.4 L567.1 276.6 L568.4 276.7 L569.6 276.9 L570.9 277.1 L572.2 277.2 L573.4 277.4 L574.7 277.6 L576.0 277.7 L577.2 277.9 L578.5 278.1 L579.8 278.2 L581.1 278.4 L582.3 278.6 L583.6 278.7 L584.9 278.9 L586.1 279.1 L587.4 279.2 L588.7 279.4 L589.9 279.6 L591.2 279.7" stroke="#b04a6a" stroke-width="0.7" fill="none" />
<line x1="439.00" y1="188.40" x2="439.00" y2="290.60" stroke="#111" stroke-width="1.65" />
<line x1="438.20" y1="289.80" x2="592.00" y2="289.80" stroke="#111" stroke-width="1.65" />
<line x1="434.80" y1="289.80" x2="439.00" y2="289.80" stroke="#111" stroke-width="1.2" />
<text x="433.40" y="292.30" font-size="6.9" text-anchor="end">0.0</text>
<line x1="434.80" y1="269.68" x2="439.00" y2="269.68" stroke="#111" stroke-width="1.2" />
<text x="433.40" y="272.18" font-size="6.9" text-anchor="end">0.2</text>
<line x1="434.80" y1="249.56" x2="439.00" y2="249.56" stroke="#111" stroke-width="1.2" />
<text x="433.40" y="252.06" font-size="6.9" text-anchor="end">0.4</text>
<line x1="434.80" y1="229.44" x2="439.00" y2="229.44" stroke="#111" stroke-width="1.2" />
<text x="433.40" y="231.94" font-size="6.9" text-anchor="end">0.6</text>
<line x1="434.80" y1="209.32" x2="439.00" y2="209.32" stroke="#111" stroke-width="1.2" />
<text x="433.40" y="211.82" font-size="6.9" text-anchor="end">0.8</text>
<line x1="434.80" y1="189.20" x2="439.00" y2="189.20" stroke="#111" stroke-width="1.2" />
<text x="433.40" y="191.70" font-size="6.9" text-anchor="end">1.0</text>
<line x1="439.00" y1="289.80" x2="439.00" y2="293.50" stroke="#111" stroke-width="1.2" />
<text x="439.00" y="301.20" font-size="6.9" text-anchor="middle">0</text>
<line x1="477.05" y1="289.80" x2="477.05" y2="293.50" stroke="#111" stroke-width="1.2" />
<text x="477.05" y="301.20" font-size="6.9" text-anchor="middle">30</text>
<line x1="515.10" y1="289.80" x2="515.10" y2="293.50" stroke="#111" stroke-width="1.2" />
<text x="515.10" y="301.20" font-size="6.9" text-anchor="middle">60</text>
<line x1="553.15" y1="289.80" x2="553.15" y2="293.50" stroke="#111" stroke-width="1.2" />
<text x="553.15" y="301.20" font-size="6.9" text-anchor="middle">90</text>
<line x1="591.20" y1="289.80" x2="591.20" y2="293.50" stroke="#111" stroke-width="1.2" />
<text x="591.20" y="301.20" font-size="6.9" text-anchor="middle">120</text>
<text x="419.20" y="237.90" font-size="9.5" text-anchor="middle" transform="rotate(-90 419.20 237.90)">Correlation coefficient</text>
<text x="513.30" y="312.70" font-size="9.53" text-anchor="middle">Time interval (s)</text>
<line x1="521.80" y1="195.30" x2="533.10" y2="195.30" stroke="#a9c9e8" stroke-width="0.9" />
<line x1="521.80" y1="208.50" x2="533.10" y2="208.50" stroke="#d2232a" stroke-width="0.7" />
<line x1="527.45" y1="207.70" x2="527.45" y2="209.30" stroke="#a0141a" stroke-width="0.7" />
<text x="536.20" y="198.05" font-size="7.55">WT</text>
<text x="536.20" y="211.25" font-size="7.55">WT+ adenine</text>
<text x="581.40" y="212.30" font-size="11" font-weight="bold">**</text>
<text x="1.10" y="336.70" font-size="12.5">G</text>
<path d="M36.7 337.1 L38.0 340.8 L39.2 344.1 L40.5 347.1 L41.7 350.1 L43.0 352.6 L44.2 354.8 L45.5 356.8 L46.7 358.7 L48.0 360.4 L49.2 362.0 L50.5 363.4 L51.7 364.9 L53.0 366.2 L54.2 367.4 L55.5 368.6 L56.7 369.7 L58.0 370.7 L59.2 371.7 L60.5 372.6 L61.7 373.4 L63.0 374.2 L64.2 375.0 L65.5 375.8 L66.7 376.5 L68.0 377.2 L69.2 377.9 L70.5 378.6 L71.7 379.3 L73.0 379.9 L74.2 380.5 L75.5 381.2 L76.7 381.7 L78.0 382.3 L79.2 382.9 L80.5 383.5 L81.7 384.0 L83.0 384.6 L84.2 385.1 L85.5 385.6 L86.7 386.1 L88.0 386.6 L89.2 387.1 L90.5 387.6 L91.7 388.0 L93.0 388.5 L94.2 388.9 L95.5 389.4 L96.7 389.8 L98.0 390.2 L99.2 390.6 L100.5 391.1 L101.7 391.5 L103.0 391.9 L104.2 392.2 L105.5 392.6 L106.7 393.0 L108.0 393.4 L109.2 393.7 L110.5 394.1 L111.7 394.5 L113.0 394.8 L114.2 395.1 L115.5 395.5 L116.7 395.8 L118.0 396.2 L119.2 396.5 L120.5 396.8 L121.7 397.1 L123.0 397.5 L124.2 397.8 L125.5 398.1 L126.7 398.4 L128.0 398.7 L129.2 399.0 L130.4 399.3 L131.7 399.6 L132.9 399.9 L134.2 400.2 L135.4 400.4 L136.7 400.7 L137.9 401.0 L139.2 401.3 L140.4 401.5 L141.7 401.8 L142.9 402.1 L144.2 402.3 L145.4 402.6 L146.7 402.8 L147.9 403.1 L149.2 403.3 L150.4 403.5 L151.7 403.8 L152.9 404.0 L154.2 404.2 L155.4 404.5 L156.7 404.7 L157.9 404.9 L159.2 405.1 L160.4 405.4 L161.7 405.6 L162.9 405.8 L164.2 406.0 L165.4 406.2 L166.7 406.4 L167.9 406.6 L169.2 406.8 L170.4 407.0 L171.7 407.2 L172.9 407.4 L174.2 407.6 L175.4 407.8 L176.7 408.0 L177.9 408.2 L179.2 408.4 L180.4 408.6 L181.7 408.7 L182.9 408.9 L184.2 409.1 L185.4 409.3 L186.7 409.5 L186.7 417.2 L185.4 417.2 L184.2 417.1 L182.9 417.1 L181.7 417.0 L180.4 417.0 L179.2 416.9 L177.9 416.8 L176.7 416.8 L175.4 416.7 L174.2 416.6 L172.9 416.5 L171.7 416.4 L170.4 416.3 L169.2 416.2 L167.9 416.2 L166.7 416.0 L165.4 415.9 L164.2 415.8 L162.9 415.7 L161.7 415.6 L160.4 415.5 L159.2 415.4 L157.9 415.2 L156.7 415.1 L155.4 415.0 L154.2 414.8 L152.9 414.7 L151.7 414.5 L150.4 414.4 L149.2 414.2 L147.9 414.1 L146.7 413.9 L145.4 413.7 L144.2 413.5 L142.9 413.3 L141.7 413.1 L140.4 412.8 L139.2 412.6 L137.9 412.3 L136.7 412.0 L135.4 411.7 L134.2 411.4 L132.9 411.1 L131.7 410.8 L130.4 410.5 L129.2 410.1 L128.0 409.8 L126.7 409.4 L125.5 409.1 L124.2 408.7 L123.0 408.3 L121.7 408.0 L120.5 407.6 L119.2 407.2 L118.0 406.8 L116.7 406.5 L115.5 406.1 L114.2 405.7 L113.0 405.3 L111.7 405.0 L110.5 404.6 L109.2 404.3 L108.0 403.9 L106.7 403.6 L105.5 403.2 L104.2 402.8 L103.0 402.4 L101.7 402.1 L100.5 401.7 L99.2 401.3 L98.0 400.9 L96.7 400.5 L95.5 400.1 L94.2 399.7 L93.0 399.3 L91.7 398.8 L90.5 398.4 L89.2 397.9 L88.0 397.5 L86.7 397.0 L85.5 396.6 L84.2 396.1 L83.0 395.6 L81.7 395.1 L80.5 394.6 L79.2 394.0 L78.0 393.5 L76.7 392.9 L75.5 392.4 L74.2 391.8 L73.0 391.2 L71.7 390.5 L70.5 389.9 L69.2 389.3 L68.0 388.6 L66.7 387.9 L65.5 387.2 L64.2 386.4 L63.0 385.7 L61.7 384.9 L60.5 384.0 L59.2 383.1 L58.0 382.1 L56.7 381.0 L55.5 379.8 L54.2 378.5 L53.0 377.0 L51.7 375.4 L50.5 373.7 L49.2 371.9 L48.0 370.1 L46.7 368.1 L45.5 366.0 L44.2 363.7 L43.0 361.0 L41.7 357.6 L40.5 353.6 L39.2 349.0 L38.0 343.8 L36.7 337.1Z" stroke="none" stroke-width="0" fill="#c2d8ef" />
<path d="M38.0 340.8V343.8M40.5 347.1V353.6M43.0 352.6V361.0M45.5 356.8V366.0M48.0 360.4V370.1M50.5 363.4V373.7M53.0 366.2V377.0M55.5 368.6V379.8M58.0 370.7V382.1M60.5 372.6V384.0M63.0 374.2V385.7M65.5 375.8V387.2M68.0 377.2V388.6M70.5 378.6V389.9M73.0 379.9V391.2M75.5 381.2V392.4M78.0 382.3V393.5M80.5 383.5V394.6M83.0 384.6V395.6M85.5 385.6V396.6M88.0 386.6V397.5M90.5 387.6V398.4M93.0 388.5V399.3M95.5 389.4V400.1M98.0 390.2V400.9M100.5 391.1V401.7M103.0 391.9V402.4M105.5 392.6V403.2M108.0 393.4V403.9M110.5 394.1V404.6M113.0 394.8V405.3M115.5 395.5V406.1M118.0 396.2V406.8M120.5 396.8V407.6M123.0 397.5V408.3M125.5 398.1V409.1M128.0 398.7V409.8M130.4 399.3V410.5M132.9 399.9V411.1M135.4 400.4V411.7M137.9 401.0V412.3M140.4 401.5V412.8M142.9 402.1V413.3M145.4 402.6V413.7M147.9 403.1V414.1M150.4 403.5V414.4M152.9 404.0V414.7M155.4 404.5V415.0M157.9 404.9V415.2M160.4 405.4V415.5M162.9 405.8V415.7M165.4 406.2V415.9M167.9 406.6V416.2M170.4 407.0V416.3M172.9 407.4V416.5M175.4 407.8V416.7M177.9 408.2V416.8M180.4 408.6V417.0M182.9 408.9V417.1M185.4 409.3V417.2" stroke="#a9c6e6" stroke-width="0.8" fill="none" />
<path d="M36.7 337.1 L38.0 340.8 L39.2 344.1 L40.5 347.1 L41.7 350.1 L43.0 352.6 L44.2 354.8 L45.5 356.8 L46.7 358.7 L48.0 360.4 L49.2 362.0 L50.5 363.4 L51.7 364.9 L53.0 366.2 L54.2 367.4 L55.5 368.6 L56.7 369.7 L58.0 370.7 L59.2 371.7 L60.5 372.6 L61.7 373.4 L63.0 374.2 L64.2 375.0 L65.5 375.8 L66.7 376.5 L68.0 377.2 L69.2 377.9 L70.5 378.6 L71.7 379.3 L73.0 379.9 L74.2 380.5 L75.5 381.2 L76.7 381.7 L78.0 382.3 L79.2 382.9 L80.5 383.5 L81.7 384.0 L83.0 384.6 L84.2 385.1 L85.5 385.6 L86.7 386.1 L88.0 386.6 L89.2 387.1 L90.5 387.6 L91.7 388.0 L93.0 388.5 L94.2 388.9 L95.5 389.4 L96.7 389.8 L98.0 390.2 L99.2 390.6 L100.5 391.1 L101.7 391.5 L103.0 391.9 L104.2 392.2 L105.5 392.6 L106.7 393.0 L108.0 393.4 L109.2 393.7 L110.5 394.1 L111.7 394.5 L113.0 394.8 L114.2 395.1 L115.5 395.5 L116.7 395.8 L118.0 396.2 L119.2 396.5 L120.5 396.8 L121.7 397.1 L123.0 397.5 L124.2 397.8 L125.5 398.1 L126.7 398.4 L128.0 398.7 L129.2 399.0 L130.4 399.3 L131.7 399.6 L132.9 399.9 L134.2 400.2 L135.4 400.4 L136.7 400.7 L137.9 401.0 L139.2 401.3 L140.4 401.5 L141.7 401.8 L142.9 402.1 L144.2 402.3 L145.4 402.6 L146.7 402.8 L147.9 403.1 L149.2 403.3 L150.4 403.5 L151.7 403.8 L152.9 404.0 L154.2 404.2 L155.4 404.5 L156.7 404.7 L157.9 404.9 L159.2 405.1 L160.4 405.4 L161.7 405.6 L162.9 405.8 L164.2 406.0 L165.4 406.2 L166.7 406.4 L167.9 406.6 L169.2 406.8 L170.4 407.0 L171.7 407.2 L172.9 407.4 L174.2 407.6 L175.4 407.8 L176.7 408.0 L177.9 408.2 L179.2 408.4 L180.4 408.6 L181.7 408.7 L182.9 408.9 L184.2 409.1 L185.4 409.3 L186.7 409.5" stroke="#8fb2dc" stroke-width="0.5" fill="none" />
<path d="M36.7 337.1 L38.0 343.8 L39.2 349.0 L40.5 353.6 L41.7 357.6 L43.0 361.0 L44.2 363.7 L45.5 366.0 L46.7 368.1 L48.0 370.1 L49.2 371.9 L50.5 373.7 L51.7 375.4 L53.0 377.0 L54.2 378.5 L55.5 379.8 L56.7 381.0 L58.0 382.1 L59.2 383.1 L60.5 384.0 L61.7 384.9 L63.0 385.7 L64.2 386.4 L65.5 387.2 L66.7 387.9 L68.0 388.6 L69.2 389.3 L70.5 389.9 L71.7 390.5 L73.0 391.2 L74.2 391.8 L75.5 392.4 L76.7 392.9 L78.0 393.5 L79.2 394.0 L80.5 394.6 L81.7 395.1 L83.0 395.6 L84.2 396.1 L85.5 396.6 L86.7 397.0 L88.0 397.5 L89.2 397.9 L90.5 398.4 L91.7 398.8 L93.0 399.3 L94.2 399.7 L95.5 400.1 L96.7 400.5 L98.0 400.9 L99.2 401.3 L100.5 401.7 L101.7 402.1 L103.0 402.4 L104.2 402.8 L105.5 403.2 L106.7 403.6 L108.0 403.9 L109.2 404.3 L110.5 404.6 L111.7 405.0 L113.0 405.3 L114.2 405.7 L115.5 406.1 L116.7 406.5 L118.0 406.8 L119.2 407.2 L120.5 407.6 L121.7 408.0 L123.0 408.3 L124.2 408.7 L125.5 409.1 L126.7 409.4 L128.0 409.8 L129.2 410.1 L130.4 410.5 L131.7 410.8 L132.9 411.1 L134.2 411.4 L135.4 411.7 L136.7 412.0 L137.9 412.3 L139.2 412.6 L140.4 412.8 L141.7 413.1 L142.9 413.3 L144.2 413.5 L145.4 413.7 L146.7 413.9 L147.9 414.1 L149.2 414.2 L150.4 414.4 L151.7 414.5 L152.9 414.7 L154.2 414.8 L155.4 415.0 L156.7 415.1 L157.9 415.2 L159.2 415.4 L160.4 415.5 L161.7 415.6 L162.9 415.7 L164.2 415.8 L165.4 415.9 L166.7 416.0 L167.9 416.2 L169.2 416.2 L170.4 416.3 L171.7 416.4 L172.9 416.5 L174.2 416.6 L175.4 416.7 L176.7 416.8 L177.9 416.8 L179.2 416.9 L180.4 417.0 L181.7 417.0 L182.9 417.1 L184.2 417.1 L185.4 417.2 L186.7 417.2" stroke="#8fb2dc" stroke-width="0.5" fill="none" />
<path d="M36.7 340.8h2.6M37.9 344.1h2.6M39.2 347.1h2.6M40.4 350.1h2.6M41.7 352.6h2.6M42.9 354.8h2.6M44.2 356.8h2.6M45.4 358.7h2.6M46.7 360.4h2.6M47.9 362.0h2.6M49.2 363.4h2.6" stroke="#a9c6e6" stroke-width="0.6" fill="none" />
<path d="M36.7 337.1 L38.0 342.3 L39.2 346.5 L40.5 350.4 L41.7 353.9 L43.0 356.8 L44.2 359.2 L45.5 361.4 L46.7 363.4 L48.0 365.2 L49.2 366.9 L50.5 368.6 L51.7 370.1 L53.0 371.6 L54.2 373.0 L55.5 374.2 L56.7 375.4 L58.0 376.4 L59.2 377.4 L60.5 378.3 L61.7 379.1 L63.0 380.0 L64.2 380.7 L65.5 381.5 L66.7 382.2 L68.0 382.9 L69.2 383.6 L70.5 384.3 L71.7 384.9 L73.0 385.5 L74.2 386.2 L75.5 386.8 L76.7 387.3 L78.0 387.9 L79.2 388.5 L80.5 389.0 L81.7 389.6 L83.0 390.1 L84.2 390.6 L85.5 391.1 L86.7 391.6 L88.0 392.0 L89.2 392.5 L90.5 393.0 L91.7 393.4 L93.0 393.9 L94.2 394.3 L95.5 394.7 L96.7 395.1 L98.0 395.6 L99.2 396.0 L100.5 396.4 L101.7 396.8 L103.0 397.2 L104.2 397.5 L105.5 397.9 L106.7 398.3 L108.0 398.7 L109.2 399.0 L110.5 399.4 L111.7 399.7 L113.0 400.1 L114.2 400.4 L115.5 400.8 L116.7 401.1 L118.0 401.5 L119.2 401.9 L120.5 402.2 L121.7 402.6 L123.0 402.9 L124.2 403.2 L125.5 403.6 L126.7 403.9 L128.0 404.2 L129.2 404.6 L130.4 404.9 L131.7 405.2 L132.9 405.5 L134.2 405.8 L135.4 406.1 L136.7 406.4 L137.9 406.7 L139.2 406.9 L140.4 407.2 L141.7 407.4 L142.9 407.7 L144.2 407.9 L145.4 408.1 L146.7 408.4 L147.9 408.6 L149.2 408.8 L150.4 409.0 L151.7 409.2 L152.9 409.3 L154.2 409.5 L155.4 409.7 L156.7 409.9 L157.9 410.1 L159.2 410.2 L160.4 410.4 L161.7 410.6 L162.9 410.8 L164.2 410.9 L165.4 411.1 L166.7 411.2 L167.9 411.4 L169.2 411.5 L170.4 411.7 L171.7 411.8 L172.9 412.0 L174.2 412.1 L175.4 412.2 L176.7 412.4 L177.9 412.5 L179.2 412.6 L180.4 412.8 L181.7 412.9 L182.9 413.0 L184.2 413.1 L185.4 413.2 L186.7 413.3" stroke="#dfeaf7" stroke-width="0.6" fill="none" />
<path d="M36.7 337.1 L38.0 344.4 L39.2 350.0 L40.5 355.0 L41.7 359.4 L43.0 362.9 L44.2 365.9 L45.5 368.5 L46.7 370.8 L48.0 372.9 L49.2 374.9 L50.5 376.8 L51.7 378.6 L53.0 380.3 L54.2 381.8 L55.5 383.1 L56.7 384.3 L58.0 385.3 L59.2 386.2 L60.5 387.1 L61.7 387.8 L63.0 388.6 L64.2 389.3 L65.5 390.0 L66.7 390.6 L68.0 391.2 L69.2 391.8 L70.5 392.4 L71.7 393.0 L73.0 393.5 L74.2 394.1 L75.5 394.6 L76.7 395.1 L78.0 395.6 L79.2 396.1 L80.5 396.5 L81.7 397.0 L83.0 397.4 L84.2 397.8 L85.5 398.3 L86.7 398.7 L88.0 399.1 L89.2 399.4 L90.5 399.8 L91.7 400.2 L93.0 400.6 L94.2 400.9 L95.5 401.3 L96.7 401.7 L98.0 402.0 L99.2 402.4 L100.5 402.7 L101.7 403.0 L103.0 403.4 L104.2 403.7 L105.5 404.1 L106.7 404.4 L108.0 404.7 L109.2 405.0 L110.5 405.4 L111.7 405.7 L113.0 406.0 L114.2 406.4 L115.5 406.7 L116.7 407.0 L118.0 407.4 L119.2 407.8 L120.5 408.1 L121.7 408.5 L123.0 408.8 L124.2 409.2 L125.5 409.5 L126.7 409.9 L128.0 410.2 L129.2 410.5 L130.4 410.9 L131.7 411.2 L132.9 411.5 L134.2 411.8 L135.4 412.1 L136.7 412.4 L137.9 412.7 L139.2 412.9 L140.4 413.2 L141.7 413.4 L142.9 413.6 L144.2 413.9 L145.4 414.1 L146.7 414.3 L147.9 414.5 L149.2 414.6 L150.4 414.8 L151.7 415.0 L152.9 415.1 L154.2 415.3 L155.4 415.4 L156.7 415.6 L157.9 415.7 L159.2 415.8 L160.4 416.0 L161.7 416.1 L162.9 416.2 L164.2 416.4 L165.4 416.5 L166.7 416.6 L167.9 416.7 L169.2 416.8 L170.4 416.9 L171.7 417.0 L172.9 417.1 L174.2 417.2 L175.4 417.3 L176.7 417.4 L177.9 417.5 L179.2 417.6 L180.4 417.7 L181.7 417.7 L182.9 417.8 L184.2 417.9 L185.4 417.9 L186.7 418.0 L186.7 425.9 L185.4 425.8 L184.2 425.7 L182.9 425.6 L181.7 425.5 L180.4 425.3 L179.2 425.2 L177.9 425.1 L176.7 425.0 L175.4 424.9 L174.2 424.8 L172.9 424.7 L171.7 424.5 L170.4 424.4 L169.2 424.3 L167.9 424.2 L166.7 424.0 L165.4 423.9 L164.2 423.8 L162.9 423.6 L161.7 423.5 L160.4 423.4 L159.2 423.2 L157.9 423.1 L156.7 422.9 L155.4 422.8 L154.2 422.6 L152.9 422.5 L151.7 422.3 L150.4 422.2 L149.2 422.0 L147.9 421.8 L146.7 421.6 L145.4 421.5 L144.2 421.3 L142.9 421.1 L141.7 420.9 L140.4 420.7 L139.2 420.5 L137.9 420.3 L136.7 420.1 L135.4 419.8 L134.2 419.6 L132.9 419.4 L131.7 419.2 L130.4 418.9 L129.2 418.7 L128.0 418.4 L126.7 418.2 L125.5 417.9 L124.2 417.7 L123.0 417.4 L121.7 417.2 L120.5 416.9 L119.2 416.6 L118.0 416.4 L116.7 416.1 L115.5 415.8 L114.2 415.6 L113.0 415.3 L111.7 415.0 L110.5 414.8 L109.2 414.5 L108.0 414.2 L106.7 414.0 L105.5 413.7 L104.2 413.4 L103.0 413.1 L101.7 412.9 L100.5 412.6 L99.2 412.3 L98.0 412.0 L96.7 411.7 L95.5 411.4 L94.2 411.1 L93.0 410.8 L91.7 410.5 L90.5 410.2 L89.2 409.9 L88.0 409.5 L86.7 409.2 L85.5 408.8 L84.2 408.5 L83.0 408.1 L81.7 407.7 L80.5 407.3 L79.2 406.9 L78.0 406.4 L76.7 406.0 L75.5 405.5 L74.2 405.0 L73.0 404.5 L71.7 403.9 L70.5 403.3 L69.2 402.7 L68.0 402.1 L66.7 401.4 L65.5 400.7 L64.2 400.0 L63.0 399.2 L61.7 398.3 L60.5 397.4 L59.2 396.5 L58.0 395.5 L56.7 394.4 L55.5 393.2 L54.2 391.8 L53.0 390.3 L51.7 388.6 L50.5 386.7 L49.2 384.8 L48.0 382.8 L46.7 380.7 L45.5 378.3 L44.2 375.6 L43.0 372.4 L41.7 368.4 L40.5 363.2 L39.2 357.0 L38.0 349.1 L36.7 337.1Z" stroke="none" stroke-width="0" fill="#e8585c" />
<path d="M38.0 344.4V349.1M40.5 355.0V363.2M43.0 362.9V372.4M45.5 368.5V378.3M48.0 372.9V382.8M50.5 376.8V386.7M53.0 380.3V390.3M55.5 383.1V393.2M58.0 385.3V395.5M60.5 387.1V397.4M63.0 388.6V399.2M65.5 390.0V400.7M68.0 391.2V402.1M70.5 392.4V403.3M73.0 393.5V404.5M75.5 394.6V405.5M78.0 395.6V406.4M80.5 396.5V407.3M83.0 397.4V408.1M85.5 398.3V408.8M88.0 399.1V409.5M90.5 399.8V410.2M93.0 400.6V410.8M95.5 401.3V411.4M98.0 402.0V412.0M100.5 402.7V412.6M103.0 403.4V413.1M105.5 404.1V413.7M108.0 404.7V414.2M110.5 405.4V414.8M113.0 406.0V415.3M115.5 406.7V415.8M118.0 407.4V416.4M120.5 408.1V416.9M123.0 408.8V417.4M125.5 409.5V417.9M128.0 410.2V418.4M130.4 410.9V418.9M132.9 411.5V419.4M135.4 412.1V419.8M137.9 412.7V420.3M140.4 413.2V420.7M142.9 413.6V421.1M145.4 414.1V421.5M147.9 414.5V421.8M150.4 414.8V422.2M152.9 415.1V422.5M155.4 415.4V422.8M157.9 415.7V423.1M160.4 416.0V423.4M162.9 416.2V423.6M165.4 416.5V423.9M167.9 416.7V424.2M170.4 416.9V424.4M172.9 417.1V424.7M175.4 417.3V424.9M177.9 417.5V425.1M180.4 417.7V425.3M182.9 417.8V425.6M185.4 417.9V425.8" stroke="#cf1f27" stroke-width="0.8" fill="none" />
<path d="M36.7 337.1 L38.0 344.4 L39.2 350.0 L40.5 355.0 L41.7 359.4 L43.0 362.9 L44.2 365.9 L45.5 368.5 L46.7 370.8 L48.0 372.9 L49.2 374.9 L50.5 376.8 L51.7 378.6 L53.0 380.3 L54.2 381.8 L55.5 383.1 L56.7 384.3 L58.0 385.3 L59.2 386.2 L60.5 387.1 L61.7 387.8 L63.0 388.6 L64.2 389.3 L65.5 390.0 L66.7 390.6 L68.0 391.2 L69.2 391.8 L70.5 392.4 L71.7 393.0 L73.0 393.5 L74.2 394.1 L75.5 394.6 L76.7 395.1 L78.0 395.6 L79.2 396.1 L80.5 396.5 L81.7 397.0 L83.0 397.4 L84.2 397.8 L85.5 398.3 L86.7 398.7 L88.0 399.1 L89.2 399.4 L90.5 399.8 L91.7 400.2 L93.0 400.6 L94.2 400.9 L95.5 401.3 L96.7 401.7 L98.0 402.0 L99.2 402.4 L100.5 402.7 L101.7 403.0 L103.0 403.4 L104.2 403.7 L105.5 404.1 L106.7 404.4 L108.0 404.7 L109.2 405.0 L110.5 405.4 L111.7 405.7 L113.0 406.0 L114.2 406.4 L115.5 406.7 L116.7 407.0 L118.0 407.4 L119.2 407.8 L120.5 408.1 L121.7 408.5 L123.0 408.8 L124.2 409.2 L125.5 409.5 L126.7 409.9 L128.0 410.2 L129.2 410.5 L130.4 410.9 L131.7 411.2 L132.9 411.5 L134.2 411.8 L135.4 412.1 L136.7 412.4 L137.9 412.7 L139.2 412.9 L140.4 413.2 L141.7 413.4 L142.9 413.6 L144.2 413.9 L145.4 414.1 L146.7 414.3 L147.9 414.5 L149.2 414.6 L150.4 414.8 L151.7 415.0 L152.9 415.1 L154.2 415.3 L155.4 415.4 L156.7 415.6 L157.9 415.7 L159.2 415.8 L160.4 416.0 L161.7 416.1 L162.9 416.2 L164.2 416.4 L165.4 416.5 L166.7 416.6 L167.9 416.7 L169.2 416.8 L170.4 416.9 L171.7 417.0 L172.9 417.1 L174.2 417.2 L175.4 417.3 L176.7 417.4 L177.9 417.5 L179.2 417.6 L180.4 417.7 L181.7 417.7 L182.9 417.8 L184.2 417.9 L185.4 417.9 L186.7 418.0" stroke="#cf1f27" stroke-width="0.5" fill="none" />
<path d="M36.7 337.1 L38.0 349.1 L39.2 357.0 L40.5 363.2 L41.7 368.4 L43.0 372.4 L44.2 375.6 L45.5 378.3 L46.7 380.7 L48.0 382.8 L49.2 384.8 L50.5 386.7 L51.7 388.6 L53.0 390.3 L54.2 391.8 L55.5 393.2 L56.7 394.4 L58.0 395.5 L59.2 396.5 L60.5 397.4 L61.7 398.3 L63.0 399.2 L64.2 400.0 L65.5 400.7 L66.7 401.4 L68.0 402.1 L69.2 402.7 L70.5 403.3 L71.7 403.9 L73.0 404.5 L74.2 405.0 L75.5 405.5 L76.7 406.0 L78.0 406.4 L79.2 406.9 L80.5 407.3 L81.7 407.7 L83.0 408.1 L84.2 408.5 L85.5 408.8 L86.7 409.2 L88.0 409.5 L89.2 409.9 L90.5 410.2 L91.7 410.5 L93.0 410.8 L94.2 411.1 L95.5 411.4 L96.7 411.7 L98.0 412.0 L99.2 412.3 L100.5 412.6 L101.7 412.9 L103.0 413.1 L104.2 413.4 L105.5 413.7 L106.7 414.0 L108.0 414.2 L109.2 414.5 L110.5 414.8 L111.7 415.0 L113.0 415.3 L114.2 415.6 L115.5 415.8 L116.7 416.1 L118.0 416.4 L119.2 416.6 L120.5 416.9 L121.7 417.2 L123.0 417.4 L124.2 417.7 L125.5 417.9 L126.7 418.2 L128.0 418.4 L129.2 418.7 L130.4 418.9 L131.7 419.2 L132.9 419.4 L134.2 419.6 L135.4 419.8 L136.7 420.1 L137.9 420.3 L139.2 420.5 L140.4 420.7 L141.7 420.9 L142.9 421.1 L144.2 421.3 L145.4 421.5 L146.7 421.6 L147.9 421.8 L149.2 422.0 L150.4 422.2 L151.7 422.3 L152.9 422.5 L154.2 422.6 L155.4 422.8 L156.7 422.9 L157.9 423.1 L159.2 423.2 L160.4 423.4 L161.7 423.5 L162.9 423.6 L164.2 423.8 L165.4 423.9 L166.7 424.0 L167.9 424.2 L169.2 424.3 L170.4 424.4 L171.7 424.5 L172.9 424.7 L174.2 424.8 L175.4 424.9 L176.7 425.0 L177.9 425.1 L179.2 425.2 L180.4 425.3 L181.7 425.5 L182.9 425.6 L184.2 425.7 L185.4 425.8 L186.7 425.9" stroke="#cf1f27" stroke-width="0.5" fill="none" />
<path d="M36.7 349.1h2.6M37.9 357.0h2.6M39.2 363.2h2.6M40.4 368.4h2.6M41.7 372.4h2.6M42.9 375.6h2.6M44.2 378.3h2.6M45.4 380.7h2.6M46.7 382.8h2.6M47.9 384.8h2.6M49.2 386.7h2.6M50.4 388.6h2.6M51.7 390.3h2.6M52.9 391.8h2.6M54.2 393.2h2.6" stroke="#cf1f27" stroke-width="0.6" fill="none" />
<path d="M36.7 344.4h2.6M37.9 350.0h2.6M39.2 355.0h2.6M40.4 359.4h2.6M41.7 362.9h2.6M42.9 365.9h2.6M44.2 368.5h2.6M45.4 370.8h2.6M46.7 372.9h2.6" stroke="#cf1f27" stroke-width="0.6" fill="none" />
<path d="M36.7 337.1 L38.0 346.7 L39.2 353.5 L40.5 359.1 L41.7 363.9 L43.0 367.7 L44.2 370.7 L45.5 373.4 L46.7 375.7 L48.0 377.9 L49.2 379.8 L50.5 381.8 L51.7 383.6 L53.0 385.3 L54.2 386.8 L55.5 388.1 L56.7 389.3 L58.0 390.4 L59.2 391.3 L60.5 392.2 L61.7 393.1 L63.0 393.9 L64.2 394.6 L65.5 395.3 L66.7 396.0 L68.0 396.6 L69.2 397.3 L70.5 397.9 L71.7 398.4 L73.0 399.0 L74.2 399.5 L75.5 400.0 L76.7 400.5 L78.0 401.0 L79.2 401.5 L80.5 401.9 L81.7 402.3 L83.0 402.8 L84.2 403.2 L85.5 403.5 L86.7 403.9 L88.0 404.3 L89.2 404.7 L90.5 405.0 L91.7 405.4 L93.0 405.7 L94.2 406.0 L95.5 406.4 L96.7 406.7 L98.0 407.0 L99.2 407.3 L100.5 407.6 L101.7 408.0 L103.0 408.3 L104.2 408.6 L105.5 408.9 L106.7 409.2 L108.0 409.5 L109.2 409.8 L110.5 410.1 L111.7 410.4 L113.0 410.7 L114.2 411.0 L115.5 411.3 L116.7 411.6 L118.0 411.9 L119.2 412.2 L120.5 412.5 L121.7 412.8 L123.0 413.1 L124.2 413.4 L125.5 413.7 L126.7 414.0 L128.0 414.3 L129.2 414.6 L130.4 414.9 L131.7 415.2 L132.9 415.4 L134.2 415.7 L135.4 416.0 L136.7 416.2 L137.9 416.5 L139.2 416.7 L140.4 416.9 L141.7 417.2 L142.9 417.4 L144.2 417.6 L145.4 417.8 L146.7 418.0 L147.9 418.1 L149.2 418.3 L150.4 418.5 L151.7 418.6 L152.9 418.8 L154.2 419.0 L155.4 419.1 L156.7 419.3 L157.9 419.4 L159.2 419.5 L160.4 419.7 L161.7 419.8 L162.9 419.9 L164.2 420.1 L165.4 420.2 L166.7 420.3 L167.9 420.4 L169.2 420.6 L170.4 420.7 L171.7 420.8 L172.9 420.9 L174.2 421.0 L175.4 421.1 L176.7 421.2 L177.9 421.3 L179.2 421.4 L180.4 421.5 L181.7 421.6 L182.9 421.7 L184.2 421.8 L185.4 421.9 L186.7 421.9" stroke="#fbd5d5" stroke-width="0.6" fill="none" />
<line x1="36.70" y1="336.30" x2="36.70" y2="437.30" stroke="#111" stroke-width="1.65" />
<line x1="35.90" y1="436.50" x2="187.50" y2="436.50" stroke="#111" stroke-width="1.65" />
<line x1="32.50" y1="436.50" x2="36.70" y2="436.50" stroke="#111" stroke-width="1.2" />
<text x="31.10" y="439.00" font-size="7.0" text-anchor="end">0.0</text>
<line x1="32.50" y1="416.62" x2="36.70" y2="416.62" stroke="#111" stroke-width="1.2" />
<text x="31.10" y="419.12" font-size="7.0" text-anchor="end">0.2</text>
<line x1="32.50" y1="396.74" x2="36.70" y2="396.74" stroke="#111" stroke-width="1.2" />
<text x="31.10" y="399.24" font-size="7.0" text-anchor="end">0.4</text>
<line x1="32.50" y1="376.86" x2="36.70" y2="376.86" stroke="#111" stroke-width="1.2" />
<text x="31.10" y="379.36" font-size="7.0" text-anchor="end">0.6</text>
<line x1="32.50" y1="356.98" x2="36.70" y2="356.98" stroke="#111" stroke-width="1.2" />
<text x="31.10" y="359.48" font-size="7.0" text-anchor="end">0.8</text>
<line x1="32.50" y1="337.10" x2="36.70" y2="337.10" stroke="#111" stroke-width="1.2" />
<text x="31.10" y="339.60" font-size="7.0" text-anchor="end">1.0</text>
<line x1="36.70" y1="436.50" x2="36.70" y2="440.20" stroke="#111" stroke-width="1.2" />
<text x="36.70" y="448.60" font-size="7.0" text-anchor="middle">0</text>
<line x1="74.20" y1="436.50" x2="74.20" y2="440.20" stroke="#111" stroke-width="1.2" />
<text x="74.20" y="448.60" font-size="7.0" text-anchor="middle">30</text>
<line x1="111.70" y1="436.50" x2="111.70" y2="440.20" stroke="#111" stroke-width="1.2" />
<text x="111.70" y="448.60" font-size="7.0" text-anchor="middle">60</text>
<line x1="149.20" y1="436.50" x2="149.20" y2="440.20" stroke="#111" stroke-width="1.2" />
<text x="149.20" y="448.60" font-size="7.0" text-anchor="middle">90</text>
<line x1="186.70" y1="436.50" x2="186.70" y2="440.20" stroke="#111" stroke-width="1.2" />
<text x="186.70" y="448.60" font-size="7.0" text-anchor="middle">120</text>
<text x="17.10" y="382.90" font-size="9.5" text-anchor="middle" transform="rotate(-90 17.10 382.90)">Correlation coefficient</text>
<text x="112.10" y="462.30" font-size="9.57" text-anchor="middle">Time interval (s)</text>
<line x1="102.50" y1="342.80" x2="114.20" y2="342.80" stroke="#a9c9e8" stroke-width="0.9" />
<line x1="102.50" y1="356.20" x2="114.20" y2="356.20" stroke="#d2232a" stroke-width="0.7" />
<line x1="108.35" y1="355.40" x2="108.35" y2="357.00" stroke="#a0141a" stroke-width="0.7" />
<text x="120.00" y="345.55" font-size="8.2"><tspan font-style="italic">rb10</tspan></text>
<text x="120.00" y="358.95" font-size="8.2"><tspan font-style="italic">rb10</tspan> + adenine</text>
<text x="177.50" y="357.00" font-size="9.5" font-weight="bold">**</text>
<text x="205.20" y="336.30" font-size="12.5">H</text>
<path d="M236.8 337.7 L238.1 344.4 L239.3 349.6 L240.6 354.2 L241.8 358.4 L243.1 361.8 L244.3 364.9 L245.6 367.8 L246.8 370.3 L248.1 372.4 L249.3 374.1 L250.6 375.6 L251.8 376.9 L253.1 378.0 L254.3 378.9 L255.6 379.8 L256.8 380.6 L258.1 381.3 L259.3 381.9 L260.6 382.5 L261.8 383.0 L263.1 383.5 L264.3 383.9 L265.6 384.4 L266.8 384.8 L268.1 385.3 L269.3 385.7 L270.6 386.1 L271.8 386.5 L273.1 386.9 L274.3 387.4 L275.6 387.8 L276.8 388.2 L278.1 388.6 L279.3 389.0 L280.6 389.4 L281.8 389.8 L283.1 390.2 L284.3 390.6 L285.6 391.0 L286.8 391.4 L288.1 391.7 L289.3 392.1 L290.6 392.5 L291.8 392.8 L293.1 393.2 L294.3 393.5 L295.6 393.8 L296.8 394.1 L298.1 394.4 L299.3 394.7 L300.6 395.0 L301.8 395.3 L303.1 395.6 L304.3 395.8 L305.6 396.1 L306.8 396.4 L308.1 396.6 L309.3 396.8 L310.6 397.1 L311.8 397.3 L313.1 397.5 L314.3 397.7 L315.6 397.9 L316.8 398.1 L318.1 398.3 L319.3 398.4 L320.6 398.6 L321.8 398.8 L323.1 398.9 L324.3 399.1 L325.6 399.3 L326.8 399.4 L328.1 399.6 L329.3 399.7 L330.6 399.9 L331.8 400.0 L333.1 400.2 L334.3 400.3 L335.6 400.5 L336.8 400.6 L338.1 400.8 L339.3 400.9 L340.6 401.1 L341.8 401.2 L343.1 401.4 L344.3 401.5 L345.6 401.7 L346.8 401.8 L348.1 402.0 L349.3 402.1 L350.6 402.3 L351.8 402.5 L353.1 402.6 L354.3 402.8 L355.6 403.0 L356.8 403.1 L358.1 403.3 L359.3 403.5 L360.6 403.6 L361.8 403.8 L363.1 404.0 L364.3 404.2 L365.6 404.3 L366.8 404.5 L368.1 404.7 L369.3 404.8 L370.6 405.0 L371.8 405.2 L373.1 405.4 L374.3 405.5 L375.6 405.7 L376.8 405.9 L378.1 406.0 L379.3 406.2 L380.6 406.4 L381.8 406.5 L383.1 406.7 L384.3 406.9 L385.6 407.0 L386.8 407.2 L386.8 418.4 L385.6 418.4 L384.3 418.3 L383.1 418.2 L381.8 418.2 L380.6 418.1 L379.3 418.0 L378.1 418.0 L376.8 417.9 L375.6 417.8 L374.3 417.7 L373.1 417.7 L371.8 417.6 L370.6 417.5 L369.3 417.4 L368.1 417.3 L366.8 417.3 L365.6 417.2 L364.3 417.1 L363.1 417.0 L361.8 416.9 L360.6 416.8 L359.3 416.7 L358.1 416.6 L356.8 416.6 L355.6 416.5 L354.3 416.4 L353.1 416.3 L351.8 416.2 L350.6 416.1 L349.3 415.9 L348.1 415.8 L346.8 415.7 L345.6 415.6 L344.3 415.5 L343.1 415.4 L341.8 415.3 L340.6 415.1 L339.3 415.0 L338.1 414.9 L336.8 414.7 L335.6 414.6 L334.3 414.4 L333.1 414.3 L331.8 414.2 L330.6 414.0 L329.3 413.8 L328.1 413.7 L326.8 413.5 L325.6 413.4 L324.3 413.2 L323.1 413.0 L321.8 412.9 L320.6 412.7 L319.3 412.5 L318.1 412.4 L316.8 412.2 L315.6 412.0 L314.3 411.8 L313.1 411.7 L311.8 411.5 L310.6 411.3 L309.3 411.1 L308.1 410.9 L306.8 410.8 L305.6 410.6 L304.3 410.4 L303.1 410.2 L301.8 410.0 L300.6 409.8 L299.3 409.6 L298.1 409.4 L296.8 409.2 L295.6 409.0 L294.3 408.8 L293.1 408.6 L291.8 408.4 L290.6 408.1 L289.3 407.9 L288.1 407.7 L286.8 407.4 L285.6 407.2 L284.3 406.9 L283.1 406.6 L281.8 406.3 L280.6 406.0 L279.3 405.7 L278.1 405.4 L276.8 405.1 L275.6 404.7 L274.3 404.3 L273.1 403.9 L271.8 403.5 L270.6 403.0 L269.3 402.6 L268.1 402.0 L266.8 401.5 L265.6 400.9 L264.3 400.3 L263.1 399.6 L261.8 398.9 L260.6 398.2 L259.3 397.4 L258.1 396.6 L256.8 395.8 L255.6 394.9 L254.3 394.0 L253.1 393.0 L251.8 392.0 L250.6 390.8 L249.3 389.3 L248.1 387.4 L246.8 384.9 L245.6 381.8 L244.3 378.2 L243.1 374.1 L241.8 369.6 L240.6 364.1 L239.3 357.6 L238.1 349.5 L236.8 337.7Z" stroke="none" stroke-width="0" fill="#c2d8ef" />
<path d="M238.1 344.4V349.5M240.6 354.2V364.1M243.1 361.8V374.1M245.6 367.8V381.8M248.1 372.4V387.4M250.6 375.6V390.8M253.1 378.0V393.0M255.6 379.8V394.9M258.1 381.3V396.6M260.6 382.5V398.2M263.1 383.5V399.6M265.6 384.4V400.9M268.1 385.3V402.0M270.6 386.1V403.0M273.1 386.9V403.9M275.6 387.8V404.7M278.1 388.6V405.4M280.6 389.4V406.0M283.1 390.2V406.6M285.6 391.0V407.2M288.1 391.7V407.7M290.6 392.5V408.1M293.1 393.2V408.6M295.6 393.8V409.0M298.1 394.4V409.4M300.6 395.0V409.8M303.1 395.6V410.2M305.6 396.1V410.6M308.1 396.6V410.9M310.6 397.1V411.3M313.1 397.5V411.7M315.6 397.9V412.0M318.1 398.3V412.4M320.6 398.6V412.7M323.1 398.9V413.0M325.6 399.3V413.4M328.1 399.6V413.7M330.6 399.9V414.0M333.1 400.2V414.3M335.6 400.5V414.6M338.1 400.8V414.9M340.6 401.1V415.1M343.1 401.4V415.4M345.6 401.7V415.6M348.1 402.0V415.8M350.6 402.3V416.1M353.1 402.6V416.3M355.6 403.0V416.5M358.1 403.3V416.6M360.6 403.6V416.8M363.1 404.0V417.0M365.6 404.3V417.2M368.1 404.7V417.3M370.6 405.0V417.5M373.1 405.4V417.7M375.6 405.7V417.8M378.1 406.0V418.0M380.6 406.4V418.1M383.1 406.7V418.2M385.6 407.0V418.4" stroke="#a9c6e6" stroke-width="0.8" fill="none" />
<path d="M236.8 337.7 L238.1 344.4 L239.3 349.6 L240.6 354.2 L241.8 358.4 L243.1 361.8 L244.3 364.9 L245.6 367.8 L246.8 370.3 L248.1 372.4 L249.3 374.1 L250.6 375.6 L251.8 376.9 L253.1 378.0 L254.3 378.9 L255.6 379.8 L256.8 380.6 L258.1 381.3 L259.3 381.9 L260.6 382.5 L261.8 383.0 L263.1 383.5 L264.3 383.9 L265.6 384.4 L266.8 384.8 L268.1 385.3 L269.3 385.7 L270.6 386.1 L271.8 386.5 L273.1 386.9 L274.3 387.4 L275.6 387.8 L276.8 388.2 L278.1 388.6 L279.3 389.0 L280.6 389.4 L281.8 389.8 L283.1 390.2 L284.3 390.6 L285.6 391.0 L286.8 391.4 L288.1 391.7 L289.3 392.1 L290.6 392.5 L291.8 392.8 L293.1 393.2 L294.3 393.5 L295.6 393.8 L296.8 394.1 L298.1 394.4 L299.3 394.7 L300.6 395.0 L301.8 395.3 L303.1 395.6 L304.3 395.8 L305.6 396.1 L306.8 396.4 L308.1 396.6 L309.3 396.8 L310.6 397.1 L311.8 397.3 L313.1 397.5 L314.3 397.7 L315.6 397.9 L316.8 398.1 L318.1 398.3 L319.3 398.4 L320.6 398.6 L321.8 398.8 L323.1 398.9 L324.3 399.1 L325.6 399.3 L326.8 399.4 L328.1 399.6 L329.3 399.7 L330.6 399.9 L331.8 400.0 L333.1 400.2 L334.3 400.3 L335.6 400.5 L336.8 400.6 L338.1 400.8 L339.3 400.9 L340.6 401.1 L341.8 401.2 L343.1 401.4 L344.3 401.5 L345.6 401.7 L346.8 401.8 L348.1 402.0 L349.3 402.1 L350.6 402.3 L351.8 402.5 L353.1 402.6 L354.3 402.8 L355.6 403.0 L356.8 403.1 L358.1 403.3 L359.3 403.5 L360.6 403.6 L361.8 403.8 L363.1 404.0 L364.3 404.2 L365.6 404.3 L366.8 404.5 L368.1 404.7 L369.3 404.8 L370.6 405.0 L371.8 405.2 L373.1 405.4 L374.3 405.5 L375.6 405.7 L376.8 405.9 L378.1 406.0 L379.3 406.2 L380.6 406.4 L381.8 406.5 L383.1 406.7 L384.3 406.9 L385.6 407.0 L386.8 407.2" stroke="#8fb2dc" stroke-width="0.5" fill="none" />
<path d="M236.8 337.7 L238.1 349.5 L239.3 357.6 L240.6 364.1 L241.8 369.6 L243.1 374.1 L244.3 378.2 L245.6 381.8 L246.8 384.9 L248.1 387.4 L249.3 389.3 L250.6 390.8 L251.8 392.0 L253.1 393.0 L254.3 394.0 L255.6 394.9 L256.8 395.8 L258.1 396.6 L259.3 397.4 L260.6 398.2 L261.8 398.9 L263.1 399.6 L264.3 400.3 L265.6 400.9 L266.8 401.5 L268.1 402.0 L269.3 402.6 L270.6 403.0 L271.8 403.5 L273.1 403.9 L274.3 404.3 L275.6 404.7 L276.8 405.1 L278.1 405.4 L279.3 405.7 L280.6 406.0 L281.8 406.3 L283.1 406.6 L284.3 406.9 L285.6 407.2 L286.8 407.4 L288.1 407.7 L289.3 407.9 L290.6 408.1 L291.8 408.4 L293.1 408.6 L294.3 408.8 L295.6 409.0 L296.8 409.2 L298.1 409.4 L299.3 409.6 L300.6 409.8 L301.8 410.0 L303.1 410.2 L304.3 410.4 L305.6 410.6 L306.8 410.8 L308.1 410.9 L309.3 411.1 L310.6 411.3 L311.8 411.5 L313.1 411.7 L314.3 411.8 L315.6 412.0 L316.8 412.2 L318.1 412.4 L319.3 412.5 L320.6 412.7 L321.8 412.9 L323.1 413.0 L324.3 413.2 L325.6 413.4 L326.8 413.5 L328.1 413.7 L329.3 413.8 L330.6 414.0 L331.8 414.2 L333.1 414.3 L334.3 414.4 L335.6 414.6 L336.8 414.7 L338.1 414.9 L339.3 415.0 L340.6 415.1 L341.8 415.3 L343.1 415.4 L344.3 415.5 L345.6 415.6 L346.8 415.7 L348.1 415.8 L349.3 415.9 L350.6 416.1 L351.8 416.2 L353.1 416.3 L354.3 416.4 L355.6 416.5 L356.8 416.6 L358.1 416.6 L359.3 416.7 L360.6 416.8 L361.8 416.9 L363.1 417.0 L364.3 417.1 L365.6 417.2 L366.8 417.3 L368.1 417.3 L369.3 417.4 L370.6 417.5 L371.8 417.6 L373.1 417.7 L374.3 417.7 L375.6 417.8 L376.8 417.9 L378.1 418.0 L379.3 418.0 L380.6 418.1 L381.8 418.2 L383.1 418.2 L384.3 418.3 L385.6 418.4 L386.8 418.4" stroke="#8fb2dc" stroke-width="0.5" fill="none" />
<path d="M236.8 344.4h2.6M238.0 349.6h2.6M239.2 354.2h2.6M240.5 358.4h2.6M241.8 361.8h2.6M243.0 364.9h2.6M244.2 367.8h2.6M245.5 370.3h2.6M246.8 372.4h2.6M248.0 374.1h2.6M249.2 375.6h2.6" stroke="#a9c6e6" stroke-width="0.6" fill="none" />
<path d="M236.8 337.7 L238.1 346.9 L239.3 353.6 L240.6 359.2 L241.8 364.0 L243.1 368.0 L244.3 371.5 L245.6 374.8 L246.8 377.6 L248.1 379.9 L249.3 381.7 L250.6 383.2 L251.8 384.4 L253.1 385.5 L254.3 386.5 L255.6 387.4 L256.8 388.2 L258.1 389.0 L259.3 389.7 L260.6 390.3 L261.8 391.0 L263.1 391.6 L264.3 392.1 L265.6 392.7 L266.8 393.2 L268.1 393.7 L269.3 394.1 L270.6 394.6 L271.8 395.0 L273.1 395.4 L274.3 395.8 L275.6 396.2 L276.8 396.6 L278.1 397.0 L279.3 397.4 L280.6 397.7 L281.8 398.1 L283.1 398.4 L284.3 398.8 L285.6 399.1 L286.8 399.4 L288.1 399.7 L289.3 400.0 L290.6 400.3 L291.8 400.6 L293.1 400.9 L294.3 401.1 L295.6 401.4 L296.8 401.7 L298.1 401.9 L299.3 402.2 L300.6 402.4 L301.8 402.7 L303.1 402.9 L304.3 403.1 L305.6 403.3 L306.8 403.6 L308.1 403.8 L309.3 404.0 L310.6 404.2 L311.8 404.4 L313.1 404.6 L314.3 404.8 L315.6 405.0 L316.8 405.1 L318.1 405.3 L319.3 405.5 L320.6 405.7 L321.8 405.8 L323.1 406.0 L324.3 406.2 L325.6 406.3 L326.8 406.5 L328.1 406.6 L329.3 406.8 L330.6 406.9 L331.8 407.1 L333.1 407.2 L334.3 407.4 L335.6 407.5 L336.8 407.7 L338.1 407.8 L339.3 408.0 L340.6 408.1 L341.8 408.2 L343.1 408.4 L344.3 408.5 L345.6 408.6 L346.8 408.8 L348.1 408.9 L349.3 409.0 L350.6 409.2 L351.8 409.3 L353.1 409.4 L354.3 409.6 L355.6 409.7 L356.8 409.8 L358.1 410.0 L359.3 410.1 L360.6 410.2 L361.8 410.4 L363.1 410.5 L364.3 410.6 L365.6 410.8 L366.8 410.9 L368.1 411.0 L369.3 411.1 L370.6 411.3 L371.8 411.4 L373.1 411.5 L374.3 411.6 L375.6 411.8 L376.8 411.9 L378.1 412.0 L379.3 412.1 L380.6 412.2 L381.8 412.4 L383.1 412.5 L384.3 412.6 L385.6 412.7 L386.8 412.8" stroke="#dfeaf7" stroke-width="0.6" fill="none" />
<path d="M236.8 337.7 L238.1 347.8 L239.3 355.6 L240.6 362.2 L241.8 368.2 L243.1 373.4 L244.3 378.4 L245.6 383.1 L246.8 387.3 L248.1 391.0 L249.3 394.0 L250.6 396.6 L251.8 399.0 L253.1 401.1 L254.3 402.9 L255.6 404.3 L256.8 405.6 L258.1 406.7 L259.3 407.7 L260.6 408.6 L261.8 409.4 L263.1 410.1 L264.3 410.8 L265.6 411.5 L266.8 412.1 L268.1 412.7 L269.3 413.2 L270.6 413.7 L271.8 414.2 L273.1 414.7 L274.3 415.2 L275.6 415.6 L276.8 416.0 L278.1 416.4 L279.3 416.8 L280.6 417.2 L281.8 417.5 L283.1 417.9 L284.3 418.2 L285.6 418.5 L286.8 418.8 L288.1 419.1 L289.3 419.4 L290.6 419.7 L291.8 419.9 L293.1 420.2 L294.3 420.4 L295.6 420.7 L296.8 420.9 L298.1 421.1 L299.3 421.4 L300.6 421.6 L301.8 421.8 L303.1 422.0 L304.3 422.2 L305.6 422.4 L306.8 422.6 L308.1 422.8 L309.3 423.0 L310.6 423.2 L311.8 423.4 L313.1 423.6 L314.3 423.8 L315.6 423.9 L316.8 424.1 L318.1 424.3 L319.3 424.4 L320.6 424.6 L321.8 424.8 L323.1 424.9 L324.3 425.1 L325.6 425.2 L326.8 425.4 L328.1 425.5 L329.3 425.7 L330.6 425.8 L331.8 425.9 L333.1 426.1 L334.3 426.2 L335.6 426.3 L336.8 426.5 L338.1 426.6 L339.3 426.7 L340.6 426.8 L341.8 426.9 L343.1 427.1 L344.3 427.2 L345.6 427.3 L346.8 427.4 L348.1 427.5 L349.3 427.6 L350.6 427.7 L351.8 427.8 L353.1 427.9 L354.3 428.0 L355.6 428.1 L356.8 428.2 L358.1 428.3 L359.3 428.4 L360.6 428.5 L361.8 428.6 L363.1 428.7 L364.3 428.8 L365.6 428.9 L366.8 428.9 L368.1 429.0 L369.3 429.1 L370.6 429.1 L371.8 429.2 L373.1 429.2 L374.3 429.2 L375.6 429.2 L376.8 429.3 L378.1 429.2 L379.3 429.1 L380.6 429.0 L381.8 428.8 L383.1 428.7 L384.3 428.5 L385.6 428.3 L386.8 428.1 L386.8 431.8 L385.6 431.9 L384.3 431.9 L383.1 432.0 L381.8 432.0 L380.6 432.0 L379.3 432.0 L378.1 432.0 L376.8 432.0 L375.6 432.0 L374.3 432.0 L373.1 432.0 L371.8 432.0 L370.6 431.9 L369.3 431.9 L368.1 431.8 L366.8 431.7 L365.6 431.7 L364.3 431.6 L363.1 431.5 L361.8 431.4 L360.6 431.3 L359.3 431.2 L358.1 431.1 L356.8 431.0 L355.6 430.9 L354.3 430.8 L353.1 430.7 L351.8 430.6 L350.6 430.5 L349.3 430.4 L348.1 430.4 L346.8 430.3 L345.6 430.2 L344.3 430.1 L343.1 430.0 L341.8 430.0 L340.6 429.9 L339.3 429.8 L338.1 429.7 L336.8 429.6 L335.6 429.5 L334.3 429.4 L333.1 429.3 L331.8 429.2 L330.6 429.2 L329.3 429.1 L328.1 429.0 L326.8 428.9 L325.6 428.8 L324.3 428.7 L323.1 428.6 L321.8 428.5 L320.6 428.4 L319.3 428.3 L318.1 428.1 L316.8 428.0 L315.6 427.9 L314.3 427.8 L313.1 427.7 L311.8 427.6 L310.6 427.4 L309.3 427.3 L308.1 427.2 L306.8 427.1 L305.6 426.9 L304.3 426.8 L303.1 426.7 L301.8 426.6 L300.6 426.4 L299.3 426.3 L298.1 426.1 L296.8 426.0 L295.6 425.9 L294.3 425.7 L293.1 425.6 L291.8 425.4 L290.6 425.2 L289.3 425.1 L288.1 424.9 L286.8 424.7 L285.6 424.5 L284.3 424.3 L283.1 424.1 L281.8 423.9 L280.6 423.7 L279.3 423.4 L278.1 423.2 L276.8 422.9 L275.6 422.6 L274.3 422.3 L273.1 422.0 L271.8 421.6 L270.6 421.2 L269.3 420.8 L268.1 420.3 L266.8 419.8 L265.6 419.3 L264.3 418.7 L263.1 418.1 L261.8 417.4 L260.6 416.6 L259.3 415.8 L258.1 414.9 L256.8 413.9 L255.6 412.9 L254.3 411.6 L253.1 410.2 L251.8 408.5 L250.6 406.6 L249.3 404.3 L248.1 401.6 L246.8 398.2 L245.6 394.2 L244.3 389.5 L243.1 384.4 L241.8 378.6 L240.6 371.7 L239.3 363.5 L238.1 353.1 L236.8 337.7Z" stroke="none" stroke-width="0" fill="#e8585c" />
<path d="M238.1 347.8V353.1M240.6 362.2V371.7M243.1 373.4V384.4M245.6 383.1V394.2M248.1 391.0V401.6M250.6 396.6V406.6M253.1 401.1V410.2M255.6 404.3V412.9M258.1 406.7V414.9M260.6 408.6V416.6M263.1 410.1V418.1M265.6 411.5V419.3M268.1 412.7V420.3M270.6 413.7V421.2M273.1 414.7V422.0M275.6 415.6V422.6M278.1 416.4V423.2M280.6 417.2V423.7M283.1 417.9V424.1M285.6 418.5V424.5M288.1 419.1V424.9M290.6 419.7V425.2M293.1 420.2V425.6M295.6 420.7V425.9M298.1 421.1V426.1M300.6 421.6V426.4M303.1 422.0V426.7M305.6 422.4V426.9M308.1 422.8V427.2M310.6 423.2V427.4M313.1 423.6V427.7M315.6 423.9V427.9M318.1 424.3V428.1M320.6 424.6V428.4M323.1 424.9V428.6M325.6 425.2V428.8M328.1 425.5V429.0M330.6 425.8V429.2M333.1 426.1V429.3M335.6 426.3V429.5M338.1 426.6V429.7M340.6 426.8V429.9M343.1 427.1V430.0M345.6 427.3V430.2M348.1 427.5V430.4M350.6 427.7V430.5M353.1 427.9V430.7M355.6 428.1V430.9M358.1 428.3V431.1M360.6 428.5V431.3M363.1 428.7V431.5M365.6 428.9V431.7M368.1 429.0V431.8M370.6 429.1V431.9M373.1 429.2V432.0M375.6 429.2V432.0M378.1 429.2V432.0M380.6 429.0V432.0M383.1 428.7V432.0M385.6 428.3V431.9" stroke="#cf1f27" stroke-width="0.8" fill="none" />
<path d="M236.8 337.7 L238.1 347.8 L239.3 355.6 L240.6 362.2 L241.8 368.2 L243.1 373.4 L244.3 378.4 L245.6 383.1 L246.8 387.3 L248.1 391.0 L249.3 394.0 L250.6 396.6 L251.8 399.0 L253.1 401.1 L254.3 402.9 L255.6 404.3 L256.8 405.6 L258.1 406.7 L259.3 407.7 L260.6 408.6 L261.8 409.4 L263.1 410.1 L264.3 410.8 L265.6 411.5 L266.8 412.1 L268.1 412.7 L269.3 413.2 L270.6 413.7 L271.8 414.2 L273.1 414.7 L274.3 415.2 L275.6 415.6 L276.8 416.0 L278.1 416.4 L279.3 416.8 L280.6 417.2 L281.8 417.5 L283.1 417.9 L284.3 418.2 L285.6 418.5 L286.8 418.8 L288.1 419.1 L289.3 419.4 L290.6 419.7 L291.8 419.9 L293.1 420.2 L294.3 420.4 L295.6 420.7 L296.8 420.9 L298.1 421.1 L299.3 421.4 L300.6 421.6 L301.8 421.8 L303.1 422.0 L304.3 422.2 L305.6 422.4 L306.8 422.6 L308.1 422.8 L309.3 423.0 L310.6 423.2 L311.8 423.4 L313.1 423.6 L314.3 423.8 L315.6 423.9 L316.8 424.1 L318.1 424.3 L319.3 424.4 L320.6 424.6 L321.8 424.8 L323.1 424.9 L324.3 425.1 L325.6 425.2 L326.8 425.4 L328.1 425.5 L329.3 425.7 L330.6 425.8 L331.8 425.9 L333.1 426.1 L334.3 426.2 L335.6 426.3 L336.8 426.5 L338.1 426.6 L339.3 426.7 L340.6 426.8 L341.8 426.9 L343.1 427.1 L344.3 427.2 L345.6 427.3 L346.8 427.4 L348.1 427.5 L349.3 427.6 L350.6 427.7 L351.8 427.8 L353.1 427.9 L354.3 428.0 L355.6 428.1 L356.8 428.2 L358.1 428.3 L359.3 428.4 L360.6 428.5 L361.8 428.6 L363.1 428.7 L364.3 428.8 L365.6 428.9 L366.8 428.9 L368.1 429.0 L369.3 429.1 L370.6 429.1 L371.8 429.2 L373.1 429.2 L374.3 429.2 L375.6 429.2 L376.8 429.3 L378.1 429.2 L379.3 429.1 L380.6 429.0 L381.8 428.8 L383.1 428.7 L384.3 428.5 L385.6 428.3 L386.8 428.1" stroke="#cf1f27" stroke-width="0.5" fill="none" />
<path d="M236.8 337.7 L238.1 353.1 L239.3 363.5 L240.6 371.7 L241.8 378.6 L243.1 384.4 L244.3 389.5 L245.6 394.2 L246.8 398.2 L248.1 401.6 L249.3 404.3 L250.6 406.6 L251.8 408.5 L253.1 410.2 L254.3 411.6 L255.6 412.9 L256.8 413.9 L258.1 414.9 L259.3 415.8 L260.6 416.6 L261.8 417.4 L263.1 418.1 L264.3 418.7 L265.6 419.3 L266.8 419.8 L268.1 420.3 L269.3 420.8 L270.6 421.2 L271.8 421.6 L273.1 422.0 L274.3 422.3 L275.6 422.6 L276.8 422.9 L278.1 423.2 L279.3 423.4 L280.6 423.7 L281.8 423.9 L283.1 424.1 L284.3 424.3 L285.6 424.5 L286.8 424.7 L288.1 424.9 L289.3 425.1 L290.6 425.2 L291.8 425.4 L293.1 425.6 L294.3 425.7 L295.6 425.9 L296.8 426.0 L298.1 426.1 L299.3 426.3 L300.6 426.4 L301.8 426.6 L303.1 426.7 L304.3 426.8 L305.6 426.9 L306.8 427.1 L308.1 427.2 L309.3 427.3 L310.6 427.4 L311.8 427.6 L313.1 427.7 L314.3 427.8 L315.6 427.9 L316.8 428.0 L318.1 428.1 L319.3 428.3 L320.6 428.4 L321.8 428.5 L323.1 428.6 L324.3 428.7 L325.6 428.8 L326.8 428.9 L328.1 429.0 L329.3 429.1 L330.6 429.2 L331.8 429.2 L333.1 429.3 L334.3 429.4 L335.6 429.5 L336.8 429.6 L338.1 429.7 L339.3 429.8 L340.6 429.9 L341.8 430.0 L343.1 430.0 L344.3 430.1 L345.6 430.2 L346.8 430.3 L348.1 430.4 L349.3 430.4 L350.6 430.5 L351.8 430.6 L353.1 430.7 L354.3 430.8 L355.6 430.9 L356.8 431.0 L358.1 431.1 L359.3 431.2 L360.6 431.3 L361.8 431.4 L363.1 431.5 L364.3 431.6 L365.6 431.7 L366.8 431.7 L368.1 431.8 L369.3 431.9 L370.6 431.9 L371.8 432.0 L373.1 432.0 L374.3 432.0 L375.6 432.0 L376.8 432.0 L378.1 432.0 L379.3 432.0 L380.6 432.0 L381.8 432.0 L383.1 432.0 L384.3 431.9 L385.6 431.9 L386.8 431.8" stroke="#cf1f27" stroke-width="0.5" fill="none" />
<path d="M236.8 353.1h2.6M238.0 363.5h2.6M239.2 371.7h2.6M240.5 378.6h2.6M241.8 384.4h2.6M243.0 389.5h2.6M244.2 394.2h2.6M245.5 398.2h2.6M246.8 401.6h2.6M248.0 404.3h2.6M249.2 406.6h2.6M250.5 408.5h2.6M251.8 410.2h2.6M253.0 411.6h2.6M254.2 412.9h2.6" stroke="#cf1f27" stroke-width="0.6" fill="none" />
<path d="M236.8 347.8h2.6M238.0 355.6h2.6M239.2 362.2h2.6M240.5 368.2h2.6M241.8 373.4h2.6M243.0 378.4h2.6M244.2 383.1h2.6M245.5 387.3h2.6M246.8 391.0h2.6" stroke="#cf1f27" stroke-width="0.6" fill="none" />
<path d="M236.8 337.7 L238.1 350.4 L239.3 359.5 L240.6 367.0 L241.8 373.4 L243.1 378.9 L244.3 384.0 L245.6 388.6 L246.8 392.8 L248.1 396.3 L249.3 399.2 L250.6 401.6 L251.8 403.8 L253.1 405.7 L254.3 407.3 L255.6 408.6 L256.8 409.8 L258.1 410.8 L259.3 411.7 L260.6 412.6 L261.8 413.4 L263.1 414.1 L264.3 414.8 L265.6 415.4 L266.8 416.0 L268.1 416.5 L269.3 417.0 L270.6 417.5 L271.8 417.9 L273.1 418.3 L274.3 418.7 L275.6 419.1 L276.8 419.5 L278.1 419.8 L279.3 420.1 L280.6 420.4 L281.8 420.7 L283.1 421.0 L284.3 421.3 L285.6 421.5 L286.8 421.8 L288.1 422.0 L289.3 422.2 L290.6 422.4 L291.8 422.7 L293.1 422.9 L294.3 423.1 L295.6 423.3 L296.8 423.5 L298.1 423.6 L299.3 423.8 L300.6 424.0 L301.8 424.2 L303.1 424.4 L304.3 424.5 L305.6 424.7 L306.8 424.9 L308.1 425.0 L309.3 425.2 L310.6 425.3 L311.8 425.5 L313.1 425.6 L314.3 425.8 L315.6 425.9 L316.8 426.1 L318.1 426.2 L319.3 426.3 L320.6 426.5 L321.8 426.6 L323.1 426.7 L324.3 426.9 L325.6 427.0 L326.8 427.1 L328.1 427.2 L329.3 427.4 L330.6 427.5 L331.8 427.6 L333.1 427.7 L334.3 427.8 L335.6 427.9 L336.8 428.0 L338.1 428.1 L339.3 428.2 L340.6 428.3 L341.8 428.4 L343.1 428.5 L344.3 428.6 L345.6 428.7 L346.8 428.8 L348.1 428.9 L349.3 429.0 L350.6 429.1 L351.8 429.2 L353.1 429.3 L354.3 429.4 L355.6 429.5 L356.8 429.6 L358.1 429.7 L359.3 429.8 L360.6 429.9 L361.8 430.0 L363.1 430.1 L364.3 430.2 L365.6 430.3 L366.8 430.3 L368.1 430.4 L369.3 430.5 L370.6 430.5 L371.8 430.6 L373.1 430.6 L374.3 430.6 L375.6 430.6 L376.8 430.6 L378.1 430.6 L379.3 430.6 L380.6 430.5 L381.8 430.4 L383.1 430.3 L384.3 430.2 L385.6 430.1 L386.8 429.9" stroke="#fbd5d5" stroke-width="0.6" fill="none" />
<line x1="236.80" y1="336.90" x2="236.80" y2="437.80" stroke="#111" stroke-width="1.65" />
<line x1="236.00" y1="437.00" x2="387.60" y2="437.00" stroke="#111" stroke-width="1.65" />
<line x1="232.60" y1="437.00" x2="236.80" y2="437.00" stroke="#111" stroke-width="1.2" />
<text x="231.20" y="439.50" font-size="7.0" text-anchor="end">0.0</text>
<line x1="232.60" y1="417.14" x2="236.80" y2="417.14" stroke="#111" stroke-width="1.2" />
<text x="231.20" y="419.64" font-size="7.0" text-anchor="end">0.2</text>
<line x1="232.60" y1="397.28" x2="236.80" y2="397.28" stroke="#111" stroke-width="1.2" />
<text x="231.20" y="399.78" font-size="7.0" text-anchor="end">0.4</text>
<line x1="232.60" y1="377.42" x2="236.80" y2="377.42" stroke="#111" stroke-width="1.2" />
<text x="231.20" y="379.92" font-size="7.0" text-anchor="end">0.6</text>
<line x1="232.60" y1="357.56" x2="236.80" y2="357.56" stroke="#111" stroke-width="1.2" />
<text x="231.20" y="360.06" font-size="7.0" text-anchor="end">0.8</text>
<line x1="232.60" y1="337.70" x2="236.80" y2="337.70" stroke="#111" stroke-width="1.2" />
<text x="231.20" y="340.20" font-size="7.0" text-anchor="end">1.0</text>
<line x1="236.80" y1="437.00" x2="236.80" y2="440.70" stroke="#111" stroke-width="1.2" />
<text x="236.80" y="449.10" font-size="7.0" text-anchor="middle">0</text>
<line x1="274.30" y1="437.00" x2="274.30" y2="440.70" stroke="#111" stroke-width="1.2" />
<text x="274.30" y="449.10" font-size="7.0" text-anchor="middle">30</text>
<line x1="311.80" y1="437.00" x2="311.80" y2="440.70" stroke="#111" stroke-width="1.2" />
<text x="311.80" y="449.10" font-size="7.0" text-anchor="middle">60</text>
<line x1="349.30" y1="437.00" x2="349.30" y2="440.70" stroke="#111" stroke-width="1.2" />
<text x="349.30" y="449.10" font-size="7.0" text-anchor="middle">90</text>
<line x1="386.80" y1="437.00" x2="386.80" y2="440.70" stroke="#111" stroke-width="1.2" />
<text x="386.80" y="449.10" font-size="7.0" text-anchor="middle">120</text>
<text x="217.10" y="386.80" font-size="9.55" text-anchor="middle" transform="rotate(-90 217.10 386.80)">Correlation coefficient</text>
<text x="312.90" y="462.30" font-size="9.57" text-anchor="middle">Time interval (s)</text>
<line x1="303.30" y1="342.80" x2="314.70" y2="342.80" stroke="#a9c9e8" stroke-width="0.9" />
<line x1="303.30" y1="356.20" x2="314.70" y2="356.20" stroke="#d2232a" stroke-width="0.7" />
<line x1="309.00" y1="355.40" x2="309.00" y2="357.00" stroke="#a0141a" stroke-width="0.7" />
<text x="320.80" y="345.55" font-size="8.2"><tspan font-style="italic">rb64</tspan></text>
<text x="320.80" y="358.95" font-size="8.2"><tspan font-style="italic">rb64</tspan> + adenine</text>
<text x="378.30" y="357.00" font-size="9.5" font-weight="bold">**</text>
<text x="407.10" y="336.50" font-size="12.5">I</text>
<path d="M440.3 336.0 L441.6 339.1 L442.8 342.0 L444.1 345.1 L445.4 348.1 L446.7 350.5 L447.9 352.5 L449.2 354.2 L450.5 355.7 L451.8 357.2 L453.0 358.7 L454.3 360.1 L455.6 361.5 L456.8 362.9 L458.1 364.3 L459.4 365.5 L460.7 366.7 L461.9 367.9 L463.2 369.0 L464.5 370.1 L465.8 371.2 L467.0 372.2 L468.3 373.1 L469.6 374.1 L470.8 375.0 L472.1 375.8 L473.4 376.7 L474.7 377.5 L475.9 378.3 L477.2 379.0 L478.5 379.7 L479.7 380.5 L481.0 381.1 L482.3 381.8 L483.6 382.5 L484.8 383.1 L486.1 383.7 L487.4 384.3 L488.7 384.9 L489.9 385.5 L491.2 386.1 L492.5 386.6 L493.7 387.2 L495.0 387.7 L496.3 388.2 L497.6 388.7 L498.8 389.2 L500.1 389.7 L501.4 390.1 L502.7 390.6 L503.9 391.0 L505.2 391.5 L506.5 391.9 L507.7 392.3 L509.0 392.7 L510.3 393.1 L511.6 393.5 L512.8 393.9 L514.1 394.3 L515.4 394.7 L516.6 395.1 L517.9 395.5 L519.2 395.8 L520.5 396.2 L521.7 396.6 L523.0 397.0 L524.3 397.3 L525.6 397.7 L526.8 398.0 L528.1 398.4 L529.4 398.7 L530.6 399.1 L531.9 399.4 L533.2 399.8 L534.5 400.1 L535.7 400.5 L537.0 400.8 L538.3 401.1 L539.6 401.4 L540.8 401.8 L542.1 402.1 L543.4 402.4 L544.6 402.7 L545.9 403.0 L547.2 403.3 L548.5 403.6 L549.7 403.9 L551.0 404.2 L552.3 404.5 L553.6 404.8 L554.8 405.0 L556.1 405.3 L557.4 405.6 L558.6 405.9 L559.9 406.2 L561.2 406.4 L562.5 406.7 L563.7 407.0 L565.0 407.2 L566.3 407.5 L567.5 407.7 L568.8 408.0 L570.1 408.3 L571.4 408.5 L572.6 408.8 L573.9 409.0 L575.2 409.2 L576.5 409.5 L577.7 409.7 L579.0 410.0 L580.3 410.2 L581.5 410.5 L582.8 410.7 L584.1 410.9 L585.4 411.2 L586.6 411.4 L587.9 411.6 L589.2 411.8 L590.5 412.1 L591.7 412.3 L593.0 412.5 L593.0 419.2 L591.7 419.0 L590.5 418.9 L589.2 418.7 L587.9 418.6 L586.6 418.4 L585.4 418.3 L584.1 418.1 L582.8 418.0 L581.5 417.8 L580.3 417.6 L579.0 417.5 L577.7 417.3 L576.5 417.1 L575.2 416.9 L573.9 416.8 L572.6 416.6 L571.4 416.4 L570.1 416.2 L568.8 416.0 L567.5 415.8 L566.3 415.6 L565.0 415.4 L563.7 415.2 L562.5 415.0 L561.2 414.8 L559.9 414.6 L558.6 414.4 L557.4 414.2 L556.1 413.9 L554.8 413.7 L553.6 413.5 L552.3 413.2 L551.0 413.0 L549.7 412.7 L548.5 412.5 L547.2 412.2 L545.9 411.9 L544.6 411.7 L543.4 411.4 L542.1 411.1 L540.8 410.8 L539.6 410.5 L538.3 410.2 L537.0 409.8 L535.7 409.5 L534.5 409.2 L533.2 408.9 L531.9 408.5 L530.6 408.2 L529.4 407.8 L528.1 407.5 L526.8 407.1 L525.6 406.8 L524.3 406.4 L523.0 406.1 L521.7 405.7 L520.5 405.3 L519.2 405.0 L517.9 404.6 L516.6 404.2 L515.4 403.9 L514.1 403.5 L512.8 403.2 L511.6 402.8 L510.3 402.5 L509.0 402.1 L507.7 401.7 L506.5 401.3 L505.2 400.9 L503.9 400.5 L502.7 400.1 L501.4 399.6 L500.1 399.2 L498.8 398.7 L497.6 398.2 L496.3 397.7 L495.0 397.2 L493.7 396.7 L492.5 396.1 L491.2 395.6 L489.9 395.0 L488.7 394.4 L487.4 393.8 L486.1 393.2 L484.8 392.5 L483.6 391.9 L482.3 391.2 L481.0 390.5 L479.7 389.8 L478.5 389.1 L477.2 388.4 L475.9 387.7 L474.7 386.9 L473.4 386.1 L472.1 385.3 L470.8 384.4 L469.6 383.6 L468.3 382.7 L467.0 381.7 L465.8 380.7 L464.5 379.7 L463.2 378.6 L461.9 377.5 L460.7 376.3 L459.4 375.0 L458.1 373.6 L456.8 372.1 L455.6 370.5 L454.3 368.9 L453.0 367.2 L451.8 365.7 L450.5 364.1 L449.2 362.4 L447.9 360.5 L446.7 358.2 L445.4 354.9 L444.1 350.7 L442.8 346.1 L441.6 341.4 L440.3 336.0Z" stroke="none" stroke-width="0" fill="#c2d8ef" />
<path d="M441.6 339.1V341.4M444.1 345.1V350.7M446.7 350.5V358.2M449.2 354.2V362.4M451.8 357.2V365.7M454.3 360.1V368.9M456.8 362.9V372.1M459.4 365.5V375.0M461.9 367.9V377.5M464.5 370.1V379.7M467.0 372.2V381.7M469.6 374.1V383.6M472.1 375.8V385.3M474.7 377.5V386.9M477.2 379.0V388.4M479.7 380.5V389.8M482.3 381.8V391.2M484.8 383.1V392.5M487.4 384.3V393.8M489.9 385.5V395.0M492.5 386.6V396.1M495.0 387.7V397.2M497.6 388.7V398.2M500.1 389.7V399.2M502.7 390.6V400.1M505.2 391.5V400.9M507.7 392.3V401.7M510.3 393.1V402.5M512.8 393.9V403.2M515.4 394.7V403.9M517.9 395.5V404.6M520.5 396.2V405.3M523.0 397.0V406.1M525.6 397.7V406.8M528.1 398.4V407.5M530.6 399.1V408.2M533.2 399.8V408.9M535.7 400.5V409.5M538.3 401.1V410.2M540.8 401.8V410.8M543.4 402.4V411.4M545.9 403.0V411.9M548.5 403.6V412.5M551.0 404.2V413.0M553.6 404.8V413.5M556.1 405.3V413.9M558.6 405.9V414.4M561.2 406.4V414.8M563.7 407.0V415.2M566.3 407.5V415.6M568.8 408.0V416.0M571.4 408.5V416.4M573.9 409.0V416.8M576.5 409.5V417.1M579.0 410.0V417.5M581.5 410.5V417.8M584.1 410.9V418.1M586.6 411.4V418.4M589.2 411.8V418.7M591.7 412.3V419.0" stroke="#a9c6e6" stroke-width="0.8" fill="none" />
<path d="M440.3 336.0 L441.6 339.1 L442.8 342.0 L444.1 345.1 L445.4 348.1 L446.7 350.5 L447.9 352.5 L449.2 354.2 L450.5 355.7 L451.8 357.2 L453.0 358.7 L454.3 360.1 L455.6 361.5 L456.8 362.9 L458.1 364.3 L459.4 365.5 L460.7 366.7 L461.9 367.9 L463.2 369.0 L464.5 370.1 L465.8 371.2 L467.0 372.2 L468.3 373.1 L469.6 374.1 L470.8 375.0 L472.1 375.8 L473.4 376.7 L474.7 377.5 L475.9 378.3 L477.2 379.0 L478.5 379.7 L479.7 380.5 L481.0 381.1 L482.3 381.8 L483.6 382.5 L484.8 383.1 L486.1 383.7 L487.4 384.3 L488.7 384.9 L489.9 385.5 L491.2 386.1 L492.5 386.6 L493.7 387.2 L495.0 387.7 L496.3 388.2 L497.6 388.7 L498.8 389.2 L500.1 389.7 L501.4 390.1 L502.7 390.6 L503.9 391.0 L505.2 391.5 L506.5 391.9 L507.7 392.3 L509.0 392.7 L510.3 393.1 L511.6 393.5 L512.8 393.9 L514.1 394.3 L515.4 394.7 L516.6 395.1 L517.9 395.5 L519.2 395.8 L520.5 396.2 L521.7 396.6 L523.0 397.0 L524.3 397.3 L525.6 397.7 L526.8 398.0 L528.1 398.4 L529.4 398.7 L530.6 399.1 L531.9 399.4 L533.2 399.8 L534.5 400.1 L535.7 400.5 L537.0 400.8 L538.3 401.1 L539.6 401.4 L540.8 401.8 L542.1 402.1 L543.4 402.4 L544.6 402.7 L545.9 403.0 L547.2 403.3 L548.5 403.6 L549.7 403.9 L551.0 404.2 L552.3 404.5 L553.6 404.8 L554.8 405.0 L556.1 405.3 L557.4 405.6 L558.6 405.9 L559.9 406.2 L561.2 406.4 L562.5 406.7 L563.7 407.0 L565.0 407.2 L566.3 407.5 L567.5 407.7 L568.8 408.0 L570.1 408.3 L571.4 408.5 L572.6 408.8 L573.9 409.0 L575.2 409.2 L576.5 409.5 L577.7 409.7 L579.0 410.0 L580.3 410.2 L581.5 410.5 L582.8 410.7 L584.1 410.9 L585.4 411.2 L586.6 411.4 L587.9 411.6 L589.2 411.8 L590.5 412.1 L591.7 412.3 L593.0 412.5" stroke="#8fb2dc" stroke-width="0.5" fill="none" />
<path d="M440.3 336.0 L441.6 341.4 L442.8 346.1 L444.1 350.7 L445.4 354.9 L446.7 358.2 L447.9 360.5 L449.2 362.4 L450.5 364.1 L451.8 365.7 L453.0 367.2 L454.3 368.9 L455.6 370.5 L456.8 372.1 L458.1 373.6 L459.4 375.0 L460.7 376.3 L461.9 377.5 L463.2 378.6 L464.5 379.7 L465.8 380.7 L467.0 381.7 L468.3 382.7 L469.6 383.6 L470.8 384.4 L472.1 385.3 L473.4 386.1 L474.7 386.9 L475.9 387.7 L477.2 388.4 L478.5 389.1 L479.7 389.8 L481.0 390.5 L482.3 391.2 L483.6 391.9 L484.8 392.5 L486.1 393.2 L487.4 393.8 L488.7 394.4 L489.9 395.0 L491.2 395.6 L492.5 396.1 L493.7 396.7 L495.0 397.2 L496.3 397.7 L497.6 398.2 L498.8 398.7 L500.1 399.2 L501.4 399.6 L502.7 400.1 L503.9 400.5 L505.2 400.9 L506.5 401.3 L507.7 401.7 L509.0 402.1 L510.3 402.5 L511.6 402.8 L512.8 403.2 L514.1 403.5 L515.4 403.9 L516.6 404.2 L517.9 404.6 L519.2 405.0 L520.5 405.3 L521.7 405.7 L523.0 406.1 L524.3 406.4 L525.6 406.8 L526.8 407.1 L528.1 407.5 L529.4 407.8 L530.6 408.2 L531.9 408.5 L533.2 408.9 L534.5 409.2 L535.7 409.5 L537.0 409.8 L538.3 410.2 L539.6 410.5 L540.8 410.8 L542.1 411.1 L543.4 411.4 L544.6 411.7 L545.9 411.9 L547.2 412.2 L548.5 412.5 L549.7 412.7 L551.0 413.0 L552.3 413.2 L553.6 413.5 L554.8 413.7 L556.1 413.9 L557.4 414.2 L558.6 414.4 L559.9 414.6 L561.2 414.8 L562.5 415.0 L563.7 415.2 L565.0 415.4 L566.3 415.6 L567.5 415.8 L568.8 416.0 L570.1 416.2 L571.4 416.4 L572.6 416.6 L573.9 416.8 L575.2 416.9 L576.5 417.1 L577.7 417.3 L579.0 417.5 L580.3 417.6 L581.5 417.8 L582.8 418.0 L584.1 418.1 L585.4 418.3 L586.6 418.4 L587.9 418.6 L589.2 418.7 L590.5 418.9 L591.7 419.0 L593.0 419.2" stroke="#8fb2dc" stroke-width="0.5" fill="none" />
<path d="M440.3 339.1h2.6M441.5 342.0h2.6M442.8 345.1h2.6M444.1 348.1h2.6M445.4 350.5h2.6M446.6 352.5h2.6M447.9 354.2h2.6M449.2 355.7h2.6M450.5 357.2h2.6M451.7 358.7h2.6M453.0 360.1h2.6" stroke="#a9c6e6" stroke-width="0.6" fill="none" />
<path d="M440.3 336.0 L441.6 340.2 L442.8 344.1 L444.1 347.9 L445.4 351.5 L446.7 354.3 L447.9 356.5 L449.2 358.3 L450.5 359.9 L451.8 361.4 L453.0 363.0 L454.3 364.5 L455.6 366.0 L456.8 367.5 L458.1 369.0 L459.4 370.3 L460.7 371.5 L461.9 372.7 L463.2 373.8 L464.5 374.9 L465.8 375.9 L467.0 376.9 L468.3 377.9 L469.6 378.8 L470.8 379.7 L472.1 380.6 L473.4 381.4 L474.7 382.2 L475.9 383.0 L477.2 383.7 L478.5 384.4 L479.7 385.1 L481.0 385.8 L482.3 386.5 L483.6 387.2 L484.8 387.8 L486.1 388.4 L487.4 389.1 L488.7 389.7 L489.9 390.2 L491.2 390.8 L492.5 391.4 L493.7 391.9 L495.0 392.4 L496.3 393.0 L497.6 393.5 L498.8 393.9 L500.1 394.4 L501.4 394.9 L502.7 395.3 L503.9 395.8 L505.2 396.2 L506.5 396.6 L507.7 397.0 L509.0 397.4 L510.3 397.8 L511.6 398.2 L512.8 398.5 L514.1 398.9 L515.4 399.3 L516.6 399.7 L517.9 400.0 L519.2 400.4 L520.5 400.8 L521.7 401.1 L523.0 401.5 L524.3 401.9 L525.6 402.2 L526.8 402.6 L528.1 402.9 L529.4 403.3 L530.6 403.6 L531.9 404.0 L533.2 404.3 L534.5 404.7 L535.7 405.0 L537.0 405.3 L538.3 405.6 L539.6 406.0 L540.8 406.3 L542.1 406.6 L543.4 406.9 L544.6 407.2 L545.9 407.5 L547.2 407.8 L548.5 408.0 L549.7 408.3 L551.0 408.6 L552.3 408.9 L553.6 409.1 L554.8 409.4 L556.1 409.6 L557.4 409.9 L558.6 410.1 L559.9 410.4 L561.2 410.6 L562.5 410.9 L563.7 411.1 L565.0 411.3 L566.3 411.6 L567.5 411.8 L568.8 412.0 L570.1 412.2 L571.4 412.5 L572.6 412.7 L573.9 412.9 L575.2 413.1 L576.5 413.3 L577.7 413.5 L579.0 413.7 L580.3 413.9 L581.5 414.1 L582.8 414.3 L584.1 414.5 L585.4 414.7 L586.6 414.9 L587.9 415.1 L589.2 415.3 L590.5 415.5 L591.7 415.7 L593.0 415.8" stroke="#dfeaf7" stroke-width="0.6" fill="none" />
<path d="M440.3 336.0 L441.6 341.3 L442.8 346.1 L444.1 350.7 L445.4 355.2 L446.7 359.0 L447.9 362.2 L449.2 365.1 L450.5 367.7 L451.8 370.1 L453.0 372.3 L454.3 374.4 L455.6 376.4 L456.8 378.3 L458.1 380.0 L459.4 381.6 L460.7 383.0 L461.9 384.3 L463.2 385.5 L464.5 386.7 L465.8 387.7 L467.0 388.8 L468.3 389.7 L469.6 390.6 L470.8 391.5 L472.1 392.3 L473.4 393.1 L474.7 393.8 L475.9 394.5 L477.2 395.2 L478.5 395.8 L479.7 396.4 L481.0 396.9 L482.3 397.4 L483.6 397.9 L484.8 398.4 L486.1 398.8 L487.4 399.3 L488.7 399.7 L489.9 400.1 L491.2 400.5 L492.5 400.8 L493.7 401.2 L495.0 401.6 L496.3 401.9 L497.6 402.3 L498.8 402.6 L500.1 402.9 L501.4 403.3 L502.7 403.6 L503.9 403.9 L505.2 404.2 L506.5 404.5 L507.7 404.9 L509.0 405.2 L510.3 405.5 L511.6 405.8 L512.8 406.1 L514.1 406.4 L515.4 406.7 L516.6 407.1 L517.9 407.4 L519.2 407.7 L520.5 408.0 L521.7 408.4 L523.0 408.7 L524.3 409.0 L525.6 409.4 L526.8 409.7 L528.1 410.1 L529.4 410.4 L530.6 410.7 L531.9 411.1 L533.2 411.4 L534.5 411.7 L535.7 412.0 L537.0 412.3 L538.3 412.6 L539.6 412.9 L540.8 413.2 L542.1 413.5 L543.4 413.8 L544.6 414.0 L545.9 414.3 L547.2 414.5 L548.5 414.8 L549.7 415.0 L551.0 415.2 L552.3 415.4 L553.6 415.6 L554.8 415.8 L556.1 416.0 L557.4 416.2 L558.6 416.4 L559.9 416.6 L561.2 416.7 L562.5 416.9 L563.7 417.1 L565.0 417.2 L566.3 417.4 L567.5 417.5 L568.8 417.7 L570.1 417.8 L571.4 418.0 L572.6 418.1 L573.9 418.3 L575.2 418.4 L576.5 418.5 L577.7 418.6 L579.0 418.8 L580.3 418.9 L581.5 419.0 L582.8 419.1 L584.1 419.2 L585.4 419.4 L586.6 419.5 L587.9 419.6 L589.2 419.7 L590.5 419.8 L591.7 419.9 L593.0 420.0 L593.0 425.8 L591.7 425.7 L590.5 425.6 L589.2 425.5 L587.9 425.4 L586.6 425.2 L585.4 425.1 L584.1 425.0 L582.8 424.9 L581.5 424.8 L580.3 424.6 L579.0 424.5 L577.7 424.4 L576.5 424.3 L575.2 424.1 L573.9 424.0 L572.6 423.8 L571.4 423.7 L570.1 423.6 L568.8 423.4 L567.5 423.3 L566.3 423.1 L565.0 423.0 L563.7 422.8 L562.5 422.7 L561.2 422.5 L559.9 422.4 L558.6 422.2 L557.4 422.0 L556.1 421.9 L554.8 421.7 L553.6 421.5 L552.3 421.3 L551.0 421.1 L549.7 420.9 L548.5 420.7 L547.2 420.5 L545.9 420.3 L544.6 420.1 L543.4 419.9 L542.1 419.7 L540.8 419.5 L539.6 419.2 L538.3 419.0 L537.0 418.8 L535.7 418.5 L534.5 418.3 L533.2 418.0 L531.9 417.8 L530.6 417.5 L529.4 417.3 L528.1 417.0 L526.8 416.7 L525.6 416.5 L524.3 416.2 L523.0 415.9 L521.7 415.7 L520.5 415.4 L519.2 415.1 L517.9 414.9 L516.6 414.6 L515.4 414.4 L514.1 414.1 L512.8 413.9 L511.6 413.6 L510.3 413.3 L509.0 413.1 L507.7 412.8 L506.5 412.6 L505.2 412.3 L503.9 412.0 L502.7 411.8 L501.4 411.5 L500.1 411.3 L498.8 411.0 L497.6 410.7 L496.3 410.4 L495.0 410.1 L493.7 409.8 L492.5 409.5 L491.2 409.2 L489.9 408.9 L488.7 408.6 L487.4 408.2 L486.1 407.8 L484.8 407.5 L483.6 407.1 L482.3 406.6 L481.0 406.2 L479.7 405.7 L478.5 405.1 L477.2 404.6 L475.9 404.0 L474.7 403.3 L473.4 402.6 L472.1 401.9 L470.8 401.1 L469.6 400.2 L468.3 399.3 L467.0 398.4 L465.8 397.3 L464.5 396.2 L463.2 395.1 L461.9 393.8 L460.7 392.5 L459.4 391.0 L458.1 389.5 L456.8 387.7 L455.6 385.7 L454.3 383.6 L453.0 381.4 L451.8 379.1 L450.5 376.6 L449.2 373.9 L447.9 370.9 L446.7 367.4 L445.4 363.2 L444.1 358.0 L442.8 352.1 L441.6 345.2 L440.3 336.0Z" stroke="none" stroke-width="0" fill="#e8585c" />
<path d="M441.6 341.3V345.2M444.1 350.7V358.0M446.7 359.0V367.4M449.2 365.1V373.9M451.8 370.1V379.1M454.3 374.4V383.6M456.8 378.3V387.7M459.4 381.6V391.0M461.9 384.3V393.8M464.5 386.7V396.2M467.0 388.8V398.4M469.6 390.6V400.2M472.1 392.3V401.9M474.7 393.8V403.3M477.2 395.2V404.6M479.7 396.4V405.7M482.3 397.4V406.6M484.8 398.4V407.5M487.4 399.3V408.2M489.9 400.1V408.9M492.5 400.8V409.5M495.0 401.6V410.1M497.6 402.3V410.7M500.1 402.9V411.3M502.7 403.6V411.8M505.2 404.2V412.3M507.7 404.9V412.8M510.3 405.5V413.3M512.8 406.1V413.9M515.4 406.7V414.4M517.9 407.4V414.9M520.5 408.0V415.4M523.0 408.7V415.9M525.6 409.4V416.5M528.1 410.1V417.0M530.6 410.7V417.5M533.2 411.4V418.0M535.7 412.0V418.5M538.3 412.6V419.0M540.8 413.2V419.5M543.4 413.8V419.9M545.9 414.3V420.3M548.5 414.8V420.7M551.0 415.2V421.1M553.6 415.6V421.5M556.1 416.0V421.9M558.6 416.4V422.2M561.2 416.7V422.5M563.7 417.1V422.8M566.3 417.4V423.1M568.8 417.7V423.4M571.4 418.0V423.7M573.9 418.3V424.0M576.5 418.5V424.3M579.0 418.8V424.5M581.5 419.0V424.8M584.1 419.2V425.0M586.6 419.5V425.2M589.2 419.7V425.5M591.7 419.9V425.7" stroke="#cf1f27" stroke-width="0.8" fill="none" />
<path d="M440.3 336.0 L441.6 341.3 L442.8 346.1 L444.1 350.7 L445.4 355.2 L446.7 359.0 L447.9 362.2 L449.2 365.1 L450.5 367.7 L451.8 370.1 L453.0 372.3 L454.3 374.4 L455.6 376.4 L456.8 378.3 L458.1 380.0 L459.4 381.6 L460.7 383.0 L461.9 384.3 L463.2 385.5 L464.5 386.7 L465.8 387.7 L467.0 388.8 L468.3 389.7 L469.6 390.6 L470.8 391.5 L472.1 392.3 L473.4 393.1 L474.7 393.8 L475.9 394.5 L477.2 395.2 L478.5 395.8 L479.7 396.4 L481.0 396.9 L482.3 397.4 L483.6 397.9 L484.8 398.4 L486.1 398.8 L487.4 399.3 L488.7 399.7 L489.9 400.1 L491.2 400.5 L492.5 400.8 L493.7 401.2 L495.0 401.6 L496.3 401.9 L497.6 402.3 L498.8 402.6 L500.1 402.9 L501.4 403.3 L502.7 403.6 L503.9 403.9 L505.2 404.2 L506.5 404.5 L507.7 404.9 L509.0 405.2 L510.3 405.5 L511.6 405.8 L512.8 406.1 L514.1 406.4 L515.4 406.7 L516.6 407.1 L517.9 407.4 L519.2 407.7 L520.5 408.0 L521.7 408.4 L523.0 408.7 L524.3 409.0 L525.6 409.4 L526.8 409.7 L528.1 410.1 L529.4 410.4 L530.6 410.7 L531.9 411.1 L533.2 411.4 L534.5 411.7 L535.7 412.0 L537.0 412.3 L538.3 412.6 L539.6 412.9 L540.8 413.2 L542.1 413.5 L543.4 413.8 L544.6 414.0 L545.9 414.3 L547.2 414.5 L548.5 414.8 L549.7 415.0 L551.0 415.2 L552.3 415.4 L553.6 415.6 L554.8 415.8 L556.1 416.0 L557.4 416.2 L558.6 416.4 L559.9 416.6 L561.2 416.7 L562.5 416.9 L563.7 417.1 L565.0 417.2 L566.3 417.4 L567.5 417.5 L568.8 417.7 L570.1 417.8 L571.4 418.0 L572.6 418.1 L573.9 418.3 L575.2 418.4 L576.5 418.5 L577.7 418.6 L579.0 418.8 L580.3 418.9 L581.5 419.0 L582.8 419.1 L584.1 419.2 L585.4 419.4 L586.6 419.5 L587.9 419.6 L589.2 419.7 L590.5 419.8 L591.7 419.9 L593.0 420.0" stroke="#cf1f27" stroke-width="0.5" fill="none" />
<path d="M440.3 336.0 L441.6 345.2 L442.8 352.1 L444.1 358.0 L445.4 363.2 L446.7 367.4 L447.9 370.9 L449.2 373.9 L450.5 376.6 L451.8 379.1 L453.0 381.4 L454.3 383.6 L455.6 385.7 L456.8 387.7 L458.1 389.5 L459.4 391.0 L460.7 392.5 L461.9 393.8 L463.2 395.1 L464.5 396.2 L465.8 397.3 L467.0 398.4 L468.3 399.3 L469.6 400.2 L470.8 401.1 L472.1 401.9 L473.4 402.6 L474.7 403.3 L475.9 404.0 L477.2 404.6 L478.5 405.1 L479.7 405.7 L481.0 406.2 L482.3 406.6 L483.6 407.1 L484.8 407.5 L486.1 407.8 L487.4 408.2 L488.7 408.6 L489.9 408.9 L491.2 409.2 L492.5 409.5 L493.7 409.8 L495.0 410.1 L496.3 410.4 L497.6 410.7 L498.8 411.0 L500.1 411.3 L501.4 411.5 L502.7 411.8 L503.9 412.0 L505.2 412.3 L506.5 412.6 L507.7 412.8 L509.0 413.1 L510.3 413.3 L511.6 413.6 L512.8 413.9 L514.1 414.1 L515.4 414.4 L516.6 414.6 L517.9 414.9 L519.2 415.1 L520.5 415.4 L521.7 415.7 L523.0 415.9 L524.3 416.2 L525.6 416.5 L526.8 416.7 L528.1 417.0 L529.4 417.3 L530.6 417.5 L531.9 417.8 L533.2 418.0 L534.5 418.3 L535.7 418.5 L537.0 418.8 L538.3 419.0 L539.6 419.2 L540.8 419.5 L542.1 419.7 L543.4 419.9 L544.6 420.1 L545.9 420.3 L547.2 420.5 L548.5 420.7 L549.7 420.9 L551.0 421.1 L552.3 421.3 L553.6 421.5 L554.8 421.7 L556.1 421.9 L557.4 422.0 L558.6 422.2 L559.9 422.4 L561.2 422.5 L562.5 422.7 L563.7 422.8 L565.0 423.0 L566.3 423.1 L567.5 423.3 L568.8 423.4 L570.1 423.6 L571.4 423.7 L572.6 423.8 L573.9 424.0 L575.2 424.1 L576.5 424.3 L577.7 424.4 L579.0 424.5 L580.3 424.6 L581.5 424.8 L582.8 424.9 L584.1 425.0 L585.4 425.1 L586.6 425.2 L587.9 425.4 L589.2 425.5 L590.5 425.6 L591.7 425.7 L593.0 425.8" stroke="#cf1f27" stroke-width="0.5" fill="none" />
<path d="M440.3 345.2h2.6M441.5 352.1h2.6M442.8 358.0h2.6M444.1 363.2h2.6M445.4 367.4h2.6M446.6 370.9h2.6M447.9 373.9h2.6M449.2 376.6h2.6M450.5 379.1h2.6M451.7 381.4h2.6M453.0 383.6h2.6M454.3 385.7h2.6M455.5 387.7h2.6M456.8 389.5h2.6M458.1 391.0h2.6" stroke="#cf1f27" stroke-width="0.6" fill="none" />
<path d="M440.3 341.3h2.6M441.5 346.1h2.6M442.8 350.7h2.6M444.1 355.2h2.6M445.4 359.0h2.6M446.6 362.2h2.6M447.9 365.1h2.6M449.2 367.7h2.6M450.5 370.1h2.6" stroke="#cf1f27" stroke-width="0.6" fill="none" />
<path d="M440.3 336.0 L441.6 343.2 L442.8 349.1 L444.1 354.4 L445.4 359.2 L446.7 363.2 L447.9 366.5 L449.2 369.5 L450.5 372.1 L451.8 374.6 L453.0 376.8 L454.3 379.0 L455.6 381.1 L456.8 383.0 L458.1 384.7 L459.4 386.3 L460.7 387.7 L461.9 389.0 L463.2 390.3 L464.5 391.4 L465.8 392.5 L467.0 393.6 L468.3 394.5 L469.6 395.4 L470.8 396.3 L472.1 397.1 L473.4 397.9 L474.7 398.6 L475.9 399.2 L477.2 399.9 L478.5 400.5 L479.7 401.0 L481.0 401.5 L482.3 402.0 L483.6 402.5 L484.8 402.9 L486.1 403.3 L487.4 403.7 L488.7 404.1 L489.9 404.5 L491.2 404.8 L492.5 405.2 L493.7 405.5 L495.0 405.9 L496.3 406.2 L497.6 406.5 L498.8 406.8 L500.1 407.1 L501.4 407.4 L502.7 407.7 L503.9 408.0 L505.2 408.3 L506.5 408.6 L507.7 408.8 L509.0 409.1 L510.3 409.4 L511.6 409.7 L512.8 410.0 L514.1 410.3 L515.4 410.6 L516.6 410.8 L517.9 411.1 L519.2 411.4 L520.5 411.7 L521.7 412.0 L523.0 412.3 L524.3 412.6 L525.6 412.9 L526.8 413.2 L528.1 413.5 L529.4 413.8 L530.6 414.1 L531.9 414.4 L533.2 414.7 L534.5 415.0 L535.7 415.3 L537.0 415.5 L538.3 415.8 L539.6 416.1 L540.8 416.3 L542.1 416.6 L543.4 416.8 L544.6 417.1 L545.9 417.3 L547.2 417.5 L548.5 417.8 L549.7 418.0 L551.0 418.2 L552.3 418.4 L553.6 418.6 L554.8 418.8 L556.1 418.9 L557.4 419.1 L558.6 419.3 L559.9 419.5 L561.2 419.6 L562.5 419.8 L563.7 419.9 L565.0 420.1 L566.3 420.3 L567.5 420.4 L568.8 420.6 L570.1 420.7 L571.4 420.8 L572.6 421.0 L573.9 421.1 L575.2 421.3 L576.5 421.4 L577.7 421.5 L579.0 421.6 L580.3 421.8 L581.5 421.9 L582.8 422.0 L584.1 422.1 L585.4 422.2 L586.6 422.4 L587.9 422.5 L589.2 422.6 L590.5 422.7 L591.7 422.8 L593.0 422.9" stroke="#fbd5d5" stroke-width="0.6" fill="none" />
<line x1="440.30" y1="335.20" x2="440.30" y2="437.60" stroke="#111" stroke-width="1.65" />
<line x1="439.50" y1="436.80" x2="593.80" y2="436.80" stroke="#111" stroke-width="1.65" />
<line x1="436.10" y1="436.80" x2="440.30" y2="436.80" stroke="#111" stroke-width="1.2" />
<text x="434.70" y="439.30" font-size="7.0" text-anchor="end">0.0</text>
<line x1="436.10" y1="416.64" x2="440.30" y2="416.64" stroke="#111" stroke-width="1.2" />
<text x="434.70" y="419.14" font-size="7.0" text-anchor="end">0.2</text>
<line x1="436.10" y1="396.48" x2="440.30" y2="396.48" stroke="#111" stroke-width="1.2" />
<text x="434.70" y="398.98" font-size="7.0" text-anchor="end">0.4</text>
<line x1="436.10" y1="376.32" x2="440.30" y2="376.32" stroke="#111" stroke-width="1.2" />
<text x="434.70" y="378.82" font-size="7.0" text-anchor="end">0.6</text>
<line x1="436.10" y1="356.16" x2="440.30" y2="356.16" stroke="#111" stroke-width="1.2" />
<text x="434.70" y="358.66" font-size="7.0" text-anchor="end">0.8</text>
<line x1="436.10" y1="336.00" x2="440.30" y2="336.00" stroke="#111" stroke-width="1.2" />
<text x="434.70" y="338.50" font-size="7.0" text-anchor="end">1.0</text>
<line x1="440.30" y1="436.80" x2="440.30" y2="440.50" stroke="#111" stroke-width="1.2" />
<text x="440.30" y="448.90" font-size="7.0" text-anchor="middle">0</text>
<line x1="478.48" y1="436.80" x2="478.48" y2="440.50" stroke="#111" stroke-width="1.2" />
<text x="478.48" y="448.90" font-size="7.0" text-anchor="middle">30</text>
<line x1="516.65" y1="436.80" x2="516.65" y2="440.50" stroke="#111" stroke-width="1.2" />
<text x="516.65" y="448.90" font-size="7.0" text-anchor="middle">60</text>
<line x1="554.83" y1="436.80" x2="554.83" y2="440.50" stroke="#111" stroke-width="1.2" />
<text x="554.83" y="448.90" font-size="7.0" text-anchor="middle">90</text>
<line x1="593.00" y1="436.80" x2="593.00" y2="440.50" stroke="#111" stroke-width="1.2" />
<text x="593.00" y="448.90" font-size="7.0" text-anchor="middle">120</text>
<text x="420.80" y="385.60" font-size="9.45" text-anchor="middle" transform="rotate(-90 420.80 385.60)">Correlation coefficient</text>
<text x="516.00" y="462.30" font-size="9.47" text-anchor="middle">Time interval (s)</text>
<line x1="497.60" y1="342.40" x2="508.70" y2="342.40" stroke="#a9c9e8" stroke-width="0.9" />
<line x1="497.60" y1="356.20" x2="508.70" y2="356.20" stroke="#d2232a" stroke-width="0.7" />
<line x1="503.15" y1="355.40" x2="503.15" y2="357.00" stroke="#a0141a" stroke-width="0.7" />
<text x="514.80" y="345.15" font-size="7.53">AZD8055</text>
<text x="514.80" y="358.95" font-size="7.53">AZD8055 + adenine</text>
<text x="583.00" y="356.80" font-size="9.5" font-weight="bold">**</text>
<text x="2.40" y="495.30" font-size="11.5">J</text>
<line x1="11.50" y1="488.90" x2="600.00" y2="488.90" stroke="#111" stroke-width="1.25" />
<line x1="11.50" y1="515.50" x2="600.00" y2="515.50" stroke="#333" stroke-width="0.8" />
<line x1="11.50" y1="631.40" x2="600.00" y2="631.40" stroke="#111" stroke-width="1.25" />
<text x="162.00" y="505.40" font-size="9.0" text-anchor="middle">Control</text>
<text x="246.60" y="505.40" font-size="9.0" text-anchor="middle">Control (adenine)</text>
<text x="329.50" y="505.40" font-size="9.0" text-anchor="middle"><tspan font-style="italic">rb10</tspan></text>
<text x="407.30" y="505.40" font-size="9.0" text-anchor="middle"><tspan font-style="italic">rb10</tspan> (adenine)</text>
<text x="486.70" y="505.40" font-size="9.0" text-anchor="middle"><tspan font-style="italic">rb64</tspan></text>
<text x="563.30" y="505.40" font-size="9.0" text-anchor="middle"><tspan font-style="italic">rb64</tspan> (adenine)</text>
<text x="12.20" y="530.70" font-size="9.0">Elongation rate (μm/s)</text>
<text x="12.20" y="549.40" font-size="9.0">Severing frequency</text>
<text x="12.20" y="559.60" font-size="9.0">(breaks/μm/s)</text>
<text x="12.20" y="578.30" font-size="9.0">Max. filament length (μm)</text>
<text x="12.20" y="601.20" font-size="9.0">Max. filament lifetime (s)</text>
<text x="12.20" y="618.80" font-size="9.0">Depolymerization rate</text>
<text x="12.20" y="629.30" font-size="9.0">(μm/s)</text>
<text x="162.30" y="530.60" font-size="9.0" text-anchor="middle">1.4 ± 0.6 (49)</text>
<text x="246.70" y="530.60" font-size="9.0" text-anchor="middle">1.4 ± 0.5 (54)</text>
<text x="329.20" y="530.60" font-size="9.0" text-anchor="middle">1.0 ± 0.5 (51)</text>
<text x="405.30" y="530.60" font-size="9.0" text-anchor="middle">1.2 ± 0.3 (56)</text>
<text x="433.30" y="528.95" font-size="12.5">*</text>
<text x="488.00" y="530.60" font-size="9.0" text-anchor="middle">1.0 ± 0.4 (55)</text>
<text x="561.30" y="530.60" font-size="9.0" text-anchor="middle">1.2 ± 0.3 (53)</text>
<text x="589.20" y="528.95" font-size="12.5">*</text>
<text x="161.60" y="548.30" font-size="9.0" text-anchor="middle">0.0091 ± 0.003</text>
<text x="161.70" y="559.50" font-size="9.0" text-anchor="middle">(52)</text>
<text x="246.30" y="548.30" font-size="9.0" text-anchor="middle">0.0140 ± 0.006</text>
<text x="243.30" y="559.50" font-size="9.0" text-anchor="middle">(50)</text>
<text x="251.80" y="558.85" font-size="12.5">**</text>
<text x="329.60" y="548.30" font-size="9.0" text-anchor="middle">0.0066 ± 0.002</text>
<text x="329.60" y="559.50" font-size="9.0" text-anchor="middle">(49)</text>
<text x="405.70" y="548.30" font-size="9.0" text-anchor="middle">0.0106 ± 0.004</text>
<text x="402.90" y="559.50" font-size="9.0" text-anchor="middle">(50)</text>
<text x="411.70" y="558.85" font-size="12.5">**</text>
<text x="486.40" y="548.30" font-size="9.0" text-anchor="middle">0.0068 ± 0.003</text>
<text x="486.70" y="559.50" font-size="9.0" text-anchor="middle">(51)</text>
<text x="562.90" y="548.30" font-size="9.0" text-anchor="middle">0.0105 ± 0.004</text>
<text x="559.50" y="559.50" font-size="9.0" text-anchor="middle">(50)</text>
<text x="568.00" y="558.85" font-size="12.5">**</text>
<text x="162.00" y="578.30" font-size="9.0" text-anchor="middle">9.2 ± 2.4 (52)</text>
<text x="244.50" y="578.30" font-size="9.0" text-anchor="middle">7.8 ± 2.5 (50)</text>
<text x="272.30" y="577.15" font-size="12.5">*</text>
<text x="329.20" y="578.30" font-size="9.0" text-anchor="middle">9.2 ± 2.9 (49)</text>
<text x="407.30" y="578.30" font-size="9.0" text-anchor="middle">8.2 ± 1.8 (50)</text>
<text x="486.70" y="578.30" font-size="9.0" text-anchor="middle">9.0 ± 3.3 (51)</text>
<text x="564.00" y="578.30" font-size="9.0" text-anchor="middle">8.1 ± 2.0 (50)</text>
<text x="162.00" y="600.80" font-size="9.0" text-anchor="middle">16.9 ± 5.9 (52)</text>
<text x="245.00" y="600.80" font-size="9.0" text-anchor="middle">14.7 ± 4.6 (50)</text>
<text x="274.70" y="600.05" font-size="12.5">*</text>
<text x="329.00" y="600.80" font-size="9.0" text-anchor="middle">22.7 ± 7.5 (49)</text>
<text x="404.00" y="600.80" font-size="9.0" text-anchor="middle">15.0 ± 4.0 (50)</text>
<text x="434.00" y="600.05" font-size="12.5">**</text>
<text x="485.00" y="600.80" font-size="9.0" text-anchor="middle">21.0 ± 6.4 (51)</text>
<text x="560.70" y="600.80" font-size="9.0" text-anchor="middle">16.0 ± 5.1 (50)</text>
<text x="590.00" y="600.05" font-size="12.5">**</text>
<text x="162.00" y="622.90" font-size="9.0" text-anchor="middle">0.3 ± 0.2 (59)</text>
<text x="246.70" y="622.90" font-size="9.0" text-anchor="middle">0.3 ± 0.1 (51)</text>
<text x="329.20" y="622.90" font-size="9.0" text-anchor="middle">0.3 ± 0.1 (61)</text>
<text x="407.30" y="622.90" font-size="9.0" text-anchor="middle">0.3 ± 0.1 (55)</text>
<text x="487.00" y="622.90" font-size="9.0" text-anchor="middle">0.3 ±0.1 (57)</text>
<text x="564.00" y="622.90" font-size="9.0" text-anchor="middle">0.3 ± 0.1 (52)</text>
</svg>
</body></html>
